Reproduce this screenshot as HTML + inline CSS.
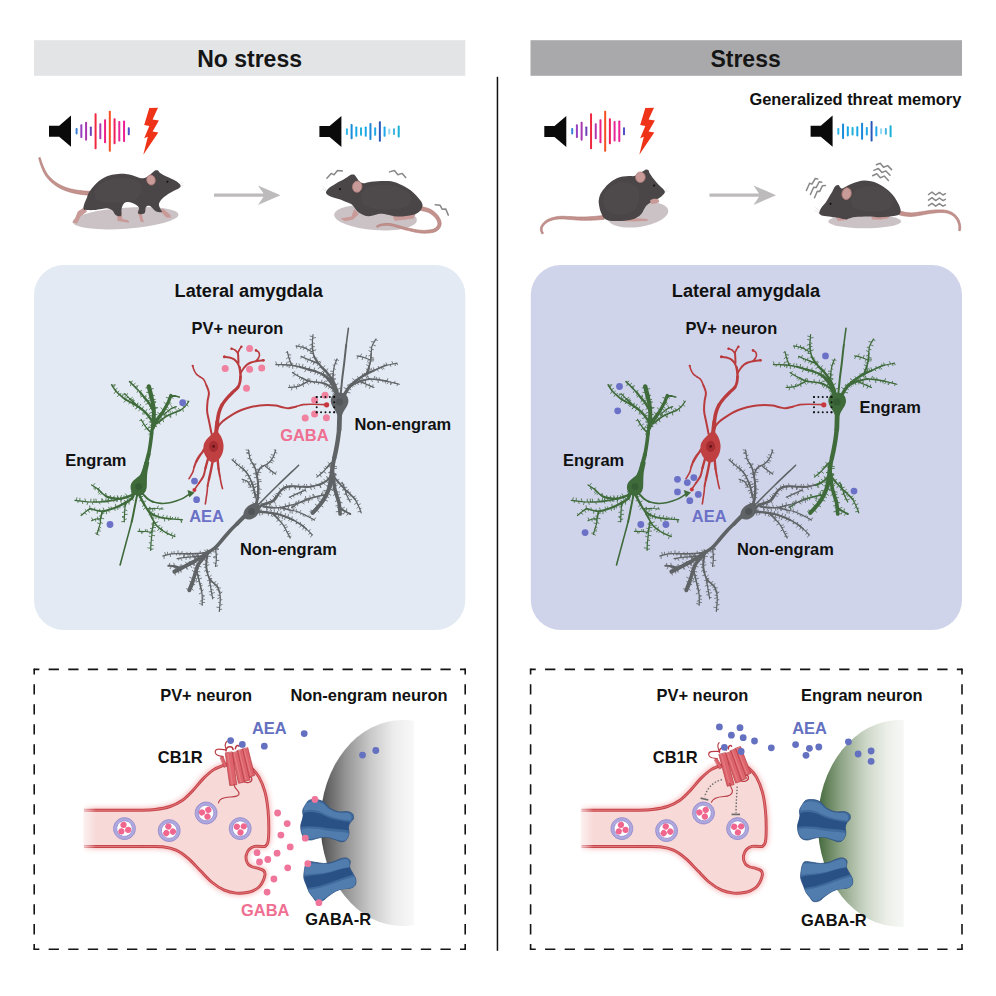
<!DOCTYPE html>
<html><head><meta charset="utf-8"><title>Graphical abstract</title>
<style>
html,body{margin:0;padding:0;background:#fff;}
svg{display:block;font-family:"Liberation Sans",sans-serif;font-weight:bold;}
</style></head><body>
<svg width="996" height="996" viewBox="0 0 996 996">
<rect width="996" height="996" fill="#fff"/>
<rect x="34" y="40.2" width="431.3" height="35.6" fill="#e3e4e5"/>
<rect x="530.5" y="40.2" width="431.5" height="35.6" fill="#a9a9ab"/>
<text x="249.6" y="67.3" font-size="23" text-anchor="middle" fill="#151515">No stress</text>
<text x="745.6" y="67.3" font-size="23" text-anchor="middle" fill="#151515">Stress</text>
<rect x="496.7" y="76.8" width="1.5" height="874" fill="#111"/>
<rect x="34" y="265" width="431.3" height="365" rx="30" fill="#e3eaf4"/>
<rect x="530.8" y="265" width="431.2" height="365" rx="30" fill="#cfd4ea"/>
<line x1="34.2" y1="669.4" x2="465.2" y2="669.4" fill="none" stroke="#141414" stroke-width="1.6" stroke-dasharray="10.30 9.29" stroke-dashoffset="5.15"/>
<line x1="34.2" y1="949.3" x2="465.2" y2="949.3" fill="none" stroke="#141414" stroke-width="1.6" stroke-dasharray="10.30 9.29" stroke-dashoffset="5.15"/>
<line x1="34.2" y1="669.4" x2="34.2" y2="949.3" fill="none" stroke="#141414" stroke-width="1.6" stroke-dasharray="10.30 9.69" stroke-dashoffset="5.15"/>
<line x1="465.2" y1="669.4" x2="465.2" y2="949.3" fill="none" stroke="#141414" stroke-width="1.6" stroke-dasharray="10.30 9.69" stroke-dashoffset="5.15"/>
<path d="M34.2 669.4h.1M465.1 669.4h.1M34.2 949.3h.1M465.1 949.3h.1" stroke="#141414" stroke-width="1.6" stroke-linecap="square"/>
<line x1="530.6" y1="669.4" x2="962.0" y2="669.4" fill="none" stroke="#141414" stroke-width="1.6" stroke-dasharray="10.30 9.31" stroke-dashoffset="5.15"/>
<line x1="530.6" y1="949.3" x2="962.0" y2="949.3" fill="none" stroke="#141414" stroke-width="1.6" stroke-dasharray="10.30 9.31" stroke-dashoffset="5.15"/>
<line x1="530.6" y1="669.4" x2="530.6" y2="949.3" fill="none" stroke="#141414" stroke-width="1.6" stroke-dasharray="10.30 9.69" stroke-dashoffset="5.15"/>
<line x1="962.0" y1="669.4" x2="962.0" y2="949.3" fill="none" stroke="#141414" stroke-width="1.6" stroke-dasharray="10.30 9.69" stroke-dashoffset="5.15"/>
<path d="M530.6 669.4h.1M961.9 669.4h.1M530.6 949.3h.1M961.9 949.3h.1" stroke="#141414" stroke-width="1.6" stroke-linecap="square"/>
<g id="top">
<path d="M49.0 125.7h10.2L71.0 115.6V146.8L59.2 136.7h-10.2z" fill="#0a0a0a"/>
<rect x="75.60" y="128.00" width="2" height="6.40" rx=".8" fill="#3a80d8"/>
<rect x="80.34" y="124.35" width="2" height="13.70" rx=".8" fill="#9840c0"/>
<rect x="85.09" y="121.75" width="2" height="18.90" rx=".8" fill="#a838b0"/>
<rect x="89.83" y="126.40" width="2" height="9.60" rx=".8" fill="#7040b8"/>
<rect x="94.58" y="113.20" width="2" height="36.00" rx=".8" fill="#f02840"/>
<rect x="99.32" y="123.20" width="2" height="16.00" rx=".8" fill="#b038b0"/>
<rect x="104.07" y="119.20" width="2" height="24.00" rx=".8" fill="#ee2088"/>
<rect x="108.81" y="110.70" width="2" height="41.00" rx=".8" fill="#f45022"/>
<rect x="113.56" y="118.20" width="2" height="26.00" rx=".8" fill="#f0205c"/>
<rect x="118.30" y="120.95" width="2" height="20.50" rx=".8" fill="#e8289a"/>
<rect x="123.05" y="120.45" width="2" height="21.50" rx=".8" fill="#ee2094"/>
<rect x="127.79" y="127.20" width="2" height="8.00" rx=".8" fill="#5050c8"/>
<polygon points="149.3,108.1 158.0,107.8 152.6,119.6 158.9,120.5 152.6,131.6 158.3,132.5 143.3,154.8 147.8,136.7 144.2,138.3 149.3,125.9 144.2,125.0" fill="#ef3318"/>
<path d="M319.4 126.0h10.2L341.4 115.9V147.1L329.6 137.0h-10.2z" fill="#0a0a0a"/>
<rect x="345.90" y="128.20" width="2" height="6.80" rx=".8" fill="#30b8ee"/>
<rect x="350.61" y="123.90" width="2" height="15.40" rx=".8" fill="#1a8cd8"/>
<rect x="355.32" y="126.50" width="2" height="10.20" rx=".8" fill="#18a8e6"/>
<rect x="360.03" y="127.35" width="2" height="8.50" rx=".8" fill="#20b0d8"/>
<rect x="364.74" y="126.50" width="2" height="10.20" rx=".8" fill="#18a8e8"/>
<rect x="369.45" y="123.10" width="2" height="17.00" rx=".8" fill="#1a88d6"/>
<rect x="374.16" y="127.35" width="2" height="8.50" rx=".8" fill="#22a8e8"/>
<rect x="378.87" y="121.35" width="2" height="20.50" rx=".8" fill="#2a58b8"/>
<rect x="383.58" y="126.50" width="2" height="10.20" rx=".8" fill="#20a8ec"/>
<rect x="388.29" y="128.60" width="2" height="6.00" rx=".8" fill="#90d8f4"/>
<rect x="393.00" y="128.20" width="2" height="6.80" rx=".8" fill="#48b4e0"/>
<rect x="397.71" y="125.60" width="2" height="12.00" rx=".8" fill="#18b0d6"/>
<path d="M544.3 126.0h10.2L566.3 115.9V147.1L554.5 137.0h-10.2z" fill="#0a0a0a"/>
<rect x="571.20" y="128.00" width="2" height="6.40" rx=".8" fill="#3a80d8"/>
<rect x="575.91" y="124.35" width="2" height="13.70" rx=".8" fill="#9840c0"/>
<rect x="580.62" y="121.75" width="2" height="18.90" rx=".8" fill="#a838b0"/>
<rect x="585.33" y="126.40" width="2" height="9.60" rx=".8" fill="#7040b8"/>
<rect x="590.04" y="113.20" width="2" height="36.00" rx=".8" fill="#f02840"/>
<rect x="594.75" y="123.20" width="2" height="16.00" rx=".8" fill="#b038b0"/>
<rect x="599.46" y="119.20" width="2" height="24.00" rx=".8" fill="#ee2088"/>
<rect x="604.17" y="110.70" width="2" height="41.00" rx=".8" fill="#f45022"/>
<rect x="608.88" y="118.20" width="2" height="26.00" rx=".8" fill="#f0205c"/>
<rect x="613.59" y="120.95" width="2" height="20.50" rx=".8" fill="#e8289a"/>
<rect x="618.30" y="120.45" width="2" height="21.50" rx=".8" fill="#ee2094"/>
<rect x="623.01" y="127.20" width="2" height="8.00" rx=".8" fill="#5050c8"/>
<polygon points="645.3,108.1 654.0,107.8 648.6,119.6 654.9,120.5 648.6,131.6 654.3,132.5 639.3,154.8 643.8,136.7 640.2,138.3 645.3,125.9 640.2,125.0" fill="#ef3318"/>
<path d="M810.6 125.7h10.2L832.6 115.6V146.8L820.8 136.7h-10.2z" fill="#0a0a0a"/>
<rect x="837.30" y="127.90" width="2" height="6.80" rx=".8" fill="#30b8ee"/>
<rect x="842.05" y="123.60" width="2" height="15.40" rx=".8" fill="#1a8cd8"/>
<rect x="846.81" y="126.20" width="2" height="10.20" rx=".8" fill="#18a8e6"/>
<rect x="851.56" y="127.05" width="2" height="8.50" rx=".8" fill="#20b0d8"/>
<rect x="856.32" y="126.20" width="2" height="10.20" rx=".8" fill="#18a8e8"/>
<rect x="861.07" y="122.80" width="2" height="17.00" rx=".8" fill="#1a88d6"/>
<rect x="865.83" y="127.05" width="2" height="8.50" rx=".8" fill="#22a8e8"/>
<rect x="870.58" y="121.05" width="2" height="20.50" rx=".8" fill="#2a58b8"/>
<rect x="875.34" y="126.20" width="2" height="10.20" rx=".8" fill="#20a8ec"/>
<rect x="880.09" y="128.30" width="2" height="6.00" rx=".8" fill="#90d8f4"/>
<rect x="884.85" y="127.90" width="2" height="6.80" rx=".8" fill="#48b4e0"/>
<rect x="889.60" y="125.30" width="2" height="12.00" rx=".8" fill="#18b0d6"/>
<path d="M214.0 193.6H263.5L258.0 185.4L280.5 195.2L258.0 205.0L263.5 196.8H214.0z" fill="#bdbbbc"/>
<path d="M709.5 193.6H759.0L753.5 185.4L776.0 195.2L753.5 205.0L759.0 196.8H709.5z" fill="#bdbbbc"/>
<ellipse cx="125.6" cy="218.2" rx="53" ry="10.6" fill="#cbc2c5" transform="rotate(-4 125.6 218.2)"/>
<polygon points="38.6,158.0 38.8,158.4 38.9,159.0 39.1,159.6 39.3,160.4 39.6,161.2 39.8,162.1 40.1,163.0 40.4,163.9 40.7,164.8 41.0,165.7 41.3,166.6 41.6,167.4 41.9,168.1 42.2,168.9 42.5,169.6 42.8,170.4 43.2,171.1 43.5,171.9 43.9,172.6 44.3,173.4 44.7,174.1 45.1,174.8 45.6,175.6 46.1,176.3 46.6,176.9 47.1,177.6 47.6,178.2 48.1,178.8 48.7,179.5 49.3,180.1 49.9,180.7 50.5,181.3 51.1,181.9 51.7,182.4 52.4,183.0 53.0,183.5 53.7,184.1 54.4,184.6 55.0,185.1 55.7,185.6 56.4,186.1 57.2,186.5 57.9,187.0 58.6,187.4 59.4,187.8 60.2,188.3 61.0,188.7 61.8,189.1 62.6,189.4 63.4,189.8 64.2,190.1 64.9,190.4 65.7,190.7 66.5,191.0 67.3,191.3 68.1,191.5 68.9,191.8 69.7,192.0 70.5,192.3 71.4,192.5 72.2,192.7 73.1,192.9 73.9,193.1 74.8,193.3 75.7,193.5 76.5,193.7 77.4,193.8 78.3,194.0 79.2,194.1 80.2,194.3 81.2,194.4 82.1,194.5 83.1,194.6 84.0,194.7 85.0,194.8 85.8,194.9 86.7,195.0 87.5,195.1 88.2,195.2 88.8,195.3 89.3,195.3 89.8,195.4 90.2,191.4 89.7,191.4 89.2,191.3 88.5,191.3 87.8,191.2 87.0,191.2 86.2,191.1 85.3,191.1 84.4,191.0 83.5,190.9 82.5,190.8 81.6,190.7 80.6,190.6 79.7,190.5 78.8,190.4 77.9,190.3 77.1,190.2 76.3,190.1 75.5,189.9 74.6,189.8 73.8,189.6 73.0,189.4 72.2,189.2 71.4,189.1 70.6,188.9 69.8,188.7 69.0,188.4 68.2,188.2 67.5,188.0 66.7,187.8 66.0,187.5 65.3,187.2 64.6,187.0 63.8,186.7 63.0,186.3 62.2,186.0 61.5,185.6 60.8,185.3 60.0,184.9 59.3,184.5 58.6,184.1 57.9,183.7 57.3,183.3 56.6,182.8 56.0,182.4 55.3,181.9 54.7,181.5 54.0,181.0 53.4,180.5 52.8,180.0 52.2,179.4 51.6,178.9 51.0,178.3 50.5,177.8 49.9,177.2 49.4,176.6 48.9,176.1 48.4,175.5 47.9,174.9 47.4,174.3 47.0,173.6 46.6,173.0 46.2,172.3 45.8,171.6 45.4,170.9 45.1,170.2 44.7,169.5 44.4,168.8 44.1,168.1 43.7,167.4 43.4,166.6 43.1,165.9 42.8,165.1 42.4,164.2 42.1,163.3 41.8,162.4 41.5,161.5 41.2,160.7 41.0,159.9 40.7,159.1 40.5,158.5 40.3,157.9 40.2,157.4" fill="#c4928c" stroke="#b07d7a" stroke-width=".7" stroke-linejoin="round"/>
<path d="M84.5 207 L77.8 211.4 L75 218.5 L72.3 222.6 L77.2 223.6 L80.5 216.6 L87 211.4z" fill="#c99b98"/>
<path d="M116.8 213 L117.6 220.9 L129.3 222.8 L128.3 220.2 L122.4 218.9 L121.8 213z" fill="#c99b98"/>
<path d="M137.5 211 L140.7 221.8 L143.9 222.6 L142.8 218.3 L141.2 211z" fill="#c99b98"/>
<path d="M158.6 209.5 L166.3 217.6 L171.2 217.8 L170.2 214.8 L163.5 209z" fill="#c99b98"/>
<path d="M88.6 193.0C89.6 191.2 91.6 188.6 93.2 186.7C94.8 184.8 96.5 183.1 98.3 181.6C100.1 180.1 102.0 178.9 104.0 177.8C106.0 176.8 107.9 175.9 110.2 175.3C112.5 174.7 115.4 174.2 118.0 174.0C120.6 173.8 123.1 173.7 125.6 173.9C128.1 174.1 130.4 174.7 133.0 175.4C135.6 176.1 138.6 177.9 140.9 178.2C143.2 178.5 145.0 178.0 147.0 177.0C149.0 176.0 151.5 173.3 152.9 172.2C154.3 171.1 154.7 170.6 155.5 170.3C156.3 170.0 157.2 170.1 158.0 170.6C158.8 171.1 159.1 172.3 160.5 173.3C161.9 174.3 164.6 175.6 166.5 176.5C168.4 177.4 170.3 178.2 172.0 179.0C173.7 179.8 175.4 180.5 176.8 181.6C178.2 182.7 180.3 184.5 180.7 185.6C181.1 186.7 180.2 187.3 179.0 188.2C177.8 189.1 175.5 189.8 173.4 191.0C171.3 192.2 168.5 193.8 166.5 195.2C164.5 196.6 162.7 197.9 161.4 199.5C160.1 201.1 159.0 202.9 158.9 204.6C158.8 206.3 160.3 208.5 160.8 209.7C161.3 210.9 162.8 211.7 162.0 212.0C161.2 212.3 158.3 212.6 156.3 211.6C154.3 210.6 151.7 206.8 150.0 206.0C148.3 205.2 146.9 205.8 146.0 207.0C145.1 208.2 145.8 212.2 144.5 213.3C143.2 214.4 139.1 214.4 138.2 213.4C137.2 212.4 139.8 208.9 138.8 207.2C137.8 205.4 134.4 203.8 132.4 202.9C130.4 202.0 128.5 201.8 127.0 202.0C125.5 202.2 124.4 202.8 123.5 204.0C122.6 205.2 122.0 207.0 121.6 209.0C121.2 211.0 122.0 214.9 121.0 215.9C120.0 216.9 117.0 215.9 115.6 215.0C114.2 214.1 113.8 211.6 112.5 210.5C111.2 209.4 109.8 208.7 108.0 208.4C106.2 208.1 104.0 208.6 101.7 208.9C99.4 209.2 96.3 209.8 94.0 210.0C91.7 210.2 89.7 210.2 88.0 210.0C86.3 209.8 84.2 210.2 83.6 209.0C83.0 207.8 84.0 204.9 84.6 203.0C85.2 201.1 86.3 199.2 87.0 197.5C87.7 195.8 87.6 194.8 88.6 193.0Z" fill="#4a4547"/>
<path d="M100 184 C110 177 126 176 138 181 C144 186 143 196 133 200 C120 203 106 204 96 200 C93 194 95 188 100 184z" fill="#5b5658" opacity=".3"/>
<ellipse cx="151" cy="180" rx="4.2" ry="5" fill="#c99b98" stroke="#b07d7a" stroke-width=".8" transform="rotate(-15 151 180)"/>
<circle cx="167.4" cy="181.8" r="1" fill="#111"/>
<path d="M180 185 l3.5 -3 M180.3 186 l3.6 -1" stroke="#e6e2e2" stroke-width=".6" fill="none"/>
<ellipse cx="375.5" cy="217.5" rx="41.5" ry="12.6" fill="#cbc2c5" transform="rotate(4 375.5 217.5)"/>
<polygon points="420.5,210.4 421.1,210.5 421.7,210.6 422.4,210.8 423.1,211.0 423.9,211.1 424.8,211.3 425.7,211.6 426.5,211.8 427.3,212.0 428.1,212.3 428.8,212.6 429.4,212.9 430.1,213.3 430.7,213.7 431.4,214.2 432.1,214.7 432.7,215.2 433.4,215.8 434.0,216.3 434.5,216.9 435.0,217.5 435.5,218.0 435.9,218.6 436.3,219.2 436.7,219.9 437.1,220.6 437.4,221.4 437.6,222.0 437.8,222.7 437.9,223.3 437.9,223.9 437.8,224.4 437.7,224.9 437.5,225.5 437.2,226.0 436.8,226.6 436.4,227.1 435.9,227.6 435.4,228.1 434.7,228.5 433.9,228.9 433.4,229.1 432.8,229.3 432.2,229.5 431.4,229.6 430.7,229.8 429.9,229.9 429.1,230.0 428.2,230.1 427.3,230.2 426.5,230.3 425.5,230.3 424.6,230.4 423.7,230.4 422.8,230.4 421.9,230.3 421.2,230.3 420.4,230.2 419.7,230.2 418.9,230.1 418.1,230.0 417.4,229.9 416.6,229.8 415.7,229.6 414.9,229.5 414.1,229.3 413.3,229.2 412.5,229.0 411.6,228.8 410.8,228.6 410.0,228.5 409.1,228.3 408.3,228.1 407.5,227.9 406.7,227.7 405.9,227.6 405.1,227.4 404.3,227.2 403.5,227.0 402.7,226.8 401.9,226.5 401.1,226.3 400.3,226.1 399.4,225.8 398.6,225.6 397.8,225.3 397.0,225.1 396.2,224.9 395.4,224.7 394.6,224.5 393.9,224.3 393.1,224.1 392.4,224.0 391.7,223.8 391.1,223.7 390.0,223.6 388.9,223.5 388.0,223.5 387.0,223.4 386.1,223.5 385.2,223.5 384.4,223.6 383.7,223.7 382.9,223.8 382.2,223.9 381.6,224.0 381.0,224.1 379.6,224.4 378.4,224.9 377.5,225.4 376.9,225.8 376.4,226.1 377.2,227.5 377.7,227.2 378.4,226.8 379.1,226.4 380.1,226.0 381.2,225.7 381.8,225.7 382.5,225.6 383.1,225.5 383.8,225.4 384.6,225.4 385.4,225.3 386.2,225.3 387.0,225.3 387.9,225.3 388.8,225.4 389.8,225.5 390.7,225.7 391.4,225.8 392.0,225.9 392.7,226.1 393.4,226.3 394.1,226.5 394.9,226.7 395.6,226.9 396.4,227.1 397.2,227.4 398.0,227.6 398.8,227.9 399.6,228.2 400.4,228.4 401.3,228.7 402.1,228.9 402.9,229.2 403.7,229.4 404.5,229.6 405.3,229.9 406.1,230.1 407.0,230.2 407.8,230.4 408.6,230.6 409.4,230.8 410.3,231.0 411.1,231.2 411.9,231.4 412.8,231.6 413.6,231.8 414.4,232.0 415.3,232.2 416.1,232.3 416.9,232.5 417.7,232.6 418.6,232.7 419.4,232.8 420.2,232.9 421.0,233.0 421.7,233.1 422.7,233.1 423.7,233.2 424.7,233.2 425.6,233.2 426.6,233.1 427.6,233.1 428.5,233.0 429.4,232.9 430.3,232.8 431.2,232.7 432.0,232.5 432.9,232.4 433.6,232.2 434.4,232.0 435.1,231.7 436.2,231.2 437.1,230.6 438.0,230.0 438.8,229.2 439.4,228.4 440.0,227.6 440.4,226.8 440.7,225.9 441.0,225.0 441.1,224.1 441.1,223.1 441.0,222.1 440.8,221.2 440.5,220.2 440.2,219.3 439.7,218.4 439.2,217.5 438.7,216.6 438.2,215.9 437.7,215.2 437.1,214.6 436.5,213.9 435.8,213.2 435.1,212.5 434.3,211.9 433.6,211.3 432.8,210.7 432.0,210.2 431.2,209.7 430.4,209.3 429.5,208.9 428.5,208.5 427.6,208.2 426.7,207.9 425.7,207.7 424.8,207.4 424.0,207.2 423.2,207.1 422.6,206.9 422.0,206.7 421.7,206.6" fill="#c4928c" stroke="#b07d7a" stroke-width=".7" stroke-linejoin="round"/>
<path d="M354 209 L351.5 216.6 L340.3 218.6 L345.2 221.3 L353 219.5 L359 214z" fill="#c99b98"/>
<path d="M392.8 216 L394.5 220.8 L403 220 L413.6 218.5 L415.5 214z" fill="#c99b98"/>
<path d="M326.0 191.8C326.3 190.7 327.8 189.1 329.0 188.0C330.2 186.9 331.8 186.2 333.3 185.3C334.8 184.4 336.4 183.2 338.0 182.3C339.6 181.4 341.5 180.6 343.1 179.7C344.7 178.8 346.2 177.8 347.5 177.0C348.8 176.2 349.7 175.2 350.8 174.8C351.9 174.4 353.1 174.2 354.0 174.6C354.9 175.0 355.6 176.3 356.5 177.5C357.4 178.7 358.3 180.6 359.5 181.5C360.7 182.4 362.0 183.1 363.5 183.2C365.0 183.3 366.8 182.5 368.5 182.2C370.2 181.9 371.9 181.7 374.0 181.5C376.1 181.3 378.6 181.1 381.0 181.0C383.4 180.9 385.9 180.9 388.1 181.1C390.3 181.3 392.1 181.5 394.0 182.0C395.9 182.5 397.5 183.1 399.3 183.9C401.1 184.7 403.1 185.8 405.0 186.8C406.9 187.9 408.9 188.9 410.6 190.2C412.3 191.4 413.6 192.9 415.0 194.3C416.4 195.7 417.9 197.4 419.0 198.7C420.1 200.0 420.9 200.9 421.5 202.0C422.1 203.1 422.6 204.2 422.6 205.3C422.6 206.4 422.0 207.6 421.6 208.5C421.2 209.4 420.8 210.2 420.0 211.0C419.2 211.8 418.1 212.7 417.0 213.3C415.9 213.9 415.2 214.4 413.4 214.8C411.6 215.2 408.6 215.7 406.0 216.0C403.4 216.3 400.5 216.7 398.0 216.6C395.5 216.5 393.2 215.9 390.9 215.5C388.6 215.1 386.1 214.2 384.0 214.0C381.9 213.8 380.1 213.8 378.3 214.1C376.5 214.4 374.6 215.2 373.0 215.6C371.4 215.9 369.8 216.2 368.4 216.2C367.0 216.2 365.7 215.9 364.5 215.6C363.3 215.2 362.5 214.7 361.4 214.1C360.3 213.5 358.9 212.8 358.0 212.0C357.1 211.2 356.6 210.5 355.8 209.5C355.0 208.5 354.2 207.0 353.3 206.0C352.4 205.0 351.5 204.3 350.1 203.6C348.7 202.8 346.6 202.2 345.0 201.5C343.4 200.8 342.0 200.2 340.3 199.6C338.6 199.0 336.6 198.5 335.0 198.0C333.4 197.5 331.8 197.1 330.5 196.5C329.2 195.9 327.9 195.4 327.2 194.6C326.4 193.8 325.7 192.9 326.0 191.8Z" fill="#4a4547"/>
<path d="M366 188 C378 183 398 184 408 192 C414 198 412 206 402 208 C388 211 372 210 364 205 C360 199 361 192 366 188z" fill="#5b5658" opacity=".3"/>
<ellipse cx="357.2" cy="186.7" rx="4.7" ry="5.6" fill="#c99b98" stroke="#b07d7a" stroke-width=".8" transform="rotate(8 357.2 186.7)"/>
<circle cx="340" cy="189.1" r="1.1" fill="#111"/>
<path d="M326.5 190 l-3.5 -4 M326.3 191 l-4 -2.4" stroke="#dcd8d8" stroke-width=".6" fill="none"/>
<polyline points="326.9,178.3 331.2,173.4 334.0,174.8 337.5,170.5 342.4,171.0" fill="none" stroke="#878787" stroke-width="1.5" stroke-linejoin="round" stroke-linecap="round"/>
<polyline points="389.5,171.9 394.4,170.5 397.9,174.8 402.2,173.4 405.7,177.6" fill="none" stroke="#878787" stroke-width="1.5" stroke-linejoin="round" stroke-linecap="round"/>
<polyline points="435.2,204.7 440.1,205.3 442.2,209.2 445.7,208.9 448.3,215.1" fill="none" stroke="#878787" stroke-width="1.5" stroke-linejoin="round" stroke-linecap="round"/>
<ellipse cx="638" cy="214.6" rx="30.6" ry="12.4" fill="#cbc2c5" transform="rotate(-8 638 214.6)"/>
<polygon points="603.8,215.5 603.4,215.5 602.8,215.6 602.2,215.6 601.5,215.7 600.7,215.8 599.9,215.9 599.0,216.0 598.1,216.1 597.2,216.2 596.3,216.3 595.4,216.4 594.4,216.4 593.6,216.5 592.7,216.6 591.9,216.6 591.1,216.7 590.2,216.7 589.4,216.8 588.5,216.8 587.7,216.9 586.8,216.9 586.0,216.9 585.1,217.0 584.3,217.0 583.4,217.0 582.6,217.0 581.8,217.0 581.0,217.0 580.2,217.0 579.3,217.0 578.5,217.0 577.6,217.0 576.8,216.9 575.9,216.9 575.1,216.8 574.3,216.8 573.4,216.7 572.6,216.7 571.8,216.6 570.9,216.6 570.1,216.6 569.2,216.5 568.4,216.5 567.6,216.5 566.7,216.4 565.9,216.4 565.1,216.3 564.2,216.3 563.4,216.3 562.6,216.3 561.7,216.3 560.9,216.3 560.1,216.3 559.2,216.4 558.3,216.5 557.4,216.6 556.5,216.7 555.6,216.9 554.8,217.1 554.0,217.3 553.2,217.5 552.4,217.7 551.7,217.9 550.8,218.2 549.9,218.5 549.1,218.9 548.3,219.2 547.6,219.6 546.8,220.0 546.1,220.5 545.5,220.9 544.8,221.5 544.1,222.2 543.4,222.8 542.8,223.5 542.3,224.2 541.8,224.8 541.4,225.5 540.9,226.5 540.6,227.4 540.4,228.3 540.4,229.2 540.4,230.1 540.7,231.3 541.2,232.4 541.6,233.4 541.9,234.0 543.5,233.2 543.2,232.6 542.7,231.7 542.4,230.7 542.2,229.9 542.2,229.3 542.3,228.6 542.4,227.9 542.7,227.2 543.0,226.5 543.4,225.9 543.8,225.4 544.3,224.8 544.9,224.2 545.5,223.7 546.1,223.1 546.7,222.7 547.3,222.3 547.9,221.9 548.6,221.5 549.3,221.2 550.0,220.9 550.7,220.6 551.5,220.4 552.3,220.1 553.0,219.9 553.7,219.7 554.5,219.6 555.3,219.4 556.1,219.3 556.9,219.2 557.7,219.1 558.6,219.0 559.4,218.9 560.3,218.9 561.0,218.9 561.7,218.9 562.5,218.9 563.3,218.9 564.1,219.0 564.9,219.0 565.7,219.1 566.5,219.2 567.4,219.2 568.2,219.3 569.1,219.4 569.9,219.4 570.7,219.5 571.6,219.6 572.4,219.6 573.2,219.7 574.0,219.8 574.9,219.8 575.7,219.9 576.6,220.0 577.4,220.0 578.3,220.1 579.2,220.1 580.2,220.2 581.0,220.2 581.8,220.2 582.6,220.2 583.5,220.3 584.3,220.3 585.2,220.3 586.0,220.3 586.9,220.3 587.7,220.3 588.6,220.2 589.5,220.2 590.4,220.2 591.2,220.2 592.1,220.2 592.9,220.1 593.8,220.1 594.7,220.0 595.6,220.0 596.6,219.9 597.5,219.8 598.4,219.8 599.4,219.7 600.2,219.6 601.1,219.6 601.8,219.5 602.5,219.5 603.2,219.4 603.7,219.4 604.2,219.3" fill="#c4928c" stroke="#b07d7a" stroke-width=".7" stroke-linejoin="round"/>
<path d="M618 217 L620.5 221 L634 221.6 L648 220.8 L647.4 219 L633 218z" fill="#c99b98"/>
<path d="M664.8 192.6C664.5 193.6 663.0 195.0 662.0 196.0C661.0 197.0 659.7 197.7 658.5 198.4C657.3 199.1 656.3 199.3 655.0 200.0C653.7 200.7 651.8 201.7 650.5 202.5C649.2 203.3 648.0 204.0 647.0 205.0C646.0 206.0 645.3 207.1 644.5 208.4C643.7 209.7 643.0 211.7 642.0 213.0C641.0 214.3 640.2 215.4 638.5 216.5C636.8 217.6 634.4 218.9 632.0 219.6C629.6 220.3 627.1 220.6 624.4 220.8C621.7 221.0 618.7 221.1 616.0 221.0C613.3 220.9 610.4 220.9 608.4 220.4C606.4 219.9 605.2 219.1 604.0 218.0C602.8 216.9 602.2 215.4 601.4 213.6C600.6 211.8 599.8 209.2 599.4 207.0C599.0 204.8 598.5 202.7 598.7 200.5C598.9 198.3 599.5 196.0 600.4 194.0C601.3 192.0 602.8 190.2 604.3 188.4C605.8 186.6 607.5 184.6 609.5 183.0C611.5 181.4 614.1 179.7 616.4 178.6C618.6 177.5 620.9 177.0 623.0 176.6C625.1 176.2 627.1 176.1 629.0 176.0C630.9 175.9 632.8 176.4 634.5 176.0C636.2 175.6 637.5 174.3 639.0 173.5C640.5 172.7 642.3 171.7 643.5 171.0C644.7 170.3 645.2 169.7 646.0 169.6C646.8 169.5 647.9 169.6 648.5 170.2C649.1 170.8 648.8 171.8 649.5 173.0C650.2 174.2 651.3 175.8 652.5 177.4C653.7 179.0 655.3 180.9 656.6 182.4C657.9 183.9 659.3 185.2 660.5 186.5C661.7 187.8 663.3 189.0 664.0 190.0C664.7 191.0 665.1 191.6 664.8 192.6Z" fill="#4a4547"/>
<path d="M607 190 C614 181 628 180 636 186 C642 193 640 206 632 212 C622 217 610 215 605 208 C602 201 603 195 607 190z" fill="#5b5658" opacity=".3"/>
<ellipse cx="640.4" cy="177.2" rx="4.8" ry="5.2" fill="#c99b98" stroke="#b07d7a" stroke-width=".8"/>
<circle cx="654.1" cy="185.6" r="1.1" fill="#111"/>
<path d="M650 200.5 C652 198.6 656 198.4 658.6 199.6 L659.4 202 L656 203.6 L651.4 204z" fill="#c99b98"/>
<path d="M665 191 l3.2 -3.6 M665.2 192 l3.8 -1.6" stroke="#e0dcdc" stroke-width=".6" fill="none"/>
<ellipse cx="864.7" cy="221.4" rx="36.5" ry="6.8" fill="#cbc2c5"/>
<polygon points="899.2,214.9 899.7,215.0 900.3,215.1 901.1,215.3 902.0,215.5 902.9,215.7 903.9,215.9 904.9,216.0 905.8,216.1 906.6,216.2 907.4,216.3 908.2,216.3 909.0,216.4 909.9,216.4 910.7,216.4 911.6,216.4 912.5,216.3 913.3,216.3 914.2,216.2 915.0,216.1 915.9,215.9 916.7,215.8 917.6,215.7 918.5,215.5 919.4,215.4 920.2,215.2 921.1,215.1 921.9,214.9 922.8,214.8 923.6,214.6 924.5,214.4 925.3,214.3 926.2,214.1 927.0,214.0 927.9,213.8 928.7,213.7 929.6,213.6 930.4,213.4 931.3,213.3 932.1,213.2 933.0,213.1 933.8,213.0 934.6,212.9 935.5,212.8 936.3,212.7 937.1,212.7 937.9,212.6 938.8,212.6 939.7,212.5 940.6,212.5 941.4,212.5 942.2,212.5 943.0,212.5 943.8,212.6 944.5,212.6 945.4,212.8 946.4,212.9 947.2,213.1 948.0,213.3 948.8,213.6 949.5,213.9 950.3,214.2 951.0,214.5 951.6,214.9 952.3,215.3 952.9,215.8 953.5,216.2 954.2,216.8 954.8,217.5 955.4,218.2 955.9,218.9 956.4,219.6 956.9,220.2 957.2,220.9 957.5,221.6 957.8,222.2 958.1,223.0 958.3,223.8 958.5,224.6 958.7,225.4 958.8,226.3 958.9,227.1 958.9,228.0 958.8,229.0 958.7,229.9 958.7,230.6 960.3,230.8 960.4,230.2 960.6,229.2 960.7,228.1 960.7,226.9 960.6,226.1 960.5,225.1 960.4,224.2 960.2,223.3 959.9,222.4 959.7,221.6 959.4,220.8 959.0,220.0 958.6,219.2 958.2,218.4 957.6,217.6 957.0,216.8 956.4,216.1 955.7,215.3 954.9,214.6 954.3,214.0 953.6,213.5 952.8,213.0 952.1,212.5 951.3,212.1 950.5,211.7 949.6,211.4 948.7,211.1 947.8,210.8 946.9,210.5 945.8,210.3 944.7,210.2 944.0,210.1 943.2,210.0 942.3,209.9 941.4,209.9 940.6,209.9 939.7,209.9 938.8,209.9 937.8,209.9 936.9,209.9 936.1,210.0 935.2,210.0 934.4,210.1 933.5,210.2 932.6,210.2 931.8,210.3 930.9,210.4 930.0,210.5 929.2,210.6 928.3,210.7 927.4,210.8 926.5,211.0 925.7,211.1 924.8,211.2 923.9,211.4 923.1,211.5 922.2,211.6 921.4,211.8 920.6,211.9 919.8,212.0 918.9,212.1 918.0,212.2 917.1,212.4 916.2,212.5 915.4,212.6 914.6,212.7 913.8,212.8 913.0,212.8 912.3,212.9 911.5,212.9 910.7,212.9 910.0,212.8 909.2,212.8 908.5,212.7 907.7,212.7 907.0,212.6 906.2,212.5 905.5,212.3 904.6,212.2 903.7,212.0 902.8,211.8 902.0,211.6 901.2,211.4 900.5,211.2 900.0,211.1" fill="#c4928c" stroke="#b07d7a" stroke-width=".7" stroke-linejoin="round"/>
<path d="M836.5 218 L837.8 221 L846.6 220 L849 216.5z" fill="#c99b98"/>
<path d="M871 216.5 L872.3 219.6 L880 219.8 L888.6 218.3 L889 215.6z" fill="#c99b98"/>
<path d="M819.3 212.2C819.6 211.1 820.4 209.1 821.5 207.5C822.6 205.9 824.5 204.3 825.7 202.6C827.0 200.8 827.9 198.8 829.0 197.0C830.1 195.2 831.3 193.6 832.1 192.1C832.9 190.6 833.3 189.1 834.0 188.0C834.7 186.9 835.4 186.0 836.1 185.5C836.9 185.0 837.9 184.8 838.5 185.0C839.1 185.2 839.4 186.4 840.0 187.0C840.6 187.6 840.8 188.7 842.0 188.5C843.2 188.3 845.2 186.9 847.0 186.0C848.8 185.1 851.1 184.1 853.0 183.3C854.9 182.5 856.6 181.9 858.5 181.4C860.4 180.9 862.2 180.6 864.3 180.6C866.4 180.6 868.9 180.8 871.0 181.2C873.1 181.6 875.1 182.4 877.1 183.3C879.1 184.2 881.1 185.3 883.0 186.5C884.9 187.7 886.8 189.1 888.4 190.5C890.0 191.9 891.5 193.4 892.8 195.0C894.1 196.6 895.4 198.5 896.4 200.2C897.4 201.9 898.3 203.4 899.0 205.0C899.7 206.6 900.4 208.5 900.6 209.8C900.8 211.1 900.6 212.1 900.2 213.0C899.8 213.9 899.4 214.5 898.4 215.0C897.4 215.5 895.4 215.8 894.0 216.0C892.6 216.2 891.8 216.2 890.0 216.4C888.2 216.6 885.1 216.9 883.0 217.0C880.9 217.1 879.3 217.3 877.1 217.2C874.9 217.1 872.1 216.7 870.0 216.6C867.9 216.5 866.3 216.4 864.3 216.4C862.3 216.4 859.9 216.7 858.0 216.8C856.1 216.9 854.5 216.9 853.0 217.2C851.5 217.5 850.1 218.2 849.0 218.6C847.9 219.0 847.8 219.4 846.6 219.4C845.4 219.4 843.3 219.1 842.0 218.8C840.7 218.5 840.1 218.1 838.6 217.8C837.1 217.5 834.6 217.4 833.0 217.2C831.4 217.0 830.3 216.7 828.9 216.5C827.5 216.3 825.7 216.2 824.5 216.0C823.3 215.8 822.5 215.7 821.7 215.4C820.9 215.1 820.0 214.5 819.6 214.0C819.2 213.5 819.0 213.3 819.3 212.2Z" fill="#4a4547"/>
<path d="M856 190 C866 184 882 185 890 193 C895 199 894 207 886 210 C874 213 860 212 853 207 C850 200 851 194 856 190z" fill="#5b5658" opacity=".3"/>
<ellipse cx="846.6" cy="193.7" rx="4.6" ry="5.9" fill="#c99b98" stroke="#b07d7a" stroke-width=".8" transform="rotate(12 846.6 193.7)"/>
<circle cx="830.5" cy="203.8" r="1.1" fill="#111"/>
<path d="M819.3 211 l-4 -3.6 M819 212.4 l-4.2 -1.6" stroke="#dcd8d8" stroke-width=".6" fill="none"/>
<polyline points="806.4,190.5 809.6,183.3 812.0,184.1 815.3,178.5 817.7,179.0" fill="none" stroke="#878787" stroke-width="1.5" stroke-linejoin="round" stroke-linecap="round"/>
<polyline points="810.4,194.5 813.7,187.3 816.1,187.6 819.3,181.7 821.7,182.2" fill="none" stroke="#878787" stroke-width="1.5" stroke-linejoin="round" stroke-linecap="round"/>
<polyline points="814.5,197.8 817.3,191.3 819.6,191.6 822.5,185.7 825.4,185.4" fill="none" stroke="#878787" stroke-width="1.5" stroke-linejoin="round" stroke-linecap="round"/>
<polyline points="876.3,164.8 880.3,163.2 883.5,167.2 887.6,165.6 891.6,169.6" fill="none" stroke="#878787" stroke-width="1.5" stroke-linejoin="round" stroke-linecap="round"/>
<polyline points="873.9,170.4 878.4,168.4 881.9,172.5 885.9,170.9 890.0,175.3" fill="none" stroke="#878787" stroke-width="1.5" stroke-linejoin="round" stroke-linecap="round"/>
<polyline points="872.6,175.7 876.8,173.7 880.3,177.7 884.3,176.1 888.4,180.4" fill="none" stroke="#878787" stroke-width="1.5" stroke-linejoin="round" stroke-linecap="round"/>
<polyline points="928.5,194.5 932.0,192.1 935.7,195.0 939.4,192.4 943.0,195.0 945.4,193.7" fill="none" stroke="#878787" stroke-width="1.5" stroke-linejoin="round" stroke-linecap="round"/>
<polyline points="928.5,200.1 932.0,197.7 935.7,200.6 939.4,198.0 943.0,200.6 945.4,199.3" fill="none" stroke="#878787" stroke-width="1.5" stroke-linejoin="round" stroke-linecap="round"/>
<polyline points="928.5,205.7 932.0,203.3 935.7,206.2 939.4,203.6 943.0,206.2 945.4,204.9" fill="none" stroke="#878787" stroke-width="1.5" stroke-linejoin="round" stroke-linecap="round"/>
<text x="749.4" y="104.6" font-size="16.45" fill="#111">Generalized threat memory</text>
</g>
<g id="neurons">
<g transform="translate(0.0 0)" fill="none" stroke="#5f6365" stroke-linecap="round" stroke-linejoin="round">
<path d="M337.4 396.7l-3.2 0.6M336.7 394.7l4.2 0.3M335.5 391.4l-3.2 0.4M334.7 389.4l1.8 -2.0M333.6 386.9l-2.7 2.1M332.7 385.1l2.8 -0.3M332.0 383.8l-3.5 1.9M330.8 382.0l2.4 -2.0M329.2 379.9l-3.3 1.7M327.5 378.0l2.6 -1.1M325.5 376.3l-2.0 1.3M323.2 374.8l0.8 -2.8M322.0 374.1l-1.9 2.0M320.5 373.4l2.2 -2.2M318.5 372.5l-0.9 2.0M316.0 371.5l-1.3 2.6M314.0 370.9l0.5 -2.9M311.6 370.3l-1.0 2.3M309.0 369.6l0.8 -2.8M306.6 368.9l-1.9 2.8M304.6 368.3l0.8 -1.9M302.5 367.7l0.4 -3.3M299.5 366.9l-0.4 -3.0M297.5 366.4l-0.9 1.7M295.6 366.0l0.9 -2.5M292.6 365.4l0.2 3.1M291.1 365.2l-0.0 -2.7M289.0 365.0l0.2 2.7M287.5 364.9l-0.5 1.8M285.9 364.8l1.3 -2.7M283.0 364.7l-0.1 2.4M281.2 364.7l0.4 -2.2M278.9 364.7l-0.4 1.6M276.8 364.7l-1.0 -2.8M337.0 394.7l-2.8 0.3M337.1 392.2l-2.9 -0.5M336.6 389.6l3.4 -1.1M336.1 388.1l-2.1 1.6M335.1 385.5l2.9 -1.9M334.1 383.1l-3.4 0.8M333.2 381.3l1.9 -2.1M331.9 379.1l-2.9 1.6M330.7 377.4l-1.9 1.6M329.5 375.7l1.2 -2.2M328.5 374.4l-1.7 1.7M327.2 372.8l-1.6 2.6M326.1 371.6l1.6 -2.8M324.7 370.1l-1.3 2.6M322.8 368.4l1.9 -2.7M321.0 366.6l-2.8 1.9M319.3 364.5l1.4 -2.4M317.8 362.4l2.1 -1.0M316.6 360.7l-2.0 2.5M315.1 358.5l1.9 -0.5M314.0 356.2l-1.6 1.5M313.3 353.6l-3.2 -0.5M312.8 351.0l3.0 -1.1M312.4 348.2l-1.7 0.9M312.3 346.2l2.2 0.5M312.3 344.0l-2.7 1.2M312.4 342.5l2.0 0.9M312.5 340.1l-2.5 -0.6M312.7 338.3l2.8 -0.8M312.8 336.7l-2.7 -0.6M311.2 351.4l-0.3 2.1M309.7 350.5l0.8 -2.1M308.2 349.7l-0.6 1.6M306.1 348.5l0.1 -1.8M304.5 347.8l-1.1 1.7M303.0 347.3l-0.1 -1.9M301.3 346.8l-0.8 2.0M298.5 346.3l0.8 -2.1M296.4 346.0l0.5 2.3M318.2 363.4l-0.9 2.1M315.9 362.5l1.4 -2.5M314.2 361.9l-1.0 2.6M312.5 361.2l-1.6 1.6M310.1 360.2l0.2 -2.2M308.2 359.4l-0.8 2.6M306.0 358.5l-0.2 1.5M303.7 357.5l1.1 -2.0M301.7 356.7l-0.9 1.6M291.5 365.0l-1.2 1.2M291.1 363.9l1.7 -0.2M290.1 361.2l-2.0 1.0M289.1 358.5l1.6 -0.5M288.7 356.9l-2.2 1.8M288.1 354.6l2.7 0.4M287.5 352.2l-1.4 0.2M335.3 391.7l-2.5 2.4M333.8 389.6l-2.1 1.3M332.4 388.4l1.1 -3.0M330.2 386.7l-1.9 1.7M328.9 385.8l2.2 -2.5M327.6 385.0l-1.7 2.5M325.3 384.0l-0.5 2.1M323.2 383.3l2.0 -2.5M321.3 382.9l0.7 -2.9M318.7 382.4l-0.5 1.9M316.5 382.1l-0.0 -2.5M314.0 381.8l0.5 1.9M310.9 381.5l-0.7 1.7M309.5 381.3l0.4 -2.4M307.0 380.6l1.8 -2.1M304.7 379.5l-1.5 1.5M302.5 378.2l-1.9 2.1M300.0 377.0l-0.6 1.8M297.5 375.7l0.2 -1.6M295.2 374.5l-2.1 1.7M293.0 372.9l1.8 -1.2M308.2 381.2l-0.2 -2.3M306.6 382.1l1.9 2.3M304.0 383.5l-0.9 -2.0M302.5 384.2l1.0 2.4M300.5 385.4l-1.6 -1.4M298.0 386.4l-0.2 -2.0M296.1 386.7l0.6 2.3M294.4 386.9l-0.4 -2.2M292.1 387.2l-0.5 2.7M290.0 387.4l-0.6 -2.2M332.7 380.8l-2.0 -0.8M332.9 378.5l2.6 0.3M333.1 375.5l2.2 -0.7M333.2 373.4l-2.1 0.6M333.4 371.4l-2.7 -0.2M333.8 368.5l1.5 0.8M334.4 365.9l-1.4 -1.0M335.2 363.5l1.9 0.4M336.3 360.7l-1.8 -0.8M336.9 359.3l1.6 1.2M342.7 396.8l-1.6 -3.1M343.8 395.5l2.8 0.9M344.8 394.1l-3.8 -0.5M346.1 391.8l3.9 1.1M347.5 389.5l-3.5 -1.9M348.7 387.8l2.2 1.9M349.9 386.2l-1.9 -1.9M351.7 384.4l2.5 1.8M353.2 383.1l2.6 1.8M355.6 381.1l-2.9 -2.4M357.6 379.5l2.9 2.2M359.1 378.3l-1.9 -1.7M361.6 376.6l1.5 3.0M362.9 375.9l-0.5 -2.2M364.7 374.9l2.1 2.9M366.6 374.0l1.1 2.9M368.4 373.1l-0.0 -2.9M370.3 372.2l-0.7 -3.3M372.5 371.2l-1.4 -2.9M374.4 370.4l-1.1 -2.7M376.7 369.3l1.7 1.6M379.0 368.2l-0.7 -1.8M380.9 367.4l1.5 2.0M382.3 366.8l1.8 2.2M384.7 365.8l-0.7 -1.7M386.9 365.2l-0.8 -2.3M390.1 364.5l0.7 1.8M393.0 363.9l-1.0 -2.3M395.1 363.5l0.2 2.1M396.7 363.3l0.9 1.5M366.6 373.5l-2.5 0.1M367.2 371.9l3.0 -0.1M367.9 370.3l-1.8 -1.4M368.7 368.0l1.4 1.2M369.3 366.0l-2.7 -1.1M370.1 363.0l-2.1 -0.1M370.5 361.1l3.1 -0.3M370.8 359.1l3.0 0.2M371.0 357.5l2.6 0.5M371.1 355.0l-2.3 0.9M371.3 351.9l-2.4 -1.2M371.4 349.3l2.0 0.4M371.7 347.4l-2.1 -0.2M372.6 344.8l2.8 0.9M374.1 342.0l-2.8 -0.3M375.6 339.6l1.8 0.8M370.4 360.0l0.3 -3.0M368.8 359.3l-1.1 2.1M365.6 358.0l0.9 -2.7M363.0 357.2l-0.8 2.4M360.1 356.5l1.4 -2.5M358.5 356.1l-1.4 2.5M349.2 387.3l-1.7 -2.0M350.6 385.9l2.0 1.1M352.2 384.7l-2.0 -1.3M354.9 383.3l-2.1 -1.9M357.4 382.3l0.8 2.3M360.0 381.3l-0.5 -2.0M362.5 380.5l0.7 2.4M365.5 379.7l-0.1 3.3M368.6 379.1l-0.5 -2.6M371.2 378.9l1.1 2.6M373.8 379.1l1.0 -2.8M376.4 379.4l-0.1 -2.1M378.0 379.6l0.2 3.0M379.5 379.8l-0.3 -2.0M382.6 380.3l0.3 1.7M385.1 380.8l0.4 2.2M387.1 381.2l0.7 -2.6M388.7 381.6l-1.5 2.2M390.6 382.0l0.0 2.5M392.5 382.5l-1.7 2.0M394.7 383.1l0.2 -1.8M397.6 383.9l-0.5 1.7M360.3 381.6l1.1 -2.8M361.4 382.1l-0.2 1.9M364.4 383.4l1.3 -1.2M366.5 384.3l-0.7 2.6M369.0 385.4l0.4 -1.5M370.6 386.1l-1.2 2.3M372.6 386.9l0.4 -2.0M332.7 465.8l4.0 0.9M332.6 466.8l-3.6 -1.2M332.4 468.7l4.3 -0.3M332.1 471.5l-3.4 1.1M331.8 473.8l4.4 0.9M331.5 476.0l3.5 0.4M331.1 479.1l3.9 -0.7M330.7 481.7l-3.5 0.7M330.2 484.2l3.2 -0.5M329.7 486.1l-3.1 -0.3M329.0 488.6l3.5 1.3M328.1 491.0l-4.3 -0.6M327.3 492.8l3.5 2.4M326.7 494.2l-2.0 -2.4M325.8 496.0l3.1 1.6M324.8 497.7l-2.1 -2.5M323.9 499.4l3.5 1.6M322.8 501.1l-2.2 -2.3M321.5 502.9l-3.5 -2.5M319.9 504.9l3.1 1.8M318.4 506.7l-3.1 -2.5M316.0 509.3l2.9 2.8M313.9 511.6l-3.1 -1.6M312.9 512.7l-2.9 -1.0M332.5 472.1l-3.3 0.4M332.7 473.3l3.2 0.4M332.9 475.4l3.3 -0.2M333.2 477.7l-3.4 1.3M333.5 480.0l-3.1 1.1M333.8 482.0l3.6 -1.9M334.0 484.1l-3.9 0.5M334.4 486.7l2.9 -1.5M334.7 488.2l-3.7 1.3M335.0 489.7l-3.0 0.9M335.6 491.7l3.9 0.4M336.1 493.7l-2.8 1.7M336.7 495.6l2.8 -1.4M337.5 498.0l3.3 -0.4M338.3 500.2l-3.0 1.2M338.9 502.2l3.2 0.5M339.4 505.3l-3.5 0.6M339.7 508.2l3.7 1.2M339.9 511.1l-3.7 0.7M340.1 513.7l3.5 0.1M339.8 506.3l-2.4 1.2M341.3 508.8l3.1 -1.4M342.5 509.8l-1.7 1.9M345.0 511.2l-1.2 2.5M346.5 512.0l0.2 -3.2M348.6 513.2l-1.9 2.2M342.6 483.3l-1.6 0.7M343.3 484.9l-1.3 1.3M344.6 488.0l2.2 -0.8M345.3 490.0l-2.4 -0.1M345.8 492.3l2.6 -0.4M346.4 494.3l-2.3 -0.1M347.4 496.7l1.8 -2.1M348.5 498.8l-1.4 0.7M349.3 500.2l2.5 -1.0M333.7 476.2l2.0 -1.5M335.0 478.0l-2.7 1.5M337.1 480.7l1.9 -1.2M338.2 482.1l-2.3 2.3M339.5 483.7l2.9 -1.4M341.0 485.3l-1.8 2.6M342.8 487.2l1.3 -2.8M344.3 488.7l-1.6 1.2M346.6 490.9l2.1 -1.2M348.2 492.3l-2.8 1.5M349.6 493.7l0.7 -1.6M351.5 495.4l-1.7 0.8M353.3 497.2l2.0 -1.2M355.2 499.6l1.0 -1.5M356.2 501.3l1.8 -0.7M357.0 502.7l-2.4 1.6M358.1 505.1l2.2 -1.2M358.7 506.5l-1.6 1.7M359.6 508.7l1.6 -0.5M360.7 511.4l-2.7 0.4M333.2 462.1l-0.4 -1.9M331.7 462.7l0.8 2.0M329.9 464.0l-1.9 -1.6M328.1 466.2l2.2 1.0M326.7 467.9l-1.2 -1.6M325.4 469.4l-1.4 -1.6M323.6 471.4l2.3 1.8M321.7 473.2l-1.8 -1.2M319.8 474.7l1.4 2.1M317.7 476.4l-1.2 -2.0M331.9 473.8l2.4 2.5M330.5 476.5l2.0 0.9M329.0 478.6l-2.5 -2.1M327.8 479.9l-0.8 -2.1M326.1 481.2l-2.3 -1.8M323.3 482.8l2.1 2.3M322.0 483.5l-0.1 -2.3M320.3 484.2l0.1 3.4M318.8 484.7l2.2 2.5M324.4 495.6l-2.4 0.1M322.9 495.0l-0.2 -3.3M321.6 495.3l-0.1 -1.9M319.0 496.1l-0.0 3.2M317.2 496.6l0.4 2.2M315.0 497.2l-1.5 -2.8M313.5 497.5l-0.7 -3.0M311.9 497.9l0.1 1.9M310.4 498.2l-0.5 -2.4M308.9 498.5l0.9 2.0M305.9 499.4l-0.4 -2.9M303.6 500.4l0.9 1.7M301.7 501.3l0.4 1.7M299.4 502.5l-1.1 -1.1M297.5 503.6l-1.1 -2.0M295.5 504.9l-0.4 -1.6M294.1 505.9l1.2 1.7M292.5 507.0l0.6 2.5" stroke-width=".9" opacity=".9"/>
<path d="M283.0 364.7C280.4 364.6 277.0 364.7 275.8 364.7M312.3 344.5C312.3 341.8 312.9 336.3 313.0 334.7M311.5 351.5C310.2 350.9 306.6 348.5 304.0 347.6M304.0 347.6C301.4 346.7 297.4 346.2 296.1 345.9M312.0 361.0C309.9 360.2 307.8 359.3 306.0 358.5M306.0 358.5C304.2 357.7 301.8 356.8 301.0 356.4M291.6 365.3C291.2 364.1 289.7 360.3 289.0 358.0M289.0 358.0C288.3 355.7 287.7 352.7 287.4 351.6M302.0 378.0C299.9 376.9 297.4 375.7 295.8 374.8M295.8 374.8C294.2 373.9 293.1 372.9 292.5 372.5M303.0 384.0C301.2 384.9 300.4 385.8 298.0 386.4M298.0 386.4C295.6 387.0 290.1 387.3 288.5 387.5M333.2 374.0C333.4 371.9 333.5 370.2 333.8 368.5M333.8 368.5C334.1 366.8 334.7 365.1 335.2 363.5M335.2 363.5C335.7 361.9 336.7 359.8 337.0 359.0M386.5 365.3C389.3 364.5 395.2 363.6 397.0 363.2M371.2 353.5C371.4 351.4 371.3 349.1 371.7 347.4M371.7 347.4C372.1 345.6 372.8 344.4 373.5 343.0M373.5 343.0C374.2 341.6 375.6 339.7 376.0 339.0M370.7 360.1C369.6 359.7 366.3 358.2 364.0 357.5M364.0 357.5C361.7 356.8 358.2 356.1 357.0 355.8M386.5 381.1C389.0 381.6 390.9 382.1 393.0 382.6M393.0 382.6C395.1 383.1 398.2 384.0 399.2 384.3M360.0 381.5C361.2 382.0 364.7 383.5 367.0 384.5M367.0 384.5C369.3 385.5 372.8 387.0 373.9 387.5M342.5 483.0C342.9 484.0 344.3 487.0 345.0 489.0M345.0 489.0C345.7 491.0 345.7 492.6 346.6 494.8M346.6 494.8C347.5 497.0 349.6 500.8 350.2 502.0M354.9 499.2C356.3 501.2 357.4 503.7 358.5 506.0M358.5 506.0C359.6 508.3 360.8 511.8 361.2 512.9M327.0 467.5C325.8 468.9 324.9 470.2 323.2 471.8M323.2 471.8C321.5 473.4 317.9 476.2 316.9 477.1M306.4 499.2C303.7 500.1 301.0 501.6 298.5 503.0M298.5 503.0C296.0 504.4 292.8 506.8 291.6 507.6" stroke-width="1.2"/>
<path d="M346.2 345.0C346.9 339.4 348.0 331.2 348.4 328.4M300.0 367.0C297.2 366.3 294.4 365.7 291.6 365.3M291.6 365.3C288.8 364.9 285.6 364.8 283.0 364.7M314.4 357.1C313.6 355.3 313.1 353.1 312.8 351.0M312.8 351.0C312.5 348.9 312.3 347.2 312.3 344.5M318.5 363.5C317.4 363.1 314.1 361.8 312.0 361.0M323.2 383.3C321.1 382.7 318.4 382.4 316.0 382.0M316.0 382.0C313.6 381.6 310.8 381.8 308.5 381.1M308.5 381.1C306.2 380.4 304.1 379.1 302.0 378.0M308.5 381.1C307.6 381.6 304.8 383.1 303.0 384.0M332.7 381.1C332.8 379.9 333.0 376.1 333.2 374.0M373.9 370.6C376.0 369.7 377.9 368.7 380.0 367.8M380.0 367.8C382.1 366.9 383.7 366.1 386.5 365.3M369.0 367.0C369.7 364.7 370.3 362.4 370.7 360.1M370.7 360.1C371.1 357.9 371.0 355.6 371.2 353.5M369.6 379.0C372.4 378.8 375.2 379.2 378.0 379.6M378.0 379.6C380.8 380.0 384.0 380.6 386.5 381.1M338.5 482.5C340.3 484.6 342.4 486.8 344.3 488.7M344.3 488.7C346.2 490.6 348.2 492.2 350.0 494.0M350.0 494.0C351.8 495.8 353.5 497.2 354.9 499.2M333.5 462.0C333.0 462.2 331.7 462.5 330.6 463.4M330.6 463.4C329.5 464.3 328.2 466.1 327.0 467.5M324.5 496.0C324.3 495.8 324.9 494.8 323.2 495.0M323.2 495.0C321.5 495.2 317.3 496.6 314.5 497.3M314.5 497.3C311.7 498.0 309.1 498.2 306.4 499.2" stroke-width="1.6"/>
<path d="M340.6 395.0C340.9 392.2 341.7 383.5 342.3 378.0M342.3 378.0C342.9 372.5 343.7 367.7 344.3 362.2M344.3 362.2C344.9 356.7 345.5 350.6 346.2 345.0M308.5 369.5C305.8 368.8 302.8 367.7 300.0 367.0M321.4 367.0C319.9 365.3 318.7 363.6 317.5 362.0M317.5 362.0C316.3 360.4 315.2 358.9 314.4 357.1M335.5 392.0C335.2 391.6 335.0 390.7 333.8 389.6M333.8 389.6C332.6 388.5 330.3 386.6 328.5 385.5M328.5 385.5C326.7 384.4 325.3 383.9 323.2 383.3M367.5 373.5C369.6 372.4 371.8 371.6 373.9 370.6M366.5 373.8C366.9 372.7 368.3 369.3 369.0 367.0M349.0 387.5C349.6 387.0 350.8 385.4 352.8 384.3M352.8 384.3C354.8 383.2 358.2 381.9 361.0 381.0M361.0 381.0C363.8 380.1 366.8 379.2 369.6 379.0M339.6 506.0C340.0 506.5 340.7 508.3 341.7 509.2M341.7 509.2C342.7 510.1 344.1 510.7 345.5 511.5M345.5 511.5C346.9 512.3 349.4 513.6 350.2 514.0M333.5 476.0C334.3 477.1 336.7 480.4 338.5 482.5M330.5 476.5C329.7 477.6 328.7 479.1 327.3 480.3M327.3 480.3C325.9 481.5 323.6 482.7 322.0 483.5M322.0 483.5C320.4 484.3 318.4 484.8 317.7 485.1" stroke-width="2.0"/>
<path d="M323.2 374.8C321.3 373.7 318.4 372.4 316.0 371.5M316.0 371.5C313.6 370.6 311.2 370.2 308.5 369.5M331.3 378.2C330.0 376.2 328.1 373.9 326.5 372.0M326.5 372.0C324.9 370.1 322.9 368.7 321.4 367.0M356.0 380.8C357.8 379.4 359.3 378.1 361.2 376.9M361.2 376.9C363.1 375.7 365.4 374.6 367.5 373.5M332.0 473.5C331.8 474.0 331.3 475.4 330.5 476.5" stroke-width="2.4"/>
<path d="M327.5 378.0C326.1 376.6 325.1 375.9 323.2 374.8M336.9 390.9C336.5 389.1 335.4 386.1 334.5 384.0M334.5 384.0C333.6 381.9 332.6 380.2 331.3 378.2M350.7 385.4C352.1 383.9 354.2 382.2 356.0 380.8" stroke-width="2.8"/>
<path d="M334.5 389.0C333.5 386.7 332.9 385.1 331.7 383.3M331.7 383.3C330.5 381.5 328.9 379.4 327.5 378.0M337.0 395.0C337.0 394.3 337.3 392.7 336.9 390.9M344.3 394.8C345.1 393.6 346.4 391.1 347.5 389.5M347.5 389.5C348.6 387.9 349.3 386.8 350.7 385.4" stroke-width="3.2"/>
<path d="M337.5 397.0C337.0 395.7 335.5 391.3 334.5 389.0M342.5 397.0C342.8 396.6 343.5 396.1 344.3 394.8M332.5 471.8C332.7 473.2 333.1 477.2 333.5 480.0M333.5 480.0C333.9 482.8 334.2 485.9 334.8 488.7M334.8 488.7C335.4 491.4 336.3 494.1 337.0 496.5M337.0 496.5C337.7 498.9 338.6 500.5 339.1 503.4M339.1 503.4C339.6 506.3 339.9 512.2 340.1 514.0" stroke-width="3.6"/>
<path d="M334.3 458.0C333.8 460.5 333.0 464.2 332.7 465.5M329.6 486.6C328.7 489.9 327.4 492.7 326.0 495.5M326.0 495.5C324.6 498.3 323.3 500.5 321.1 503.4M321.1 503.4C318.9 506.3 314.1 511.3 312.7 512.9" stroke-width="4.0"/>
<path d="M339.1 429.6C338.8 432.6 338.3 436.5 337.8 440.0M337.8 440.0C337.3 443.5 336.5 447.7 335.9 450.7M335.9 450.7C335.3 453.7 334.8 455.5 334.3 458.0M332.7 465.5C332.5 467.2 332.0 472.5 331.5 476.0M331.5 476.0C331.0 479.5 330.5 483.4 329.6 486.6" stroke-width="4.4"/>
<path d="M339.7 411.0C339.7 411.5 339.8 412.0 339.7 413.8M339.7 413.8C339.6 415.6 339.5 419.4 339.4 422.0M339.4 422.0C339.3 424.6 339.4 426.6 339.1 429.6" stroke-width="4.8"/>
<path d="M339.6 392.6C345 392.6 348.6 396.4 348.4 401.2C348.2 406.2 343.8 409.5 341.9 415.5H337.5C335.6 409.5 331 406.2 330.8 401.2C330.6 396.4 334.2 392.6 339.6 392.6Z" fill="#5f6365" stroke="none"/><circle cx="339.4" cy="402" r="3.6" fill="#45494b" stroke="none" opacity=".5"/>
</g>
<g transform="translate(0.0 0)" fill="none" stroke="#5f6365" stroke-linecap="round" stroke-linejoin="round">
<path d="M208.8 551.9l2.6 1.9M207.1 553.1l-2.4 -3.1M205.3 554.3l-2.5 -1.5M202.8 556.0l0.5 3.2M200.9 557.3l-3.0 -2.5M199.2 558.4l2.7 2.9M197.0 559.8l-2.0 -2.4M195.7 560.6l-0.9 -2.7M194.0 561.6l0.9 4.0M192.7 562.3l1.2 3.1M191.3 563.1l-2.2 -1.8M189.5 564.0l2.1 3.5M187.6 564.9l-2.0 -2.9M186.2 565.6l0.9 3.5M184.8 566.3l2.8 2.9M183.0 567.2l-2.0 -2.9M180.5 568.5l0.6 3.7M178.4 569.6l0.3 3.6M176.5 570.5l-1.9 -3.2M174.6 571.5l0.7 3.5M180.7 568.1l-0.0 3.0M179.5 567.8l0.7 -2.4M177.3 567.1l-0.2 2.8M174.5 566.4l-0.6 -3.2M171.6 566.0l-1.4 2.8M169.4 565.8l0.3 -2.5M208.8 551.9l-1.8 -2.5M207.7 553.2l-2.5 -0.8M206.2 554.8l1.6 3.3M205.0 556.2l-1.5 -2.6M203.9 557.6l-3.5 -1.5M202.9 558.8l2.9 2.1M201.6 560.3l-2.5 -2.4M200.0 562.2l-1.7 -2.9M198.8 563.9l-3.5 -1.5M197.6 566.1l3.5 0.7M196.6 568.5l-3.1 -0.6M195.9 571.0l4.0 0.9M195.3 573.0l-3.0 -2.6M194.7 575.0l3.4 -0.2M194.1 577.1l2.6 2.3M193.5 579.1l-3.8 -1.8M192.9 581.0l3.6 -0.2M192.2 583.0l-2.5 -1.5M191.6 584.7l3.1 -0.1M190.5 587.5l2.8 2.7M189.4 590.0l-2.8 -1.3M196.6 570.3l2.3 -1.7M196.9 571.4l-2.4 1.6M197.2 573.0l-2.4 0.2M197.8 575.4l2.2 0.3M198.3 577.3l-2.0 1.6M198.8 579.3l2.7 -1.1M199.2 580.9l-3.0 1.2M199.9 584.0l1.7 -0.4M200.4 586.0l1.8 -0.6M201.1 588.6l-1.7 0.3M201.6 591.0l1.8 -1.2M201.9 592.5l-2.7 1.4M202.1 595.0l2.1 0.6M202.2 597.2l1.8 -0.6M202.2 598.8l2.3 0.6M202.2 600.5l-2.0 0.7M202.2 602.3l2.3 0.2M202.2 604.3l-2.7 -0.7M208.4 551.8l2.7 -0.2M207.7 554.0l-1.7 -1.5M207.1 556.4l3.3 0.0M206.8 558.8l-2.3 0.1M206.4 561.6l1.8 0.6M206.2 564.3l-2.9 -0.0M206.2 565.8l2.8 -1.0M206.3 567.5l-2.0 -0.3M206.8 570.0l-2.4 1.2M207.3 572.5l2.2 -0.9M208.0 575.0l-2.3 0.6M208.8 577.4l2.5 -2.1M209.8 579.1l2.0 -0.6M211.1 580.7l-1.8 2.6M213.4 582.9l2.5 -1.2M215.0 584.2l-1.2 1.9M216.6 585.5l1.3 -2.0M217.5 586.7l-1.8 0.5M218.1 588.0l2.3 -0.1M218.8 590.0l-2.2 -0.3M219.4 592.0l1.8 0.2M219.9 593.8l2.1 -1.6M220.2 595.7l-2.3 -0.6M220.3 597.5l-2.6 1.0M220.2 600.1l1.7 -0.4M220.1 602.8l-1.6 -0.4M219.9 605.2l2.3 -0.7M219.6 607.6l-2.8 -0.4M219.4 610.0l2.3 -0.8M209.2 578.5l2.1 0.4M209.5 580.0l-1.9 0.6M209.9 582.6l1.7 -0.7M210.3 584.9l-2.1 1.2M210.6 586.7l1.4 -0.9M211.0 589.4l2.3 0.6M211.4 591.5l-2.2 0.3M211.7 593.3l2.7 -0.6M212.0 595.0l-2.2 -0.2M212.5 597.5l1.7 0.0M215.5 548.3l2.7 0.2M215.7 549.9l2.9 -0.4M215.9 552.0l-2.8 -0.2M216.2 554.3l1.7 -0.1M216.3 556.0l-2.6 0.9M216.4 558.1l-2.9 -0.6M216.3 560.5l2.6 -0.1M215.9 563.5l-2.3 -0.7M215.5 566.2l2.2 -0.4M206.7 552.5l0.6 -2.4M205.2 552.7l1.3 2.4M202.6 553.0l0.7 1.9M200.2 553.2l0.0 -2.1M197.5 553.5l0.1 2.1M195.4 553.6l-0.9 3.1M192.9 553.8l0.6 1.8M191.0 553.8l-0.7 -1.6M189.5 553.9l0.8 2.2M187.0 553.9l-0.1 -1.7M184.4 553.8l0.1 2.6M181.9 553.7l0.2 -2.2M180.4 553.6l-0.6 1.7M177.9 553.6l0.1 -2.9M176.3 553.6l0.3 1.5M174.2 553.6l-0.1 -2.1M172.2 553.8l-0.5 -1.9M170.1 554.1l0.4 2.5M167.3 554.7l0.2 -2.5M165.6 555.2l-0.8 -2.7M164.1 555.6l0.0 2.9M200.9 556.4l-0.9 2.4M198.5 556.5l-0.2 -1.7M196.8 556.6l-0.6 -2.0M195.0 556.7l-0.4 2.5M192.9 556.8l-0.6 -2.3M190.0 556.9l-0.0 2.1M188.1 557.1l-0.1 -2.5M186.3 557.3l-0.3 2.2M183.4 557.7l0.2 -2.8M180.5 558.2l1.3 2.2M179.0 558.4l-0.4 1.5M255.9 504.7l-3.2 -1.9M256.6 502.4l2.0 1.1M257.3 499.5l-2.0 -0.8M257.7 496.9l2.4 0.9M257.9 495.3l-2.3 -0.1M258.1 493.7l2.3 -0.7M258.3 491.1l-2.1 0.9M258.3 488.5l2.9 0.9M258.2 486.0l-3.3 1.0M258.0 483.4l-2.5 0.9M257.9 481.8l3.3 -0.2M257.6 479.7l3.3 0.0M257.2 477.1l-2.9 0.6M256.7 474.5l2.6 0.5M256.3 472.5l-3.0 1.3M255.5 469.5l2.5 0.3M254.9 467.6l-2.4 -0.1M254.0 465.7l2.1 -1.4M253.3 464.4l2.4 -0.5M252.3 462.7l-2.1 1.2M250.8 460.8l1.1 -1.6M250.0 458.7l-2.1 -0.3M249.5 456.1l1.7 -1.0M249.1 453.7l-2.5 -0.6M248.9 452.0l-1.9 0.8M248.6 450.3l-2.5 -0.4M255.5 496.7l-2.3 0.9M255.1 494.5l2.4 0.1M254.6 492.2l-2.3 1.0M254.1 490.0l-3.0 0.9M253.5 487.5l2.1 0.0M252.9 485.5l2.7 -1.7M252.3 483.7l-2.3 1.6M251.7 482.2l3.0 -0.4M250.9 480.3l-1.2 1.4M250.0 478.4l-2.3 0.4M248.7 476.1l2.1 -0.6M247.9 474.7l-2.6 1.4M246.1 472.1l1.6 -2.2M244.4 470.2l-2.2 0.9M242.9 468.8l1.6 -1.4M241.8 467.9l0.8 -2.3M240.6 467.1l-0.9 2.0M238.6 465.5l1.0 -1.6M237.0 464.1l-0.7 1.6M234.8 462.1l1.0 -2.2M232.8 460.3l0.6 -1.8M257.3 474.2l-2.2 0.1M258.1 472.1l2.8 0.4M259.0 470.0l-1.5 -0.9M260.9 467.5l1.2 1.5M262.2 466.6l-1.0 -1.7M264.9 465.2l0.9 1.5M267.2 464.1l0.8 1.7M268.7 462.9l-1.5 -1.3M269.8 461.8l2.5 1.1M271.1 460.2l2.7 0.9M272.3 458.7l-2.2 -1.7M273.2 457.1l1.6 0.7M273.9 455.3l-2.6 -0.6M274.9 452.5l2.0 0.5M275.6 450.3l-1.4 -0.4M265.4 466.3l1.1 -1.0M266.9 467.5l0.9 -1.2M268.8 469.0l1.0 -1.6M270.6 470.4l-0.7 2.1M273.0 472.2l-0.4 2.3M275.2 473.7l1.2 -1.9M250.9 486.9l-2.3 0.4M250.2 485.5l1.6 -1.2M249.3 484.0l-1.2 1.1M248.3 482.3l2.3 -0.5M246.2 480.7l-1.0 1.7M243.3 479.6l-0.1 2.8M257.7 509.8l2.7 1.3M258.7 508.2l-2.9 -0.8M260.6 505.9l2.1 1.1M262.8 504.7l-2.1 -2.7M265.4 503.9l1.4 2.2M267.5 503.2l-1.4 -3.3M269.5 502.5l1.5 2.9M272.3 501.2l-2.1 -2.1M273.6 500.4l1.6 3.0M275.4 498.4l-2.5 -2.4M276.4 497.1l-1.4 -2.4M277.5 495.3l2.9 1.0M278.4 494.0l-2.2 -0.5M279.3 492.7l2.6 1.6M281.0 490.5l-2.0 -2.6M282.9 488.8l1.9 2.1M284.2 488.0l-0.6 -2.2M285.6 487.3l0.4 2.1M287.0 486.9l-0.6 -2.4M289.5 486.5l-0.2 3.3M292.1 486.3l-0.4 -2.7M294.2 486.3l0.8 2.2M295.7 486.3l-0.2 2.7M297.8 486.5l1.1 -2.4M299.4 486.6l0.2 3.0M301.0 486.7l-1.2 2.7M303.5 486.8l1.0 -2.5M305.1 486.9l0.1 1.9M307.1 486.9l-0.5 -2.4M310.2 486.7l1.1 2.9M311.6 486.5l-0.9 -2.6M313.6 486.1l1.2 2.8M316.5 485.4l-0.6 -1.7M305.3 490.0l0.8 1.8M303.4 490.9l-0.6 -1.5M301.4 491.8l0.1 1.8M299.7 492.5l1.0 2.6M297.2 493.6l0.6 1.4M294.6 494.8l-0.5 -1.4M292.5 495.7l1.6 1.4M289.9 496.9l1.6 1.7M264.1 506.8l0.1 -2.5M266.3 507.1l0.5 2.9M269.1 507.4l0.4 -3.3M271.5 507.6l-1.4 2.8M274.0 507.7l0.4 3.2M276.6 507.7l-0.9 -2.8M278.2 507.7l0.7 3.0M280.7 507.5l-1.0 -1.8M282.7 507.2l0.8 3.0M285.6 506.5l-0.3 -2.6M287.5 506.0l1.4 2.4M289.5 505.5l-0.4 -2.8M291.9 504.9l0.2 2.4M293.3 504.5l-0.4 3.0M295.8 503.8l0.1 -1.7M297.6 503.3l0.1 2.4M298.9 502.9l-0.0 -2.7M302.2 501.8l1.9 2.2M305.0 500.8l-0.3 -2.1M308.1 499.7l0.4 2.7M309.3 499.3l-0.8 -1.4M257.7 512.3l-3.1 -1.4M259.6 511.7l0.2 3.5M261.3 511.8l-0.4 -2.8M263.4 512.0l-1.4 2.8M266.3 512.3l1.1 -3.2M268.5 512.6l-0.2 2.7M270.5 512.8l1.1 -2.4M272.5 513.1l-1.2 2.9M275.0 513.5l0.2 2.7M277.5 514.0l0.0 -2.5M279.0 514.5l-1.0 3.1M280.5 514.9l0.6 -3.2M282.5 515.6l-0.2 3.1M284.5 516.3l1.2 -2.7M285.9 516.9l-1.6 2.8M287.9 517.6l0.5 -3.1M290.3 518.6l-1.6 2.0M291.7 519.3l0.5 -2.5M293.0 519.9l-2.2 1.9M295.3 521.1l1.7 -1.5M296.6 521.9l-0.5 1.8M297.9 522.6l-1.6 1.1M300.0 524.0l0.5 -1.7M301.6 525.1l-2.0 2.1M302.8 526.0l1.6 -1.3M304.0 526.9l-1.2 2.5M306.4 528.9l-0.7 2.0M308.5 531.0l1.9 -1.3M310.5 533.1l-1.7 1.1M312.1 534.7l-1.5 2.4M272.5 513.4l1.5 -1.8M274.2 515.1l-1.8 1.3M275.4 516.4l1.1 -2.0M276.7 517.7l1.6 -1.2M277.9 518.9l2.3 -1.8M278.9 520.0l-2.1 1.2M280.4 521.5l1.7 -0.7M282.2 523.5l-2.4 1.3M283.6 525.6l2.8 -0.7M284.9 527.8l2.6 -0.9M285.8 529.6l-2.0 1.4M287.0 532.0l2.1 -0.7M288.2 534.1l2.1 -0.8M289.2 536.2l-1.5 0.1M289.9 537.4l1.3 -1.1M281.0 507.6l-0.3 2.1M282.5 508.0l1.4 -1.6M285.1 508.8l-0.8 1.8M287.4 509.4l1.3 -2.2M290.0 510.0l0.1 2.9M292.0 510.4l0.2 2.9M293.5 510.7l0.6 -1.9M296.1 511.3l0.2 -2.1M297.6 511.7l-1.5 1.6M299.5 512.4l1.2 -1.9M301.3 513.2l-0.7 1.4M303.7 514.3l-0.5 1.7M306.0 515.5l-1.1 1.1M307.9 516.5l1.4 -1.2M309.5 517.3l1.2 -1.0M312.0 518.7l-0.1 2.1M313.6 519.6l2.2 -1.6" stroke-width=".9" opacity=".9"/>
<path d="M201.6 591.0C201.9 592.8 202.1 593.9 202.2 596.3M202.2 596.3C202.3 598.7 202.2 603.8 202.2 605.3M219.4 592.0C219.9 594.0 220.3 595.1 220.3 598.3M220.3 598.3C220.3 601.5 219.5 609.2 219.3 611.4M209.2 578.2C209.5 580.2 210.6 586.9 211.2 590.3M211.2 590.3C211.8 593.7 212.4 597.4 212.7 598.8M215.5 548.0C215.7 549.7 216.4 555.0 216.4 558.1M216.4 558.1C216.4 561.2 215.7 565.1 215.5 566.5M179.0 553.6C176.2 553.6 173.8 553.5 171.1 553.9M171.1 553.9C168.4 554.3 164.1 555.6 162.7 556.0M194.0 556.8C191.8 556.9 190.9 556.8 188.1 557.1M188.1 557.1C185.3 557.4 178.9 558.4 177.1 558.7M252.8 463.5C252.0 462.0 250.8 461.4 250.1 459.1M250.1 459.1C249.4 456.9 248.8 451.5 248.6 450.0M242.5 468.5C241.2 467.3 239.8 466.6 238.1 465.1M238.1 465.1C236.3 463.6 233.0 460.5 232.0 459.6M263.5 465.8C264.7 465.1 266.0 464.9 267.2 464.1M267.2 464.1C268.4 463.3 269.5 462.2 270.5 461.0M270.5 461.0C271.5 459.8 272.3 458.9 273.2 457.1M273.2 457.1C274.1 455.3 275.3 451.2 275.7 450.0M265.2 466.1C266.0 466.8 268.4 468.8 270.2 470.1M270.2 470.1C271.9 471.4 274.8 473.4 275.7 474.1M251.1 487.2C250.8 486.7 250.0 485.0 249.3 484.0M249.3 484.0C248.6 483.0 248.3 482.0 247.1 481.2M247.1 481.2C245.9 480.4 242.9 479.5 242.1 479.2M305.6 489.9C304.2 490.5 299.9 492.4 297.2 493.6M297.2 493.6C294.5 494.8 290.6 496.6 289.3 497.2M289.0 505.6C291.8 504.9 294.1 504.4 297.6 503.3M297.6 503.3C301.1 502.2 308.1 499.7 310.2 499.0M306.0 528.6C308.1 530.4 311.2 533.9 312.3 534.9M277.5 518.5C279.2 520.4 281.3 522.2 282.8 524.3M282.8 524.3C284.3 526.4 285.3 528.7 286.5 531.0M286.5 531.0C287.7 533.3 289.6 536.8 290.2 538.0M289.0 509.8C291.8 510.5 294.8 510.8 297.6 511.7M297.6 511.7C300.4 512.6 303.2 514.1 306.0 515.5M306.0 515.5C308.8 516.9 313.1 519.3 314.5 520.1" stroke-width="1.2"/>
<path d="M258.6 504.3C261.8 501.1 271.3 491.5 278.0 485.0M278.0 485.0C284.7 478.5 295.2 468.6 298.6 465.3M196.5 570.0C196.8 571.0 197.4 573.5 198.0 576.0M198.0 576.0C198.6 578.5 199.6 582.8 200.2 585.3M200.2 585.3C200.8 587.8 201.3 589.2 201.6 591.0M207.2 572.0C207.7 574.2 208.2 576.5 209.2 578.2M209.2 578.2C210.2 580.0 211.7 581.1 213.0 582.5M213.0 582.5C214.3 583.9 216.1 584.7 217.2 586.3M217.2 586.3C218.3 587.9 218.9 590.0 219.4 592.0M207.0 552.5C205.3 552.7 200.2 553.3 197.0 553.5M197.0 553.5C193.8 553.7 191.0 553.9 188.0 553.9M188.0 553.9C185.0 553.9 181.8 553.6 179.0 553.6M201.2 556.4C200.0 556.5 196.2 556.7 194.0 556.8M256.6 474.0C256.2 472.0 255.7 469.9 255.1 468.1M255.1 468.1C254.5 466.4 253.6 465.0 252.8 463.5M252.1 483.2C251.3 481.2 250.5 479.4 249.5 477.5M249.5 477.5C248.5 475.6 247.3 473.6 246.1 472.1M246.1 472.1C244.9 470.6 243.8 469.7 242.5 468.5M257.2 474.5C257.4 473.9 258.0 472.1 258.5 471.0M258.5 471.0C259.0 469.9 259.4 469.0 260.2 468.1M260.2 468.1C261.0 467.2 262.3 466.5 263.5 465.8M313.0 486.2C314.6 485.9 316.9 485.3 317.7 485.1M272.0 507.6C274.8 507.7 277.9 507.8 280.7 507.5M280.7 507.5C283.5 507.2 286.2 506.3 289.0 505.6M293.4 520.1C295.9 521.4 297.9 522.6 300.0 524.0M300.0 524.0C302.1 525.4 303.9 526.8 306.0 528.6M272.3 513.2C273.2 514.1 275.8 516.6 277.5 518.5M280.7 507.5C282.1 507.9 286.2 509.1 289.0 509.8" stroke-width="1.6"/>
<path d="M174.0 566.3C171.9 565.9 169.2 565.8 168.3 565.7M208.5 551.5C208.3 552.2 207.6 553.7 207.2 556.0M207.2 556.0C206.8 558.3 206.2 562.5 206.2 565.2M206.2 565.2C206.2 567.9 206.7 569.8 207.2 572.0M258.2 486.0C258.1 484.0 258.0 482.2 257.7 480.2M257.7 480.2C257.4 478.2 257.0 476.0 256.6 474.0M255.6 497.0C255.3 495.8 254.6 491.8 254.0 489.5M254.0 489.5C253.4 487.2 252.8 485.2 252.1 483.2M290.0 486.4C291.6 486.2 293.0 486.2 294.8 486.3M294.8 486.3C296.6 486.4 298.8 486.6 301.0 486.7M301.0 486.7C303.2 486.8 306.0 487.0 308.0 486.9M308.0 486.9C310.0 486.8 311.4 486.5 313.0 486.2M263.8 506.8C265.2 506.9 269.2 507.5 272.0 507.6M276.5 513.8C279.3 514.5 282.2 515.5 285.0 516.5M285.0 516.5C287.8 517.5 290.9 518.9 293.4 520.1" stroke-width="2.0"/>
<path d="M181.0 568.2C179.8 567.9 176.1 566.7 174.0 566.3M257.4 499.0C257.8 496.9 258.1 494.4 258.2 492.2M258.2 492.2C258.3 490.0 258.3 488.0 258.2 486.0M276.0 497.6C276.8 496.6 277.1 496.0 277.9 494.8M277.9 494.8C278.7 493.6 279.8 491.7 281.0 490.5M281.0 490.5C282.2 489.3 283.6 488.2 285.1 487.5M285.1 487.5C286.6 486.8 288.4 486.6 290.0 486.4M259.6 511.7C261.4 511.7 265.2 512.1 268.0 512.5M268.0 512.5C270.8 512.9 273.7 513.1 276.5 513.8" stroke-width="2.4"/>
<path d="M255.8 505.0C256.1 504.0 257.0 501.1 257.4 499.0M257.5 510.0C258.1 509.3 259.4 506.7 261.0 505.6M261.0 505.6C262.6 504.5 265.0 504.2 267.0 503.4M267.0 503.4C269.0 502.6 271.6 501.8 273.1 500.8M273.1 500.8C274.6 499.8 275.2 498.6 276.0 497.6M257.5 512.5C257.9 512.4 257.9 511.7 259.6 511.7" stroke-width="2.8"/>
<path d="M215.4 547.5C213.2 549.5 210.1 551.0 209.0 551.7M209.0 551.7C208.1 552.8 205.3 555.8 203.5 558.0" stroke-width="3.2"/>
<path d="M237.0 523.8C234.7 526.1 232.5 528.1 230.1 530.7M230.1 530.7C227.7 533.3 224.9 536.7 222.5 539.5M222.5 539.5C220.1 542.3 217.7 545.5 215.4 547.5M209.0 551.7C207.6 552.7 203.3 555.8 200.5 557.6M200.5 557.6C197.7 559.4 195.1 561.0 192.2 562.6M203.5 558.0C201.7 560.2 199.4 562.5 198.0 565.2M198.0 565.2C196.6 567.9 195.9 571.1 195.0 574.0M195.0 574.0C194.1 576.9 193.3 579.8 192.4 582.5" stroke-width="3.6"/>
<path d="M245.5 515.5C245.2 515.8 245.2 515.6 243.8 517.0M243.8 517.0C242.4 518.4 239.3 521.5 237.0 523.8M192.2 562.6C189.3 564.2 186.0 565.7 183.0 567.2M183.0 567.2C180.0 568.7 175.8 570.9 174.4 571.6M192.4 582.5C191.5 585.2 189.8 589.0 189.3 590.3" stroke-width="4.0"/>
<path d="M258.8 504C260.6 506.5 260 512 256.5 516C253 519.6 247.6 520.6 245 518.6C242 516 243.5 510.5 247 507C250.5 503.5 256.6 501.5 258.8 504Z" fill="#5f6365" stroke="none"/><circle cx="251.6" cy="511.4" r="3.4" fill="#45494b" stroke="none" opacity=".55"/>
</g>
<g transform="translate(0.0 0)" fill="none" stroke="#3f6b3b" stroke-linecap="round" stroke-linejoin="round">
<path d="M152.8 426.6l-2.8 -1.7M153.0 425.0l3.4 1.1M153.3 422.8l-4.1 -1.0M153.7 419.2l3.3 0.3M153.8 416.5l-4.2 -1.1M153.9 414.0l3.3 0.7M153.9 411.7l-3.9 1.3M153.7 409.1l3.6 -1.3M153.5 407.6l4.1 0.1M153.3 406.1l-3.3 0.4M152.9 403.6l2.8 -1.1M152.5 402.0l3.2 -0.3M152.1 399.9l3.2 -0.5M151.5 397.4l-3.1 0.9M151.1 395.4l3.2 -0.1M150.4 392.5l-3.8 -0.1M149.5 389.1l3.8 -0.4M149.0 387.4l-3.2 0.5M151.5 420.4l-1.2 1.9M150.6 419.1l2.3 -2.1M149.4 417.3l-3.2 1.1M148.0 415.5l1.5 -1.9M146.3 413.3l-2.5 0.8M145.2 412.2l1.5 -2.6M143.8 410.8l-1.1 3.2M142.2 409.6l1.0 -2.8M141.0 408.6l-2.3 2.3M138.9 407.2l1.8 -2.9M137.7 406.4l-2.0 2.5M136.3 405.5l1.9 -1.3M134.1 404.2l-0.5 2.4M132.4 403.2l1.1 -3.0M130.5 402.2l-1.7 1.6M128.1 401.0l1.8 -2.3M126.3 400.0l-2.3 2.3M124.6 398.9l0.6 -2.8M122.2 396.9l0.9 -3.0M120.3 395.3l0.6 -2.0M119.2 394.3l-1.6 2.1M117.3 392.7l1.7 -1.6M115.9 391.1l-1.6 2.4M115.0 389.9l2.1 -1.4M113.4 387.5l1.8 -2.5M112.3 385.7l2.6 -1.1M152.7 409.7l2.0 -2.5M151.6 407.6l-2.3 1.9M150.5 405.5l2.9 -0.3M149.0 403.0l-3.2 1.3M147.4 400.9l2.5 -0.8M146.0 399.3l-1.5 2.7M145.0 398.2l1.2 -1.9M144.0 397.0l2.2 -1.7M142.9 395.7l-2.2 1.3M141.3 393.6l-0.9 1.8M139.6 391.6l2.1 -1.1M138.2 390.2l-1.1 2.2M136.4 388.4l1.5 -2.9M135.2 387.2l1.4 -1.2M133.1 385.1l2.1 -1.7M131.4 383.4l-1.0 2.4M130.4 382.4l2.1 -1.2M152.9 427.7l-3.7 -0.4M153.6 426.2l2.9 0.1M154.3 424.7l-2.2 -1.5M155.4 422.5l-2.0 -1.9M156.5 420.7l3.4 2.1M158.0 418.7l-3.4 -0.7M159.6 416.6l3.2 2.0M161.1 414.6l-3.4 -2.0M162.5 412.4l2.7 3.0M163.7 410.5l-2.8 -2.7M164.9 408.4l2.9 1.6M166.2 406.1l2.4 2.0M166.9 404.8l-2.9 -2.4M168.1 402.5l2.5 2.4M168.7 401.1l2.3 2.4M169.8 398.4l-3.5 -0.9M170.5 396.4l2.7 1.9M164.5 414.0l0.7 1.9M165.9 412.8l-2.0 -1.7M168.1 410.9l0.8 1.6M169.5 409.8l0.9 2.4M172.3 408.1l-0.7 -2.2M174.9 407.1l0.3 2.0M138.0 406.9l-2.1 1.7M136.3 405.1l1.6 -2.1M134.4 403.0l-2.3 2.2M133.2 401.9l1.1 -1.4M131.4 400.3l2.2 -1.3M130.1 399.1l2.3 -1.7M128.2 397.2l-2.7 1.4M126.5 395.5l0.9 -1.9M125.1 394.1l-1.5 0.8M157.2 423.3l-0.7 -2.7M158.5 422.2l1.6 1.9M161.2 420.0l-1.4 -1.5M162.5 419.0l1.1 2.8M164.7 417.4l-1.1 -2.9M166.5 416.3l-0.4 -2.0M168.3 415.2l2.5 1.9M170.7 414.1l-0.0 3.2M173.6 412.9l-1.5 -1.4M176.0 411.9l0.3 3.1M177.5 411.4l-0.6 -1.5M179.9 410.4l-1.4 -2.0M182.6 408.7l0.7 2.7M184.6 406.9l-1.9 -1.0M186.7 404.3l1.4 1.9M188.3 402.0l-1.4 -1.3M151.5 433.1l-2.6 1.1M149.8 431.4l1.5 -2.4M147.8 429.4l1.3 -2.8M146.5 427.8l-1.7 2.1M144.9 425.7l2.3 -1.7M143.7 423.9l-1.6 2.1M142.5 421.9l1.6 -1.2M141.5 420.1l-1.8 0.5M134.3 492.3l2.2 2.3M132.4 494.6l-1.1 -3.2M130.6 495.5l1.8 2.9M127.5 496.8l-1.9 -2.9M126.1 497.3l1.8 2.7M123.7 498.1l0.3 -2.3M121.7 498.5l-0.8 3.0M120.2 498.7l1.2 -3.2M117.6 498.6l-0.2 -2.9M115.5 498.5l0.9 3.0M113.0 498.2l1.3 -2.2M110.8 497.8l-0.5 -2.4M108.7 497.3l-0.7 2.4M105.9 496.3l0.2 -2.3M104.6 495.4l1.0 -2.0M102.4 493.3l-1.6 1.0M100.9 492.0l-2.1 2.2M99.3 490.2l-1.0 2.3M98.0 489.1l1.5 -1.4M95.8 487.6l-0.8 2.2M94.3 486.6l-0.3 2.0M92.9 485.7l1.9 -2.2M120.8 498.7l0.1 2.2M119.3 499.0l-1.4 -2.2M117.2 499.4l0.3 1.9M114.8 499.9l-0.6 -2.7M113.1 500.2l0.9 1.8M111.5 500.5l-0.3 -2.3M109.4 500.9l-1.0 -1.5M107.3 501.2l1.1 2.0M105.7 501.4l0.4 -2.9M103.2 501.7l-0.7 -2.6M101.7 501.8l0.1 -3.0M99.0 502.0l0.9 1.9M96.4 502.0l-0.5 -3.0M94.0 502.0l-0.1 -2.9M92.0 502.0l0.8 2.3M90.8 502.0l0.1 -2.9M88.1 501.9l-1.0 2.6M85.6 501.6l-0.6 -2.8M82.2 501.2l0.5 2.3M79.8 500.9l0.1 -2.7M78.1 500.7l-0.2 1.8M76.2 500.5l0.7 -2.8M133.9 493.8l2.7 1.1M133.2 496.0l-3.3 0.1M131.7 498.6l2.0 1.9M130.7 499.4l-2.5 -1.5M128.6 500.9l0.5 3.3M126.2 502.2l-1.6 -1.9M124.4 503.3l1.1 2.9M122.1 504.6l-1.0 -2.0M119.8 505.7l0.1 2.3M117.9 506.6l-0.1 3.1M115.9 507.4l-0.4 -3.2M114.5 508.0l0.6 2.5M111.9 508.9l-0.9 -2.1M109.9 509.5l-1.2 -2.3M107.9 510.1l1.6 2.0M106.3 510.6l0.3 3.2M104.3 511.1l-1.1 -3.1M101.7 511.3l0.3 3.1M99.6 511.0l0.1 -1.8M97.5 510.5l-0.3 2.8M94.4 509.9l0.3 -2.0M91.6 508.9l0.4 1.9M90.1 508.9l-0.4 -3.0M88.0 510.0l1.3 2.3M86.6 510.9l-1.4 -1.2M84.3 512.8l2.1 1.4M82.2 514.6l-1.2 -0.9M102.1 511.6l1.7 0.5M101.7 513.4l2.3 -0.2M101.2 515.8l-1.7 0.3M100.8 518.0l2.9 0.7M100.5 520.2l-2.4 -0.5M100.3 522.4l2.2 0.9M100.1 523.9l-2.5 -0.9M99.4 526.5l1.4 1.4M98.7 528.5l1.2 0.9M98.0 530.6l2.3 0.5M97.4 532.9l-2.1 0.3M97.0 534.2l2.0 0.9M100.2 519.0l0.4 2.3M97.7 518.9l-0.1 -1.8M95.5 519.1l0.2 2.1M92.7 520.2l-0.9 -2.3M127.8 501.2l1.4 1.2M126.2 503.1l-1.5 -1.0M125.4 504.9l-2.7 -0.2M125.1 506.6l-1.9 0.4M124.8 509.7l2.2 0.9M124.7 511.9l-2.2 0.5M124.5 514.6l2.7 -0.3M124.4 516.4l-1.9 0.1M124.4 518.2l-2.0 -0.9M124.4 519.8l2.0 -0.8M124.3 521.5l-2.7 0.2M139.5 493.8l3.6 0.5M139.6 495.1l-2.6 -0.0M140.6 497.6l2.3 -1.3M141.8 500.0l-2.1 0.9M143.2 502.5l2.6 -1.5M144.5 504.9l-2.2 1.5M145.8 507.2l-2.3 2.2M146.9 509.0l3.3 -1.2M148.3 511.0l2.2 -1.9M150.1 512.7l-0.9 2.1M152.2 514.1l-0.3 2.9M154.0 515.0l0.5 -1.9M156.2 516.0l-0.3 2.5M158.0 516.7l0.4 -3.0M159.6 517.2l-0.9 1.8M162.1 517.8l1.4 -2.6M164.1 518.1l0.6 3.1M166.6 518.5l0.5 -2.8M168.8 518.7l-0.1 1.8M170.4 518.8l0.0 -2.3M172.6 519.0l-0.1 -1.6M174.9 519.2l0.7 -2.1M177.8 519.4l0.3 -2.1M180.5 519.6l1.1 2.8M182.0 519.7l-0.7 2.5M148.7 511.6l1.5 -1.6M149.4 513.0l2.2 -1.1M150.7 515.5l2.9 -0.6M152.0 518.1l2.5 -1.8M152.8 519.5l1.3 -1.3M154.1 521.8l-1.9 1.3M155.0 523.2l2.9 -1.4M156.1 524.9l-1.8 0.6M157.4 526.4l2.5 -0.8M159.4 528.2l-1.6 2.2M161.1 529.4l0.9 -2.3M162.4 530.3l-2.4 1.5M163.7 531.2l-1.1 1.2M166.5 532.9l0.7 -2.1M168.4 533.8l-1.4 1.1M171.0 535.0l1.1 -2.3M173.1 535.8l-0.9 2.7M174.6 536.5l0.2 -2.3M153.7 522.1l1.7 0.6M153.3 524.4l-1.7 -0.3M152.7 527.3l2.9 0.3M152.4 529.0l-2.0 -0.6M152.2 531.0l2.8 0.1M152.0 532.6l-2.1 0.2M151.8 535.2l2.8 0.5M151.6 537.2l-2.5 -1.0M151.3 539.8l1.9 0.7M151.0 543.0l-1.8 -0.2M150.9 545.2l2.4 0.3M150.8 548.2l-2.9 -0.3M150.7 549.6l2.5 -0.7M151.6 532.5l-0.3 -2.0M150.3 532.2l-0.4 1.6M147.4 531.8l-0.4 -2.2M145.6 531.6l-0.3 -2.0M142.8 531.4l-0.1 1.6M141.1 531.3l0.4 2.1M139.5 531.3l-0.1 -2.5M147.8 509.0l0.3 1.5M149.9 508.7l-0.2 -1.6M152.7 508.5l0.1 2.9M154.5 508.4l0.3 1.9M157.2 508.5l1.1 -2.5M160.2 508.8l-0.7 1.2M161.8 508.9l0.2 -1.5" stroke-width=".9" opacity=".9"/>
<path d="M155.0 508.4C157.6 508.4 161.9 509.0 163.3 509.1" stroke-width="0.8"/>
<path d="M164.3 414.2C165.3 413.4 168.3 410.5 170.3 409.2M170.3 409.2C172.3 407.9 175.3 407.0 176.3 406.6M130.1 399.1C128.5 397.6 125.5 394.5 124.6 393.6M180.3 410.2C182.1 409.2 183.6 408.0 185.0 406.5M185.0 406.5C186.4 405.0 188.2 402.0 188.9 401.1M147.5 429.0C146.3 427.6 145.4 426.4 144.3 424.8M144.3 424.8C143.2 423.2 141.7 420.4 141.2 419.5M98.0 489.1C96.3 487.8 92.7 485.6 91.6 484.9M94.0 502.0C91.5 502.0 90.6 502.1 87.4 501.8M87.4 501.8C84.2 501.5 76.9 500.6 74.8 500.3M89.5 509.1C87.2 510.0 82.5 514.4 81.1 515.5M100.8 518.0C100.4 520.1 100.5 522.1 100.1 523.9M100.1 523.9C99.7 525.7 99.0 527.2 98.5 529.0M98.5 529.0C98.0 530.8 97.2 533.6 96.9 534.5M100.5 519.0C99.8 519.0 97.5 518.7 96.0 519.0M96.0 519.0C94.5 519.3 92.3 520.4 91.6 520.7M125.4 504.9C124.8 506.9 124.8 510.2 124.6 513.0M124.6 513.0C124.4 515.8 124.3 520.3 124.3 521.8M171.0 518.9C174.5 519.2 180.4 519.6 182.3 519.7M162.0 530.0C163.8 531.2 165.3 532.3 167.5 533.4M167.5 533.4C169.7 534.5 173.7 536.1 174.9 536.6M152.4 529.0C152.1 531.5 151.9 534.3 151.7 536.6M151.7 536.6C151.5 538.9 151.2 540.7 151.0 543.0M151.0 543.0C150.8 545.3 150.8 549.1 150.7 550.3M151.9 532.5C150.8 532.3 147.3 531.7 145.0 531.5M145.0 531.5C142.7 531.3 139.2 531.3 138.0 531.3M147.5 509.0C148.8 508.9 152.4 508.4 155.0 508.4" stroke-width="1.2"/>
<path d="M125.4 399.5C123.4 398.2 121.6 396.4 120.0 395.0M120.0 395.0C118.4 393.6 117.3 392.8 115.9 391.1M115.9 391.1C114.5 389.4 112.4 385.9 111.7 384.8M140.0 392.0C138.6 390.4 137.6 389.6 135.9 387.9M135.9 387.9C134.2 386.2 130.7 382.7 129.6 381.6M175.0 396.0C176.4 396.2 178.6 396.9 179.3 397.1M138.2 407.1C137.5 406.4 135.3 403.9 134.0 402.6M134.0 402.6C132.7 401.3 131.7 400.6 130.1 399.1M162.5 419.0C164.4 417.6 166.3 416.3 168.3 415.2M168.3 415.2C170.3 414.1 172.5 413.3 174.5 412.5M174.5 412.5C176.5 411.7 178.6 411.2 180.3 410.2M151.7 433.3C151.0 432.6 148.7 430.4 147.5 429.0M106.4 496.5C104.6 495.6 103.4 494.2 102.0 493.0M102.0 493.0C100.6 491.8 99.7 490.5 98.0 489.1M121.1 498.6C119.4 498.9 114.2 500.1 111.0 500.6M111.0 500.6C107.8 501.1 105.0 501.6 102.2 501.8M102.2 501.8C99.4 502.0 96.5 502.0 94.0 502.0M102.2 511.3C99.9 511.3 97.1 510.4 95.0 510.0M95.0 510.0C92.9 509.6 91.8 508.2 89.5 509.1M102.2 511.3C102.0 512.4 101.2 515.9 100.8 518.0M128.0 501.0C127.6 501.6 126.0 502.9 125.4 504.9M131.7 521.8C130.3 527.6 127.9 535.8 126.0 543.0M126.0 543.0C124.1 550.2 121.1 561.3 120.1 565.0M152.8 501.8C155.1 502.6 158.2 503.2 161.0 503.4M161.0 503.4C163.8 503.6 167.1 503.2 169.6 502.8M169.6 502.8C172.1 502.4 173.9 501.7 176.0 501.0M176.0 501.0C178.1 500.3 180.5 499.5 182.3 498.6M182.3 498.6C184.1 497.7 185.8 496.5 187.0 495.7M187.0 495.7C188.2 494.9 189.1 494.2 189.5 493.9M154.0 515.0C156.1 516.0 158.4 517.0 161.2 517.6M161.2 517.6C164.0 518.2 167.5 518.5 171.0 518.9M148.6 511.3C149.2 512.6 151.1 516.5 152.5 519.0M152.5 519.0C153.9 521.5 155.4 524.2 157.0 526.0M157.0 526.0C158.6 527.8 160.2 528.8 162.0 530.0M153.8 521.8C153.6 523.0 152.8 526.5 152.4 529.0" stroke-width="1.6"/>
<path d="M140.1 408.0C137.8 406.3 134.4 404.4 132.0 403.0M132.0 403.0C129.6 401.6 127.4 400.8 125.4 399.5M144.3 397.4C142.8 395.6 141.4 393.6 140.0 392.0M170.9 396.0C171.6 396.0 173.6 395.8 175.0 396.0M157.0 423.5C157.9 422.8 160.6 420.4 162.5 419.0M121.1 498.6C118.8 498.8 115.5 498.6 113.0 498.2M113.0 498.2C110.5 497.8 108.2 497.4 106.4 496.5M116.9 507.0C114.4 508.1 111.5 509.1 109.0 509.8M109.0 509.8C106.5 510.5 104.5 511.3 102.2 511.3M137.0 495.4C136.5 498.1 135.4 503.6 134.5 508.0M134.5 508.0C133.6 512.4 133.1 516.0 131.7 521.8M141.5 492.5C141.8 492.8 142.3 493.3 143.3 494.4M143.3 494.4C144.3 495.4 145.9 497.6 147.5 498.8M147.5 498.8C149.1 500.0 150.6 501.0 152.8 501.8M144.0 504.0C145.4 506.5 146.9 509.5 148.6 511.3M148.6 511.3C150.3 513.1 151.9 514.0 154.0 515.0" stroke-width="2.0"/>
<path d="M151.7 420.6C150.8 419.3 147.9 415.1 146.0 413.0M146.0 413.0C144.1 410.9 142.4 409.7 140.1 408.0M152.8 410.0C152.2 408.8 150.4 405.1 149.0 403.0M149.0 403.0C147.6 400.9 145.8 399.2 144.3 397.4M132.7 494.4C131.4 495.2 128.9 496.3 127.0 497.0M127.0 497.0C125.1 497.7 123.4 498.4 121.1 498.6M131.7 498.6C130.0 500.3 126.5 502.1 124.0 503.5M124.0 503.5C121.5 504.9 119.4 505.9 116.9 507.0M137.6 492.0C137.5 492.6 137.5 492.7 137.0 495.4M140.1 496.5C140.8 498.2 142.6 501.5 144.0 504.0" stroke-width="2.4"/>
<path d="M134.5 492.0C134.2 492.4 133.9 493.6 132.7 494.4M134.0 493.5C133.6 494.4 133.4 496.9 131.7 498.6M139.5 493.5C139.6 494.0 139.3 494.8 140.1 496.5" stroke-width="2.8"/>
<path d="M151.7 433.3C152.1 430.6 152.6 428.0 152.8 426.9M161.6 413.8C163.2 411.5 164.2 409.5 165.4 407.5M165.4 407.5C166.6 405.5 167.6 403.6 168.5 401.6M168.5 401.6C169.4 399.6 170.5 396.4 170.9 395.4" stroke-width="3.2"/>
<path d="M148.6 454.3C149.3 450.8 150.0 446.5 150.5 443.0M150.5 443.0C151.0 439.5 151.3 436.0 151.7 433.3M152.8 428.0C153.3 426.9 154.5 423.9 156.0 421.5M156.0 421.5C157.5 419.1 160.0 416.1 161.6 413.8" stroke-width="3.6"/>
<path d="M140.5 480.0C141.0 478.9 142.4 476.0 143.3 473.3M143.3 473.3C144.2 470.6 145.1 467.2 146.0 464.0M146.0 464.0C146.9 460.8 147.8 457.8 148.6 454.3M152.8 426.9C153.0 425.2 153.7 420.1 153.8 417.0M153.8 417.0C153.9 413.9 154.0 411.5 153.6 408.0M153.6 408.0C153.2 404.5 152.0 399.6 151.2 396.0" stroke-width="4.0"/>
<path d="M151.2 396.0C150.4 392.4 149.2 388.0 148.8 386.4" stroke-width="4.4"/>
<path d="M144.4 462C144 466 143 469.5 140.2 474.7C137.5 478 131.5 480 130.6 486C130 491.5 133.5 495.4 138.5 495.6C143.5 495.8 146.6 491.5 146.8 486C147 481 146.8 476 147.4 472C148 468 149 465 149.3 462Z" fill="#3f6b3b" stroke="none"/><circle cx="138.6" cy="486.6" r="3.4" fill="#2d5230" stroke="none" opacity=".55"/><polygon points="187.4,489.9 194.6,492.4 189.4,497.6" fill="#3f6b3b" stroke="none"/>
</g>
<g transform="translate(0.0 0)" fill="none" stroke="#b93b3d" stroke-linecap="round" stroke-linejoin="round">
<path d="M237.8 353.1C237.2 351.8 236.1 350.8 235.0 350.0M235.0 350.0C233.9 349.2 232.1 348.8 231.5 348.6M237.8 353.1C238.1 352.5 238.9 350.6 239.5 349.5M239.5 349.5C240.1 348.4 241.1 347.2 241.4 346.7M255.9 361.2C256.3 360.7 257.9 359.1 258.5 358.0M258.5 358.0C259.1 356.9 259.5 355.9 259.5 354.9M259.5 354.9C259.5 353.9 259.1 352.8 258.5 352.0M258.5 352.0C257.9 351.2 256.3 350.7 255.9 350.4M206.5 385.5C205.6 383.2 204.7 380.8 203.5 379.3M203.5 379.3C202.3 377.8 200.7 377.4 199.5 376.5M199.5 376.5C198.3 375.6 197.2 375.0 196.3 373.9M196.3 373.9C195.4 372.8 194.6 371.4 194.0 370.0M194.0 370.0C193.4 368.6 192.9 366.4 192.7 365.7M296.0 406.6C298.4 406.0 300.1 405.0 302.9 404.6M302.9 404.6C305.7 404.2 309.4 404.3 313.0 404.3M313.0 404.3C316.6 404.3 322.7 404.6 324.6 404.6M194.2 467.0C193.6 468.8 193.6 470.4 192.7 472.4M192.7 472.4C191.8 474.3 189.6 477.6 189.0 478.7M199.0 483.0C197.5 485.2 195.2 488.4 194.5 489.5M207.6 486.0C207.3 488.1 207.5 489.2 207.1 492.2M207.1 492.2C206.7 495.2 205.6 502.0 205.3 504.0M219.8 476.0C220.2 478.2 220.6 480.4 221.0 482.5M221.0 482.5C221.4 484.6 222.2 487.6 222.5 488.6" stroke-width="1.6"/>
<path d="M239.6 367.5C239.2 366.8 238.4 364.4 237.5 363.0M237.5 363.0C236.6 361.6 235.5 360.3 234.2 359.4M234.2 359.4C232.9 358.5 231.2 357.9 229.5 357.5M229.5 357.5C227.8 357.1 225.2 356.8 224.3 356.7M238.5 363.0C238.5 362.2 238.4 359.6 238.3 358.0M238.3 358.0C238.2 356.4 238.4 354.4 237.8 353.1M240.5 373.0C241.0 372.2 242.4 369.9 243.5 368.5M243.5 368.5C244.6 367.1 245.7 365.8 246.9 364.8M246.9 364.8C248.2 363.8 249.5 363.1 251.0 362.5M251.0 362.5C252.5 361.9 253.8 361.6 255.9 361.2M255.9 361.2C258.0 360.8 262.2 360.4 263.5 360.3M211.6 434.0C211.2 431.8 209.8 424.9 209.0 421.0M209.0 421.0C208.2 417.1 207.3 414.2 207.1 410.9M207.1 410.9C206.9 407.6 207.3 404.0 207.6 401.0M207.6 401.0C207.9 398.0 209.1 395.4 208.9 392.8M208.9 392.8C208.7 390.2 207.4 387.8 206.5 385.5M217.8 428.5C218.0 428.0 218.1 426.6 218.9 425.4M218.9 425.4C219.7 424.2 221.2 422.6 222.5 421.4M222.5 421.4C223.8 420.2 225.1 419.4 227.0 418.1M227.0 418.1C228.9 416.8 231.6 415.0 234.0 413.6M234.0 413.6C236.4 412.2 238.7 411.1 241.4 410.0M241.4 410.0C244.1 408.9 247.0 408.1 250.0 407.3M250.0 407.3C253.0 406.6 256.6 405.9 259.5 405.5M259.5 405.5C262.4 405.1 264.8 405.1 267.5 405.1M267.5 405.1C270.2 405.1 273.3 405.1 275.8 405.5M275.8 405.5C278.3 405.9 280.4 406.8 282.5 407.2M282.5 407.2C284.6 407.6 286.1 408.3 288.4 408.2M288.4 408.2C290.6 408.1 293.6 407.2 296.0 406.6M196.3 461.5C195.4 463.3 194.8 465.2 194.2 467.0M205.5 468.0C204.7 471.1 204.6 473.5 203.5 476.0M203.5 476.0C202.4 478.5 200.5 480.8 199.0 483.0M208.9 479.6C208.4 482.1 207.9 483.9 207.6 486.0M218.6 469.0C219.0 471.8 219.4 473.8 219.8 476.0" stroke-width="2.0"/>
<path d="M240.5 376.6C240.6 374.9 240.5 373.5 240.3 372.0M240.3 372.0C240.2 370.5 239.7 368.2 239.6 367.5M203.5 450.7C202.4 452.1 200.7 454.2 199.5 456.0M199.5 456.0C198.3 457.8 197.2 459.7 196.3 461.5M208.4 457.5C207.9 459.2 206.3 464.9 205.5 468.0M212.8 460.5C212.5 462.2 211.5 467.8 210.8 471.0M210.8 471.0C210.2 474.2 209.4 477.1 208.9 479.6M217.6 459.5C217.8 461.1 218.2 466.2 218.6 469.0" stroke-width="2.4"/>
<path d="M237.8 387.4C239.1 385.6 239.6 383.8 240.0 382.0M240.0 382.0C240.4 380.2 240.4 378.3 240.5 376.6M206.0 447.5C205.6 448.0 204.6 449.3 203.5 450.7" stroke-width="2.8"/>
<path d="M222.0 405.0C223.3 402.6 225.2 400.4 227.0 398.3M227.0 398.3C228.8 396.2 230.7 394.3 232.5 392.5M232.5 392.5C234.3 390.7 236.6 389.1 237.8 387.4" stroke-width="3.2"/>
<path d="M217.3 422.0C217.8 418.6 218.1 415.5 218.9 412.7M218.9 412.7C219.7 409.9 220.7 407.4 222.0 405.0" stroke-width="3.6"/>
<path d="M216.1 433.0C216.3 431.2 216.8 425.4 217.3 422.0" stroke-width="4.0"/>
<path d="M216 430C220 434 223 438.5 223.5 445C224 452 221 458.5 216.5 461.5C213.5 463.5 210.5 462.5 208 459.5C204.5 455.5 202.8 450.5 203.6 445.5C204.6 439.5 210.5 436 216 430Z" fill="#c03f41" stroke="none"/><ellipse cx="213.6" cy="446.4" rx="4.6" ry="5.6" fill="#a52d31" stroke="none"/><circle cx="213.6" cy="446.4" r="1.3" fill="#5f1216" stroke="none"/><g fill="#b93b3d" stroke="none"><circle cx="224.4" cy="356.8" r="1.5"/><circle cx="231.6" cy="348.7" r="1.3"/><circle cx="241.4" cy="346.7" r="1.2"/><circle cx="263.4" cy="360.3" r="1.4"/><circle cx="256" cy="350.4" r="1.3"/><circle cx="192.7" cy="365.8" r="1.1"/></g>
</g>
<g fill="#f0819f"><circle cx="249.6" cy="348.6" r="3.5"/><circle cx="225.2" cy="368.4" r="3.5"/><circle cx="249.6" cy="369.3" r="3.5"/><circle cx="261.7" cy="368.1" r="3.5"/><circle cx="246.5" cy="388.3" r="3.5"/><circle cx="325.1" cy="395.2" r="3.5"/><circle cx="314.6" cy="400.1" r="3.5"/><circle cx="314.6" cy="414.0" r="3.5"/><circle cx="305.2" cy="418.1" r="3.5"/><circle cx="326.4" cy="417.8" r="3.5"/></g>
<g fill="#6b71c6"><circle cx="182.7" cy="402.7" r="3.4"/><circle cx="110.0" cy="524.5" r="3.4"/><circle cx="194.5" cy="481.1" r="3.4"/><circle cx="196.6" cy="499.7" r="3.4"/></g>
<g fill="#c8373c"><circle cx="326.6" cy="404.8" r="2.6"/></g>
<g fill="#c8373c"><circle cx="194.4" cy="489.9" r="2.0"/></g>
<g fill="none" stroke="#111" stroke-width="2" stroke-linecap="round"><path d="M316.7 397.1h17.6M316.7 412.3h17.6" stroke-dasharray="0 4.375"/><path d="M316.7 397.1v15.3M334.2 397.1v15.3" stroke-dasharray="0 5.067"/></g>
<g transform="translate(497.6 0)" fill="none" stroke="#3f6b3b" stroke-linecap="round" stroke-linejoin="round">
<path d="M337.4 396.7l-3.2 0.6M336.7 394.7l4.2 0.3M335.5 391.4l-3.2 0.4M334.7 389.4l1.8 -2.0M333.6 386.9l-2.7 2.1M332.7 385.1l2.8 -0.3M332.0 383.8l-3.5 1.9M330.8 382.0l2.4 -2.0M329.2 379.9l-3.3 1.7M327.5 378.0l2.6 -1.1M325.5 376.3l-2.0 1.3M323.2 374.8l0.8 -2.8M322.0 374.1l-1.9 2.0M320.5 373.4l2.2 -2.2M318.5 372.5l-0.9 2.0M316.0 371.5l-1.3 2.6M314.0 370.9l0.5 -2.9M311.6 370.3l-1.0 2.3M309.0 369.6l0.8 -2.8M306.6 368.9l-1.9 2.8M304.6 368.3l0.8 -1.9M302.5 367.7l0.4 -3.3M299.5 366.9l-0.4 -3.0M297.5 366.4l-0.9 1.7M295.6 366.0l0.9 -2.5M292.6 365.4l0.2 3.1M291.1 365.2l-0.0 -2.7M289.0 365.0l0.2 2.7M287.5 364.9l-0.5 1.8M285.9 364.8l1.3 -2.7M283.0 364.7l-0.1 2.4M281.2 364.7l0.4 -2.2M278.9 364.7l-0.4 1.6M276.8 364.7l-1.0 -2.8M337.0 394.7l-2.8 0.3M337.1 392.2l-2.9 -0.5M336.6 389.6l3.4 -1.1M336.1 388.1l-2.1 1.6M335.1 385.5l2.9 -1.9M334.1 383.1l-3.4 0.8M333.2 381.3l1.9 -2.1M331.9 379.1l-2.9 1.6M330.7 377.4l-1.9 1.6M329.5 375.7l1.2 -2.2M328.5 374.4l-1.7 1.7M327.2 372.8l-1.6 2.6M326.1 371.6l1.6 -2.8M324.7 370.1l-1.3 2.6M322.8 368.4l1.9 -2.7M321.0 366.6l-2.8 1.9M319.3 364.5l1.4 -2.4M317.8 362.4l2.1 -1.0M316.6 360.7l-2.0 2.5M315.1 358.5l1.9 -0.5M314.0 356.2l-1.6 1.5M313.3 353.6l-3.2 -0.5M312.8 351.0l3.0 -1.1M312.4 348.2l-1.7 0.9M312.3 346.2l2.2 0.5M312.3 344.0l-2.7 1.2M312.4 342.5l2.0 0.9M312.5 340.1l-2.5 -0.6M312.7 338.3l2.8 -0.8M312.8 336.7l-2.7 -0.6M311.2 351.4l-0.3 2.1M309.7 350.5l0.8 -2.1M308.2 349.7l-0.6 1.6M306.1 348.5l0.1 -1.8M304.5 347.8l-1.1 1.7M303.0 347.3l-0.1 -1.9M301.3 346.8l-0.8 2.0M298.5 346.3l0.8 -2.1M296.4 346.0l0.5 2.3M318.2 363.4l-0.9 2.1M315.9 362.5l1.4 -2.5M314.2 361.9l-1.0 2.6M312.5 361.2l-1.6 1.6M310.1 360.2l0.2 -2.2M308.2 359.4l-0.8 2.6M306.0 358.5l-0.2 1.5M303.7 357.5l1.1 -2.0M301.7 356.7l-0.9 1.6M291.5 365.0l-1.2 1.2M291.1 363.9l1.7 -0.2M290.1 361.2l-2.0 1.0M289.1 358.5l1.6 -0.5M288.7 356.9l-2.2 1.8M288.1 354.6l2.7 0.4M287.5 352.2l-1.4 0.2M335.3 391.7l-2.5 2.4M333.8 389.6l-2.1 1.3M332.4 388.4l1.1 -3.0M330.2 386.7l-1.9 1.7M328.9 385.8l2.2 -2.5M327.6 385.0l-1.7 2.5M325.3 384.0l-0.5 2.1M323.2 383.3l2.0 -2.5M321.3 382.9l0.7 -2.9M318.7 382.4l-0.5 1.9M316.5 382.1l-0.0 -2.5M314.0 381.8l0.5 1.9M310.9 381.5l-0.7 1.7M309.5 381.3l0.4 -2.4M307.0 380.6l1.8 -2.1M304.7 379.5l-1.5 1.5M302.5 378.2l-1.9 2.1M300.0 377.0l-0.6 1.8M297.5 375.7l0.2 -1.6M295.2 374.5l-2.1 1.7M293.0 372.9l1.8 -1.2M308.2 381.2l-0.2 -2.3M306.6 382.1l1.9 2.3M304.0 383.5l-0.9 -2.0M302.5 384.2l1.0 2.4M300.5 385.4l-1.6 -1.4M298.0 386.4l-0.2 -2.0M296.1 386.7l0.6 2.3M294.4 386.9l-0.4 -2.2M292.1 387.2l-0.5 2.7M290.0 387.4l-0.6 -2.2M332.7 380.8l-2.0 -0.8M332.9 378.5l2.6 0.3M333.1 375.5l2.2 -0.7M333.2 373.4l-2.1 0.6M333.4 371.4l-2.7 -0.2M333.8 368.5l1.5 0.8M334.4 365.9l-1.4 -1.0M335.2 363.5l1.9 0.4M336.3 360.7l-1.8 -0.8M336.9 359.3l1.6 1.2M342.7 396.8l-1.6 -3.1M343.8 395.5l2.8 0.9M344.8 394.1l-3.8 -0.5M346.1 391.8l3.9 1.1M347.5 389.5l-3.5 -1.9M348.7 387.8l2.2 1.9M349.9 386.2l-1.9 -1.9M351.7 384.4l2.5 1.8M353.2 383.1l2.6 1.8M355.6 381.1l-2.9 -2.4M357.6 379.5l2.9 2.2M359.1 378.3l-1.9 -1.7M361.6 376.6l1.5 3.0M362.9 375.9l-0.5 -2.2M364.7 374.9l2.1 2.9M366.6 374.0l1.1 2.9M368.4 373.1l-0.0 -2.9M370.3 372.2l-0.7 -3.3M372.5 371.2l-1.4 -2.9M374.4 370.4l-1.1 -2.7M376.7 369.3l1.7 1.6M379.0 368.2l-0.7 -1.8M380.9 367.4l1.5 2.0M382.3 366.8l1.8 2.2M384.7 365.8l-0.7 -1.7M386.9 365.2l-0.8 -2.3M390.1 364.5l0.7 1.8M393.0 363.9l-1.0 -2.3M395.1 363.5l0.2 2.1M396.7 363.3l0.9 1.5M366.6 373.5l-2.5 0.1M367.2 371.9l3.0 -0.1M367.9 370.3l-1.8 -1.4M368.7 368.0l1.4 1.2M369.3 366.0l-2.7 -1.1M370.1 363.0l-2.1 -0.1M370.5 361.1l3.1 -0.3M370.8 359.1l3.0 0.2M371.0 357.5l2.6 0.5M371.1 355.0l-2.3 0.9M371.3 351.9l-2.4 -1.2M371.4 349.3l2.0 0.4M371.7 347.4l-2.1 -0.2M372.6 344.8l2.8 0.9M374.1 342.0l-2.8 -0.3M375.6 339.6l1.8 0.8M370.4 360.0l0.3 -3.0M368.8 359.3l-1.1 2.1M365.6 358.0l0.9 -2.7M363.0 357.2l-0.8 2.4M360.1 356.5l1.4 -2.5M358.5 356.1l-1.4 2.5M349.2 387.3l-1.7 -2.0M350.6 385.9l2.0 1.1M352.2 384.7l-2.0 -1.3M354.9 383.3l-2.1 -1.9M357.4 382.3l0.8 2.3M360.0 381.3l-0.5 -2.0M362.5 380.5l0.7 2.4M365.5 379.7l-0.1 3.3M368.6 379.1l-0.5 -2.6M371.2 378.9l1.1 2.6M373.8 379.1l1.0 -2.8M376.4 379.4l-0.1 -2.1M378.0 379.6l0.2 3.0M379.5 379.8l-0.3 -2.0M382.6 380.3l0.3 1.7M385.1 380.8l0.4 2.2M387.1 381.2l0.7 -2.6M388.7 381.6l-1.5 2.2M390.6 382.0l0.0 2.5M392.5 382.5l-1.7 2.0M394.7 383.1l0.2 -1.8M397.6 383.9l-0.5 1.7M360.3 381.6l1.1 -2.8M361.4 382.1l-0.2 1.9M364.4 383.4l1.3 -1.2M366.5 384.3l-0.7 2.6M369.0 385.4l0.4 -1.5M370.6 386.1l-1.2 2.3M372.6 386.9l0.4 -2.0M332.7 465.8l4.0 0.9M332.6 466.8l-3.6 -1.2M332.4 468.7l4.3 -0.3M332.1 471.5l-3.4 1.1M331.8 473.8l4.4 0.9M331.5 476.0l3.5 0.4M331.1 479.1l3.9 -0.7M330.7 481.7l-3.5 0.7M330.2 484.2l3.2 -0.5M329.7 486.1l-3.1 -0.3M329.0 488.6l3.5 1.3M328.1 491.0l-4.3 -0.6M327.3 492.8l3.5 2.4M326.7 494.2l-2.0 -2.4M325.8 496.0l3.1 1.6M324.8 497.7l-2.1 -2.5M323.9 499.4l3.5 1.6M322.8 501.1l-2.2 -2.3M321.5 502.9l-3.5 -2.5M319.9 504.9l3.1 1.8M318.4 506.7l-3.1 -2.5M316.0 509.3l2.9 2.8M313.9 511.6l-3.1 -1.6M312.9 512.7l-2.9 -1.0M332.5 472.1l-3.3 0.4M332.7 473.3l3.2 0.4M332.9 475.4l3.3 -0.2M333.2 477.7l-3.4 1.3M333.5 480.0l-3.1 1.1M333.8 482.0l3.6 -1.9M334.0 484.1l-3.9 0.5M334.4 486.7l2.9 -1.5M334.7 488.2l-3.7 1.3M335.0 489.7l-3.0 0.9M335.6 491.7l3.9 0.4M336.1 493.7l-2.8 1.7M336.7 495.6l2.8 -1.4M337.5 498.0l3.3 -0.4M338.3 500.2l-3.0 1.2M338.9 502.2l3.2 0.5M339.4 505.3l-3.5 0.6M339.7 508.2l3.7 1.2M339.9 511.1l-3.7 0.7M340.1 513.7l3.5 0.1M339.8 506.3l-2.4 1.2M341.3 508.8l3.1 -1.4M342.5 509.8l-1.7 1.9M345.0 511.2l-1.2 2.5M346.5 512.0l0.2 -3.2M348.6 513.2l-1.9 2.2M342.6 483.3l-1.6 0.7M343.3 484.9l-1.3 1.3M344.6 488.0l2.2 -0.8M345.3 490.0l-2.4 -0.1M345.8 492.3l2.6 -0.4M346.4 494.3l-2.3 -0.1M347.4 496.7l1.8 -2.1M348.5 498.8l-1.4 0.7M349.3 500.2l2.5 -1.0M333.7 476.2l2.0 -1.5M335.0 478.0l-2.7 1.5M337.1 480.7l1.9 -1.2M338.2 482.1l-2.3 2.3M339.5 483.7l2.9 -1.4M341.0 485.3l-1.8 2.6M342.8 487.2l1.3 -2.8M344.3 488.7l-1.6 1.2M346.6 490.9l2.1 -1.2M348.2 492.3l-2.8 1.5M349.6 493.7l0.7 -1.6M351.5 495.4l-1.7 0.8M353.3 497.2l2.0 -1.2M355.2 499.6l1.0 -1.5M356.2 501.3l1.8 -0.7M357.0 502.7l-2.4 1.6M358.1 505.1l2.2 -1.2M358.7 506.5l-1.6 1.7M359.6 508.7l1.6 -0.5M360.7 511.4l-2.7 0.4M333.2 462.1l-0.4 -1.9M331.7 462.7l0.8 2.0M329.9 464.0l-1.9 -1.6M328.1 466.2l2.2 1.0M326.7 467.9l-1.2 -1.6M325.4 469.4l-1.4 -1.6M323.6 471.4l2.3 1.8M321.7 473.2l-1.8 -1.2M319.8 474.7l1.4 2.1M317.7 476.4l-1.2 -2.0M331.9 473.8l2.4 2.5M330.5 476.5l2.0 0.9M329.0 478.6l-2.5 -2.1M327.8 479.9l-0.8 -2.1M326.1 481.2l-2.3 -1.8M323.3 482.8l2.1 2.3M322.0 483.5l-0.1 -2.3M320.3 484.2l0.1 3.4M318.8 484.7l2.2 2.5M324.4 495.6l-2.4 0.1M322.9 495.0l-0.2 -3.3M321.6 495.3l-0.1 -1.9M319.0 496.1l-0.0 3.2M317.2 496.6l0.4 2.2M315.0 497.2l-1.5 -2.8M313.5 497.5l-0.7 -3.0M311.9 497.9l0.1 1.9M310.4 498.2l-0.5 -2.4M308.9 498.5l0.9 2.0M305.9 499.4l-0.4 -2.9M303.6 500.4l0.9 1.7M301.7 501.3l0.4 1.7M299.4 502.5l-1.1 -1.1M297.5 503.6l-1.1 -2.0M295.5 504.9l-0.4 -1.6M294.1 505.9l1.2 1.7M292.5 507.0l0.6 2.5" stroke-width=".9" opacity=".9"/>
<path d="M283.0 364.7C280.4 364.6 277.0 364.7 275.8 364.7M312.3 344.5C312.3 341.8 312.9 336.3 313.0 334.7M311.5 351.5C310.2 350.9 306.6 348.5 304.0 347.6M304.0 347.6C301.4 346.7 297.4 346.2 296.1 345.9M312.0 361.0C309.9 360.2 307.8 359.3 306.0 358.5M306.0 358.5C304.2 357.7 301.8 356.8 301.0 356.4M291.6 365.3C291.2 364.1 289.7 360.3 289.0 358.0M289.0 358.0C288.3 355.7 287.7 352.7 287.4 351.6M302.0 378.0C299.9 376.9 297.4 375.7 295.8 374.8M295.8 374.8C294.2 373.9 293.1 372.9 292.5 372.5M303.0 384.0C301.2 384.9 300.4 385.8 298.0 386.4M298.0 386.4C295.6 387.0 290.1 387.3 288.5 387.5M333.2 374.0C333.4 371.9 333.5 370.2 333.8 368.5M333.8 368.5C334.1 366.8 334.7 365.1 335.2 363.5M335.2 363.5C335.7 361.9 336.7 359.8 337.0 359.0M386.5 365.3C389.3 364.5 395.2 363.6 397.0 363.2M371.2 353.5C371.4 351.4 371.3 349.1 371.7 347.4M371.7 347.4C372.1 345.6 372.8 344.4 373.5 343.0M373.5 343.0C374.2 341.6 375.6 339.7 376.0 339.0M370.7 360.1C369.6 359.7 366.3 358.2 364.0 357.5M364.0 357.5C361.7 356.8 358.2 356.1 357.0 355.8M386.5 381.1C389.0 381.6 390.9 382.1 393.0 382.6M393.0 382.6C395.1 383.1 398.2 384.0 399.2 384.3M360.0 381.5C361.2 382.0 364.7 383.5 367.0 384.5M367.0 384.5C369.3 385.5 372.8 387.0 373.9 387.5M342.5 483.0C342.9 484.0 344.3 487.0 345.0 489.0M345.0 489.0C345.7 491.0 345.7 492.6 346.6 494.8M346.6 494.8C347.5 497.0 349.6 500.8 350.2 502.0M354.9 499.2C356.3 501.2 357.4 503.7 358.5 506.0M358.5 506.0C359.6 508.3 360.8 511.8 361.2 512.9M327.0 467.5C325.8 468.9 324.9 470.2 323.2 471.8M323.2 471.8C321.5 473.4 317.9 476.2 316.9 477.1M306.4 499.2C303.7 500.1 301.0 501.6 298.5 503.0M298.5 503.0C296.0 504.4 292.8 506.8 291.6 507.6" stroke-width="1.2"/>
<path d="M346.2 345.0C346.9 339.4 348.0 331.2 348.4 328.4M300.0 367.0C297.2 366.3 294.4 365.7 291.6 365.3M291.6 365.3C288.8 364.9 285.6 364.8 283.0 364.7M314.4 357.1C313.6 355.3 313.1 353.1 312.8 351.0M312.8 351.0C312.5 348.9 312.3 347.2 312.3 344.5M318.5 363.5C317.4 363.1 314.1 361.8 312.0 361.0M323.2 383.3C321.1 382.7 318.4 382.4 316.0 382.0M316.0 382.0C313.6 381.6 310.8 381.8 308.5 381.1M308.5 381.1C306.2 380.4 304.1 379.1 302.0 378.0M308.5 381.1C307.6 381.6 304.8 383.1 303.0 384.0M332.7 381.1C332.8 379.9 333.0 376.1 333.2 374.0M373.9 370.6C376.0 369.7 377.9 368.7 380.0 367.8M380.0 367.8C382.1 366.9 383.7 366.1 386.5 365.3M369.0 367.0C369.7 364.7 370.3 362.4 370.7 360.1M370.7 360.1C371.1 357.9 371.0 355.6 371.2 353.5M369.6 379.0C372.4 378.8 375.2 379.2 378.0 379.6M378.0 379.6C380.8 380.0 384.0 380.6 386.5 381.1M338.5 482.5C340.3 484.6 342.4 486.8 344.3 488.7M344.3 488.7C346.2 490.6 348.2 492.2 350.0 494.0M350.0 494.0C351.8 495.8 353.5 497.2 354.9 499.2M333.5 462.0C333.0 462.2 331.7 462.5 330.6 463.4M330.6 463.4C329.5 464.3 328.2 466.1 327.0 467.5M324.5 496.0C324.3 495.8 324.9 494.8 323.2 495.0M323.2 495.0C321.5 495.2 317.3 496.6 314.5 497.3M314.5 497.3C311.7 498.0 309.1 498.2 306.4 499.2" stroke-width="1.6"/>
<path d="M340.6 395.0C340.9 392.2 341.7 383.5 342.3 378.0M342.3 378.0C342.9 372.5 343.7 367.7 344.3 362.2M344.3 362.2C344.9 356.7 345.5 350.6 346.2 345.0M308.5 369.5C305.8 368.8 302.8 367.7 300.0 367.0M321.4 367.0C319.9 365.3 318.7 363.6 317.5 362.0M317.5 362.0C316.3 360.4 315.2 358.9 314.4 357.1M335.5 392.0C335.2 391.6 335.0 390.7 333.8 389.6M333.8 389.6C332.6 388.5 330.3 386.6 328.5 385.5M328.5 385.5C326.7 384.4 325.3 383.9 323.2 383.3M367.5 373.5C369.6 372.4 371.8 371.6 373.9 370.6M366.5 373.8C366.9 372.7 368.3 369.3 369.0 367.0M349.0 387.5C349.6 387.0 350.8 385.4 352.8 384.3M352.8 384.3C354.8 383.2 358.2 381.9 361.0 381.0M361.0 381.0C363.8 380.1 366.8 379.2 369.6 379.0M339.6 506.0C340.0 506.5 340.7 508.3 341.7 509.2M341.7 509.2C342.7 510.1 344.1 510.7 345.5 511.5M345.5 511.5C346.9 512.3 349.4 513.6 350.2 514.0M333.5 476.0C334.3 477.1 336.7 480.4 338.5 482.5M330.5 476.5C329.7 477.6 328.7 479.1 327.3 480.3M327.3 480.3C325.9 481.5 323.6 482.7 322.0 483.5M322.0 483.5C320.4 484.3 318.4 484.8 317.7 485.1" stroke-width="2.0"/>
<path d="M323.2 374.8C321.3 373.7 318.4 372.4 316.0 371.5M316.0 371.5C313.6 370.6 311.2 370.2 308.5 369.5M331.3 378.2C330.0 376.2 328.1 373.9 326.5 372.0M326.5 372.0C324.9 370.1 322.9 368.7 321.4 367.0M356.0 380.8C357.8 379.4 359.3 378.1 361.2 376.9M361.2 376.9C363.1 375.7 365.4 374.6 367.5 373.5M332.0 473.5C331.8 474.0 331.3 475.4 330.5 476.5" stroke-width="2.4"/>
<path d="M327.5 378.0C326.1 376.6 325.1 375.9 323.2 374.8M336.9 390.9C336.5 389.1 335.4 386.1 334.5 384.0M334.5 384.0C333.6 381.9 332.6 380.2 331.3 378.2M350.7 385.4C352.1 383.9 354.2 382.2 356.0 380.8" stroke-width="2.8"/>
<path d="M334.5 389.0C333.5 386.7 332.9 385.1 331.7 383.3M331.7 383.3C330.5 381.5 328.9 379.4 327.5 378.0M337.0 395.0C337.0 394.3 337.3 392.7 336.9 390.9M344.3 394.8C345.1 393.6 346.4 391.1 347.5 389.5M347.5 389.5C348.6 387.9 349.3 386.8 350.7 385.4" stroke-width="3.2"/>
<path d="M337.5 397.0C337.0 395.7 335.5 391.3 334.5 389.0M342.5 397.0C342.8 396.6 343.5 396.1 344.3 394.8M332.5 471.8C332.7 473.2 333.1 477.2 333.5 480.0M333.5 480.0C333.9 482.8 334.2 485.9 334.8 488.7M334.8 488.7C335.4 491.4 336.3 494.1 337.0 496.5M337.0 496.5C337.7 498.9 338.6 500.5 339.1 503.4M339.1 503.4C339.6 506.3 339.9 512.2 340.1 514.0" stroke-width="3.6"/>
<path d="M334.3 458.0C333.8 460.5 333.0 464.2 332.7 465.5M329.6 486.6C328.7 489.9 327.4 492.7 326.0 495.5M326.0 495.5C324.6 498.3 323.3 500.5 321.1 503.4M321.1 503.4C318.9 506.3 314.1 511.3 312.7 512.9" stroke-width="4.0"/>
<path d="M339.1 429.6C338.8 432.6 338.3 436.5 337.8 440.0M337.8 440.0C337.3 443.5 336.5 447.7 335.9 450.7M335.9 450.7C335.3 453.7 334.8 455.5 334.3 458.0M332.7 465.5C332.5 467.2 332.0 472.5 331.5 476.0M331.5 476.0C331.0 479.5 330.5 483.4 329.6 486.6" stroke-width="4.4"/>
<path d="M339.7 411.0C339.7 411.5 339.8 412.0 339.7 413.8M339.7 413.8C339.6 415.6 339.5 419.4 339.4 422.0M339.4 422.0C339.3 424.6 339.4 426.6 339.1 429.6" stroke-width="4.8"/>
<path d="M339.6 392.6C345 392.6 348.6 396.4 348.4 401.2C348.2 406.2 343.8 409.5 341.9 415.5H337.5C335.6 409.5 331 406.2 330.8 401.2C330.6 396.4 334.2 392.6 339.6 392.6Z" fill="#3f6b3b" stroke="none"/><circle cx="339.4" cy="402" r="3.6" fill="#2d5230" stroke="none" opacity=".5"/>
</g>
<g transform="translate(497.0 0)" fill="none" stroke="#5f6365" stroke-linecap="round" stroke-linejoin="round">
<path d="M208.8 551.9l2.6 1.9M207.1 553.1l-2.4 -3.1M205.3 554.3l-2.5 -1.5M202.8 556.0l0.5 3.2M200.9 557.3l-3.0 -2.5M199.2 558.4l2.7 2.9M197.0 559.8l-2.0 -2.4M195.7 560.6l-0.9 -2.7M194.0 561.6l0.9 4.0M192.7 562.3l1.2 3.1M191.3 563.1l-2.2 -1.8M189.5 564.0l2.1 3.5M187.6 564.9l-2.0 -2.9M186.2 565.6l0.9 3.5M184.8 566.3l2.8 2.9M183.0 567.2l-2.0 -2.9M180.5 568.5l0.6 3.7M178.4 569.6l0.3 3.6M176.5 570.5l-1.9 -3.2M174.6 571.5l0.7 3.5M180.7 568.1l-0.0 3.0M179.5 567.8l0.7 -2.4M177.3 567.1l-0.2 2.8M174.5 566.4l-0.6 -3.2M171.6 566.0l-1.4 2.8M169.4 565.8l0.3 -2.5M208.8 551.9l-1.8 -2.5M207.7 553.2l-2.5 -0.8M206.2 554.8l1.6 3.3M205.0 556.2l-1.5 -2.6M203.9 557.6l-3.5 -1.5M202.9 558.8l2.9 2.1M201.6 560.3l-2.5 -2.4M200.0 562.2l-1.7 -2.9M198.8 563.9l-3.5 -1.5M197.6 566.1l3.5 0.7M196.6 568.5l-3.1 -0.6M195.9 571.0l4.0 0.9M195.3 573.0l-3.0 -2.6M194.7 575.0l3.4 -0.2M194.1 577.1l2.6 2.3M193.5 579.1l-3.8 -1.8M192.9 581.0l3.6 -0.2M192.2 583.0l-2.5 -1.5M191.6 584.7l3.1 -0.1M190.5 587.5l2.8 2.7M189.4 590.0l-2.8 -1.3M196.6 570.3l2.3 -1.7M196.9 571.4l-2.4 1.6M197.2 573.0l-2.4 0.2M197.8 575.4l2.2 0.3M198.3 577.3l-2.0 1.6M198.8 579.3l2.7 -1.1M199.2 580.9l-3.0 1.2M199.9 584.0l1.7 -0.4M200.4 586.0l1.8 -0.6M201.1 588.6l-1.7 0.3M201.6 591.0l1.8 -1.2M201.9 592.5l-2.7 1.4M202.1 595.0l2.1 0.6M202.2 597.2l1.8 -0.6M202.2 598.8l2.3 0.6M202.2 600.5l-2.0 0.7M202.2 602.3l2.3 0.2M202.2 604.3l-2.7 -0.7M208.4 551.8l2.7 -0.2M207.7 554.0l-1.7 -1.5M207.1 556.4l3.3 0.0M206.8 558.8l-2.3 0.1M206.4 561.6l1.8 0.6M206.2 564.3l-2.9 -0.0M206.2 565.8l2.8 -1.0M206.3 567.5l-2.0 -0.3M206.8 570.0l-2.4 1.2M207.3 572.5l2.2 -0.9M208.0 575.0l-2.3 0.6M208.8 577.4l2.5 -2.1M209.8 579.1l2.0 -0.6M211.1 580.7l-1.8 2.6M213.4 582.9l2.5 -1.2M215.0 584.2l-1.2 1.9M216.6 585.5l1.3 -2.0M217.5 586.7l-1.8 0.5M218.1 588.0l2.3 -0.1M218.8 590.0l-2.2 -0.3M219.4 592.0l1.8 0.2M219.9 593.8l2.1 -1.6M220.2 595.7l-2.3 -0.6M220.3 597.5l-2.6 1.0M220.2 600.1l1.7 -0.4M220.1 602.8l-1.6 -0.4M219.9 605.2l2.3 -0.7M219.6 607.6l-2.8 -0.4M219.4 610.0l2.3 -0.8M209.2 578.5l2.1 0.4M209.5 580.0l-1.9 0.6M209.9 582.6l1.7 -0.7M210.3 584.9l-2.1 1.2M210.6 586.7l1.4 -0.9M211.0 589.4l2.3 0.6M211.4 591.5l-2.2 0.3M211.7 593.3l2.7 -0.6M212.0 595.0l-2.2 -0.2M212.5 597.5l1.7 0.0M215.5 548.3l2.7 0.2M215.7 549.9l2.9 -0.4M215.9 552.0l-2.8 -0.2M216.2 554.3l1.7 -0.1M216.3 556.0l-2.6 0.9M216.4 558.1l-2.9 -0.6M216.3 560.5l2.6 -0.1M215.9 563.5l-2.3 -0.7M215.5 566.2l2.2 -0.4M206.7 552.5l0.6 -2.4M205.2 552.7l1.3 2.4M202.6 553.0l0.7 1.9M200.2 553.2l0.0 -2.1M197.5 553.5l0.1 2.1M195.4 553.6l-0.9 3.1M192.9 553.8l0.6 1.8M191.0 553.8l-0.7 -1.6M189.5 553.9l0.8 2.2M187.0 553.9l-0.1 -1.7M184.4 553.8l0.1 2.6M181.9 553.7l0.2 -2.2M180.4 553.6l-0.6 1.7M177.9 553.6l0.1 -2.9M176.3 553.6l0.3 1.5M174.2 553.6l-0.1 -2.1M172.2 553.8l-0.5 -1.9M170.1 554.1l0.4 2.5M167.3 554.7l0.2 -2.5M165.6 555.2l-0.8 -2.7M164.1 555.6l0.0 2.9M200.9 556.4l-0.9 2.4M198.5 556.5l-0.2 -1.7M196.8 556.6l-0.6 -2.0M195.0 556.7l-0.4 2.5M192.9 556.8l-0.6 -2.3M190.0 556.9l-0.0 2.1M188.1 557.1l-0.1 -2.5M186.3 557.3l-0.3 2.2M183.4 557.7l0.2 -2.8M180.5 558.2l1.3 2.2M179.0 558.4l-0.4 1.5M255.9 504.7l-3.2 -1.9M256.6 502.4l2.0 1.1M257.3 499.5l-2.0 -0.8M257.7 496.9l2.4 0.9M257.9 495.3l-2.3 -0.1M258.1 493.7l2.3 -0.7M258.3 491.1l-2.1 0.9M258.3 488.5l2.9 0.9M258.2 486.0l-3.3 1.0M258.0 483.4l-2.5 0.9M257.9 481.8l3.3 -0.2M257.6 479.7l3.3 0.0M257.2 477.1l-2.9 0.6M256.7 474.5l2.6 0.5M256.3 472.5l-3.0 1.3M255.5 469.5l2.5 0.3M254.9 467.6l-2.4 -0.1M254.0 465.7l2.1 -1.4M253.3 464.4l2.4 -0.5M252.3 462.7l-2.1 1.2M250.8 460.8l1.1 -1.6M250.0 458.7l-2.1 -0.3M249.5 456.1l1.7 -1.0M249.1 453.7l-2.5 -0.6M248.9 452.0l-1.9 0.8M248.6 450.3l-2.5 -0.4M255.5 496.7l-2.3 0.9M255.1 494.5l2.4 0.1M254.6 492.2l-2.3 1.0M254.1 490.0l-3.0 0.9M253.5 487.5l2.1 0.0M252.9 485.5l2.7 -1.7M252.3 483.7l-2.3 1.6M251.7 482.2l3.0 -0.4M250.9 480.3l-1.2 1.4M250.0 478.4l-2.3 0.4M248.7 476.1l2.1 -0.6M247.9 474.7l-2.6 1.4M246.1 472.1l1.6 -2.2M244.4 470.2l-2.2 0.9M242.9 468.8l1.6 -1.4M241.8 467.9l0.8 -2.3M240.6 467.1l-0.9 2.0M238.6 465.5l1.0 -1.6M237.0 464.1l-0.7 1.6M234.8 462.1l1.0 -2.2M232.8 460.3l0.6 -1.8M257.3 474.2l-2.2 0.1M258.1 472.1l2.8 0.4M259.0 470.0l-1.5 -0.9M260.9 467.5l1.2 1.5M262.2 466.6l-1.0 -1.7M264.9 465.2l0.9 1.5M267.2 464.1l0.8 1.7M268.7 462.9l-1.5 -1.3M269.8 461.8l2.5 1.1M271.1 460.2l2.7 0.9M272.3 458.7l-2.2 -1.7M273.2 457.1l1.6 0.7M273.9 455.3l-2.6 -0.6M274.9 452.5l2.0 0.5M275.6 450.3l-1.4 -0.4M265.4 466.3l1.1 -1.0M266.9 467.5l0.9 -1.2M268.8 469.0l1.0 -1.6M270.6 470.4l-0.7 2.1M273.0 472.2l-0.4 2.3M275.2 473.7l1.2 -1.9M250.9 486.9l-2.3 0.4M250.2 485.5l1.6 -1.2M249.3 484.0l-1.2 1.1M248.3 482.3l2.3 -0.5M246.2 480.7l-1.0 1.7M243.3 479.6l-0.1 2.8M257.7 509.8l2.7 1.3M258.7 508.2l-2.9 -0.8M260.6 505.9l2.1 1.1M262.8 504.7l-2.1 -2.7M265.4 503.9l1.4 2.2M267.5 503.2l-1.4 -3.3M269.5 502.5l1.5 2.9M272.3 501.2l-2.1 -2.1M273.6 500.4l1.6 3.0M275.4 498.4l-2.5 -2.4M276.4 497.1l-1.4 -2.4M277.5 495.3l2.9 1.0M278.4 494.0l-2.2 -0.5M279.3 492.7l2.6 1.6M281.0 490.5l-2.0 -2.6M282.9 488.8l1.9 2.1M284.2 488.0l-0.6 -2.2M285.6 487.3l0.4 2.1M287.0 486.9l-0.6 -2.4M289.5 486.5l-0.2 3.3M292.1 486.3l-0.4 -2.7M294.2 486.3l0.8 2.2M295.7 486.3l-0.2 2.7M297.8 486.5l1.1 -2.4M299.4 486.6l0.2 3.0M301.0 486.7l-1.2 2.7M303.5 486.8l1.0 -2.5M305.1 486.9l0.1 1.9M307.1 486.9l-0.5 -2.4M310.2 486.7l1.1 2.9M311.6 486.5l-0.9 -2.6M313.6 486.1l1.2 2.8M316.5 485.4l-0.6 -1.7M305.3 490.0l0.8 1.8M303.4 490.9l-0.6 -1.5M301.4 491.8l0.1 1.8M299.7 492.5l1.0 2.6M297.2 493.6l0.6 1.4M294.6 494.8l-0.5 -1.4M292.5 495.7l1.6 1.4M289.9 496.9l1.6 1.7M264.1 506.8l0.1 -2.5M266.3 507.1l0.5 2.9M269.1 507.4l0.4 -3.3M271.5 507.6l-1.4 2.8M274.0 507.7l0.4 3.2M276.6 507.7l-0.9 -2.8M278.2 507.7l0.7 3.0M280.7 507.5l-1.0 -1.8M282.7 507.2l0.8 3.0M285.6 506.5l-0.3 -2.6M287.5 506.0l1.4 2.4M289.5 505.5l-0.4 -2.8M291.9 504.9l0.2 2.4M293.3 504.5l-0.4 3.0M295.8 503.8l0.1 -1.7M297.6 503.3l0.1 2.4M298.9 502.9l-0.0 -2.7M302.2 501.8l1.9 2.2M305.0 500.8l-0.3 -2.1M308.1 499.7l0.4 2.7M309.3 499.3l-0.8 -1.4M257.7 512.3l-3.1 -1.4M259.6 511.7l0.2 3.5M261.3 511.8l-0.4 -2.8M263.4 512.0l-1.4 2.8M266.3 512.3l1.1 -3.2M268.5 512.6l-0.2 2.7M270.5 512.8l1.1 -2.4M272.5 513.1l-1.2 2.9M275.0 513.5l0.2 2.7M277.5 514.0l0.0 -2.5M279.0 514.5l-1.0 3.1M280.5 514.9l0.6 -3.2M282.5 515.6l-0.2 3.1M284.5 516.3l1.2 -2.7M285.9 516.9l-1.6 2.8M287.9 517.6l0.5 -3.1M290.3 518.6l-1.6 2.0M291.7 519.3l0.5 -2.5M293.0 519.9l-2.2 1.9M295.3 521.1l1.7 -1.5M296.6 521.9l-0.5 1.8M297.9 522.6l-1.6 1.1M300.0 524.0l0.5 -1.7M301.6 525.1l-2.0 2.1M302.8 526.0l1.6 -1.3M304.0 526.9l-1.2 2.5M306.4 528.9l-0.7 2.0M308.5 531.0l1.9 -1.3M310.5 533.1l-1.7 1.1M312.1 534.7l-1.5 2.4M272.5 513.4l1.5 -1.8M274.2 515.1l-1.8 1.3M275.4 516.4l1.1 -2.0M276.7 517.7l1.6 -1.2M277.9 518.9l2.3 -1.8M278.9 520.0l-2.1 1.2M280.4 521.5l1.7 -0.7M282.2 523.5l-2.4 1.3M283.6 525.6l2.8 -0.7M284.9 527.8l2.6 -0.9M285.8 529.6l-2.0 1.4M287.0 532.0l2.1 -0.7M288.2 534.1l2.1 -0.8M289.2 536.2l-1.5 0.1M289.9 537.4l1.3 -1.1M281.0 507.6l-0.3 2.1M282.5 508.0l1.4 -1.6M285.1 508.8l-0.8 1.8M287.4 509.4l1.3 -2.2M290.0 510.0l0.1 2.9M292.0 510.4l0.2 2.9M293.5 510.7l0.6 -1.9M296.1 511.3l0.2 -2.1M297.6 511.7l-1.5 1.6M299.5 512.4l1.2 -1.9M301.3 513.2l-0.7 1.4M303.7 514.3l-0.5 1.7M306.0 515.5l-1.1 1.1M307.9 516.5l1.4 -1.2M309.5 517.3l1.2 -1.0M312.0 518.7l-0.1 2.1M313.6 519.6l2.2 -1.6" stroke-width=".9" opacity=".9"/>
<path d="M201.6 591.0C201.9 592.8 202.1 593.9 202.2 596.3M202.2 596.3C202.3 598.7 202.2 603.8 202.2 605.3M219.4 592.0C219.9 594.0 220.3 595.1 220.3 598.3M220.3 598.3C220.3 601.5 219.5 609.2 219.3 611.4M209.2 578.2C209.5 580.2 210.6 586.9 211.2 590.3M211.2 590.3C211.8 593.7 212.4 597.4 212.7 598.8M215.5 548.0C215.7 549.7 216.4 555.0 216.4 558.1M216.4 558.1C216.4 561.2 215.7 565.1 215.5 566.5M179.0 553.6C176.2 553.6 173.8 553.5 171.1 553.9M171.1 553.9C168.4 554.3 164.1 555.6 162.7 556.0M194.0 556.8C191.8 556.9 190.9 556.8 188.1 557.1M188.1 557.1C185.3 557.4 178.9 558.4 177.1 558.7M252.8 463.5C252.0 462.0 250.8 461.4 250.1 459.1M250.1 459.1C249.4 456.9 248.8 451.5 248.6 450.0M242.5 468.5C241.2 467.3 239.8 466.6 238.1 465.1M238.1 465.1C236.3 463.6 233.0 460.5 232.0 459.6M263.5 465.8C264.7 465.1 266.0 464.9 267.2 464.1M267.2 464.1C268.4 463.3 269.5 462.2 270.5 461.0M270.5 461.0C271.5 459.8 272.3 458.9 273.2 457.1M273.2 457.1C274.1 455.3 275.3 451.2 275.7 450.0M265.2 466.1C266.0 466.8 268.4 468.8 270.2 470.1M270.2 470.1C271.9 471.4 274.8 473.4 275.7 474.1M251.1 487.2C250.8 486.7 250.0 485.0 249.3 484.0M249.3 484.0C248.6 483.0 248.3 482.0 247.1 481.2M247.1 481.2C245.9 480.4 242.9 479.5 242.1 479.2M305.6 489.9C304.2 490.5 299.9 492.4 297.2 493.6M297.2 493.6C294.5 494.8 290.6 496.6 289.3 497.2M289.0 505.6C291.8 504.9 294.1 504.4 297.6 503.3M297.6 503.3C301.1 502.2 308.1 499.7 310.2 499.0M306.0 528.6C308.1 530.4 311.2 533.9 312.3 534.9M277.5 518.5C279.2 520.4 281.3 522.2 282.8 524.3M282.8 524.3C284.3 526.4 285.3 528.7 286.5 531.0M286.5 531.0C287.7 533.3 289.6 536.8 290.2 538.0M289.0 509.8C291.8 510.5 294.8 510.8 297.6 511.7M297.6 511.7C300.4 512.6 303.2 514.1 306.0 515.5M306.0 515.5C308.8 516.9 313.1 519.3 314.5 520.1" stroke-width="1.2"/>
<path d="M258.6 504.3C261.8 501.1 271.3 491.5 278.0 485.0M278.0 485.0C284.7 478.5 295.2 468.6 298.6 465.3M196.5 570.0C196.8 571.0 197.4 573.5 198.0 576.0M198.0 576.0C198.6 578.5 199.6 582.8 200.2 585.3M200.2 585.3C200.8 587.8 201.3 589.2 201.6 591.0M207.2 572.0C207.7 574.2 208.2 576.5 209.2 578.2M209.2 578.2C210.2 580.0 211.7 581.1 213.0 582.5M213.0 582.5C214.3 583.9 216.1 584.7 217.2 586.3M217.2 586.3C218.3 587.9 218.9 590.0 219.4 592.0M207.0 552.5C205.3 552.7 200.2 553.3 197.0 553.5M197.0 553.5C193.8 553.7 191.0 553.9 188.0 553.9M188.0 553.9C185.0 553.9 181.8 553.6 179.0 553.6M201.2 556.4C200.0 556.5 196.2 556.7 194.0 556.8M256.6 474.0C256.2 472.0 255.7 469.9 255.1 468.1M255.1 468.1C254.5 466.4 253.6 465.0 252.8 463.5M252.1 483.2C251.3 481.2 250.5 479.4 249.5 477.5M249.5 477.5C248.5 475.6 247.3 473.6 246.1 472.1M246.1 472.1C244.9 470.6 243.8 469.7 242.5 468.5M257.2 474.5C257.4 473.9 258.0 472.1 258.5 471.0M258.5 471.0C259.0 469.9 259.4 469.0 260.2 468.1M260.2 468.1C261.0 467.2 262.3 466.5 263.5 465.8M313.0 486.2C314.6 485.9 316.9 485.3 317.7 485.1M272.0 507.6C274.8 507.7 277.9 507.8 280.7 507.5M280.7 507.5C283.5 507.2 286.2 506.3 289.0 505.6M293.4 520.1C295.9 521.4 297.9 522.6 300.0 524.0M300.0 524.0C302.1 525.4 303.9 526.8 306.0 528.6M272.3 513.2C273.2 514.1 275.8 516.6 277.5 518.5M280.7 507.5C282.1 507.9 286.2 509.1 289.0 509.8" stroke-width="1.6"/>
<path d="M174.0 566.3C171.9 565.9 169.2 565.8 168.3 565.7M208.5 551.5C208.3 552.2 207.6 553.7 207.2 556.0M207.2 556.0C206.8 558.3 206.2 562.5 206.2 565.2M206.2 565.2C206.2 567.9 206.7 569.8 207.2 572.0M258.2 486.0C258.1 484.0 258.0 482.2 257.7 480.2M257.7 480.2C257.4 478.2 257.0 476.0 256.6 474.0M255.6 497.0C255.3 495.8 254.6 491.8 254.0 489.5M254.0 489.5C253.4 487.2 252.8 485.2 252.1 483.2M290.0 486.4C291.6 486.2 293.0 486.2 294.8 486.3M294.8 486.3C296.6 486.4 298.8 486.6 301.0 486.7M301.0 486.7C303.2 486.8 306.0 487.0 308.0 486.9M308.0 486.9C310.0 486.8 311.4 486.5 313.0 486.2M263.8 506.8C265.2 506.9 269.2 507.5 272.0 507.6M276.5 513.8C279.3 514.5 282.2 515.5 285.0 516.5M285.0 516.5C287.8 517.5 290.9 518.9 293.4 520.1" stroke-width="2.0"/>
<path d="M181.0 568.2C179.8 567.9 176.1 566.7 174.0 566.3M257.4 499.0C257.8 496.9 258.1 494.4 258.2 492.2M258.2 492.2C258.3 490.0 258.3 488.0 258.2 486.0M276.0 497.6C276.8 496.6 277.1 496.0 277.9 494.8M277.9 494.8C278.7 493.6 279.8 491.7 281.0 490.5M281.0 490.5C282.2 489.3 283.6 488.2 285.1 487.5M285.1 487.5C286.6 486.8 288.4 486.6 290.0 486.4M259.6 511.7C261.4 511.7 265.2 512.1 268.0 512.5M268.0 512.5C270.8 512.9 273.7 513.1 276.5 513.8" stroke-width="2.4"/>
<path d="M255.8 505.0C256.1 504.0 257.0 501.1 257.4 499.0M257.5 510.0C258.1 509.3 259.4 506.7 261.0 505.6M261.0 505.6C262.6 504.5 265.0 504.2 267.0 503.4M267.0 503.4C269.0 502.6 271.6 501.8 273.1 500.8M273.1 500.8C274.6 499.8 275.2 498.6 276.0 497.6M257.5 512.5C257.9 512.4 257.9 511.7 259.6 511.7" stroke-width="2.8"/>
<path d="M215.4 547.5C213.2 549.5 210.1 551.0 209.0 551.7M209.0 551.7C208.1 552.8 205.3 555.8 203.5 558.0" stroke-width="3.2"/>
<path d="M237.0 523.8C234.7 526.1 232.5 528.1 230.1 530.7M230.1 530.7C227.7 533.3 224.9 536.7 222.5 539.5M222.5 539.5C220.1 542.3 217.7 545.5 215.4 547.5M209.0 551.7C207.6 552.7 203.3 555.8 200.5 557.6M200.5 557.6C197.7 559.4 195.1 561.0 192.2 562.6M203.5 558.0C201.7 560.2 199.4 562.5 198.0 565.2M198.0 565.2C196.6 567.9 195.9 571.1 195.0 574.0M195.0 574.0C194.1 576.9 193.3 579.8 192.4 582.5" stroke-width="3.6"/>
<path d="M245.5 515.5C245.2 515.8 245.2 515.6 243.8 517.0M243.8 517.0C242.4 518.4 239.3 521.5 237.0 523.8M192.2 562.6C189.3 564.2 186.0 565.7 183.0 567.2M183.0 567.2C180.0 568.7 175.8 570.9 174.4 571.6M192.4 582.5C191.5 585.2 189.8 589.0 189.3 590.3" stroke-width="4.0"/>
<path d="M258.8 504C260.6 506.5 260 512 256.5 516C253 519.6 247.6 520.6 245 518.6C242 516 243.5 510.5 247 507C250.5 503.5 256.6 501.5 258.8 504Z" fill="#5f6365" stroke="none"/><circle cx="251.6" cy="511.4" r="3.4" fill="#45494b" stroke="none" opacity=".55"/>
</g>
<g transform="translate(496.4 0)" fill="none" stroke="#3f6b3b" stroke-linecap="round" stroke-linejoin="round">
<path d="M152.8 426.6l-2.8 -1.7M153.0 425.0l3.4 1.1M153.3 422.8l-4.1 -1.0M153.7 419.2l3.3 0.3M153.8 416.5l-4.2 -1.1M153.9 414.0l3.3 0.7M153.9 411.7l-3.9 1.3M153.7 409.1l3.6 -1.3M153.5 407.6l4.1 0.1M153.3 406.1l-3.3 0.4M152.9 403.6l2.8 -1.1M152.5 402.0l3.2 -0.3M152.1 399.9l3.2 -0.5M151.5 397.4l-3.1 0.9M151.1 395.4l3.2 -0.1M150.4 392.5l-3.8 -0.1M149.5 389.1l3.8 -0.4M149.0 387.4l-3.2 0.5M151.5 420.4l-1.2 1.9M150.6 419.1l2.3 -2.1M149.4 417.3l-3.2 1.1M148.0 415.5l1.5 -1.9M146.3 413.3l-2.5 0.8M145.2 412.2l1.5 -2.6M143.8 410.8l-1.1 3.2M142.2 409.6l1.0 -2.8M141.0 408.6l-2.3 2.3M138.9 407.2l1.8 -2.9M137.7 406.4l-2.0 2.5M136.3 405.5l1.9 -1.3M134.1 404.2l-0.5 2.4M132.4 403.2l1.1 -3.0M130.5 402.2l-1.7 1.6M128.1 401.0l1.8 -2.3M126.3 400.0l-2.3 2.3M124.6 398.9l0.6 -2.8M122.2 396.9l0.9 -3.0M120.3 395.3l0.6 -2.0M119.2 394.3l-1.6 2.1M117.3 392.7l1.7 -1.6M115.9 391.1l-1.6 2.4M115.0 389.9l2.1 -1.4M113.4 387.5l1.8 -2.5M112.3 385.7l2.6 -1.1M152.7 409.7l2.0 -2.5M151.6 407.6l-2.3 1.9M150.5 405.5l2.9 -0.3M149.0 403.0l-3.2 1.3M147.4 400.9l2.5 -0.8M146.0 399.3l-1.5 2.7M145.0 398.2l1.2 -1.9M144.0 397.0l2.2 -1.7M142.9 395.7l-2.2 1.3M141.3 393.6l-0.9 1.8M139.6 391.6l2.1 -1.1M138.2 390.2l-1.1 2.2M136.4 388.4l1.5 -2.9M135.2 387.2l1.4 -1.2M133.1 385.1l2.1 -1.7M131.4 383.4l-1.0 2.4M130.4 382.4l2.1 -1.2M152.9 427.7l-3.7 -0.4M153.6 426.2l2.9 0.1M154.3 424.7l-2.2 -1.5M155.4 422.5l-2.0 -1.9M156.5 420.7l3.4 2.1M158.0 418.7l-3.4 -0.7M159.6 416.6l3.2 2.0M161.1 414.6l-3.4 -2.0M162.5 412.4l2.7 3.0M163.7 410.5l-2.8 -2.7M164.9 408.4l2.9 1.6M166.2 406.1l2.4 2.0M166.9 404.8l-2.9 -2.4M168.1 402.5l2.5 2.4M168.7 401.1l2.3 2.4M169.8 398.4l-3.5 -0.9M170.5 396.4l2.7 1.9M164.5 414.0l0.7 1.9M165.9 412.8l-2.0 -1.7M168.1 410.9l0.8 1.6M169.5 409.8l0.9 2.4M172.3 408.1l-0.7 -2.2M174.9 407.1l0.3 2.0M138.0 406.9l-2.1 1.7M136.3 405.1l1.6 -2.1M134.4 403.0l-2.3 2.2M133.2 401.9l1.1 -1.4M131.4 400.3l2.2 -1.3M130.1 399.1l2.3 -1.7M128.2 397.2l-2.7 1.4M126.5 395.5l0.9 -1.9M125.1 394.1l-1.5 0.8M157.2 423.3l-0.7 -2.7M158.5 422.2l1.6 1.9M161.2 420.0l-1.4 -1.5M162.5 419.0l1.1 2.8M164.7 417.4l-1.1 -2.9M166.5 416.3l-0.4 -2.0M168.3 415.2l2.5 1.9M170.7 414.1l-0.0 3.2M173.6 412.9l-1.5 -1.4M176.0 411.9l0.3 3.1M177.5 411.4l-0.6 -1.5M179.9 410.4l-1.4 -2.0M182.6 408.7l0.7 2.7M184.6 406.9l-1.9 -1.0M186.7 404.3l1.4 1.9M188.3 402.0l-1.4 -1.3M151.5 433.1l-2.6 1.1M149.8 431.4l1.5 -2.4M147.8 429.4l1.3 -2.8M146.5 427.8l-1.7 2.1M144.9 425.7l2.3 -1.7M143.7 423.9l-1.6 2.1M142.5 421.9l1.6 -1.2M141.5 420.1l-1.8 0.5M134.3 492.3l2.2 2.3M132.4 494.6l-1.1 -3.2M130.6 495.5l1.8 2.9M127.5 496.8l-1.9 -2.9M126.1 497.3l1.8 2.7M123.7 498.1l0.3 -2.3M121.7 498.5l-0.8 3.0M120.2 498.7l1.2 -3.2M117.6 498.6l-0.2 -2.9M115.5 498.5l0.9 3.0M113.0 498.2l1.3 -2.2M110.8 497.8l-0.5 -2.4M108.7 497.3l-0.7 2.4M105.9 496.3l0.2 -2.3M104.6 495.4l1.0 -2.0M102.4 493.3l-1.6 1.0M100.9 492.0l-2.1 2.2M99.3 490.2l-1.0 2.3M98.0 489.1l1.5 -1.4M95.8 487.6l-0.8 2.2M94.3 486.6l-0.3 2.0M92.9 485.7l1.9 -2.2M120.8 498.7l0.1 2.2M119.3 499.0l-1.4 -2.2M117.2 499.4l0.3 1.9M114.8 499.9l-0.6 -2.7M113.1 500.2l0.9 1.8M111.5 500.5l-0.3 -2.3M109.4 500.9l-1.0 -1.5M107.3 501.2l1.1 2.0M105.7 501.4l0.4 -2.9M103.2 501.7l-0.7 -2.6M101.7 501.8l0.1 -3.0M99.0 502.0l0.9 1.9M96.4 502.0l-0.5 -3.0M94.0 502.0l-0.1 -2.9M92.0 502.0l0.8 2.3M90.8 502.0l0.1 -2.9M88.1 501.9l-1.0 2.6M85.6 501.6l-0.6 -2.8M82.2 501.2l0.5 2.3M79.8 500.9l0.1 -2.7M78.1 500.7l-0.2 1.8M76.2 500.5l0.7 -2.8M133.9 493.8l2.7 1.1M133.2 496.0l-3.3 0.1M131.7 498.6l2.0 1.9M130.7 499.4l-2.5 -1.5M128.6 500.9l0.5 3.3M126.2 502.2l-1.6 -1.9M124.4 503.3l1.1 2.9M122.1 504.6l-1.0 -2.0M119.8 505.7l0.1 2.3M117.9 506.6l-0.1 3.1M115.9 507.4l-0.4 -3.2M114.5 508.0l0.6 2.5M111.9 508.9l-0.9 -2.1M109.9 509.5l-1.2 -2.3M107.9 510.1l1.6 2.0M106.3 510.6l0.3 3.2M104.3 511.1l-1.1 -3.1M101.7 511.3l0.3 3.1M99.6 511.0l0.1 -1.8M97.5 510.5l-0.3 2.8M94.4 509.9l0.3 -2.0M91.6 508.9l0.4 1.9M90.1 508.9l-0.4 -3.0M88.0 510.0l1.3 2.3M86.6 510.9l-1.4 -1.2M84.3 512.8l2.1 1.4M82.2 514.6l-1.2 -0.9M102.1 511.6l1.7 0.5M101.7 513.4l2.3 -0.2M101.2 515.8l-1.7 0.3M100.8 518.0l2.9 0.7M100.5 520.2l-2.4 -0.5M100.3 522.4l2.2 0.9M100.1 523.9l-2.5 -0.9M99.4 526.5l1.4 1.4M98.7 528.5l1.2 0.9M98.0 530.6l2.3 0.5M97.4 532.9l-2.1 0.3M97.0 534.2l2.0 0.9M100.2 519.0l0.4 2.3M97.7 518.9l-0.1 -1.8M95.5 519.1l0.2 2.1M92.7 520.2l-0.9 -2.3M127.8 501.2l1.4 1.2M126.2 503.1l-1.5 -1.0M125.4 504.9l-2.7 -0.2M125.1 506.6l-1.9 0.4M124.8 509.7l2.2 0.9M124.7 511.9l-2.2 0.5M124.5 514.6l2.7 -0.3M124.4 516.4l-1.9 0.1M124.4 518.2l-2.0 -0.9M124.4 519.8l2.0 -0.8M124.3 521.5l-2.7 0.2M139.5 493.8l3.6 0.5M139.6 495.1l-2.6 -0.0M140.6 497.6l2.3 -1.3M141.8 500.0l-2.1 0.9M143.2 502.5l2.6 -1.5M144.5 504.9l-2.2 1.5M145.8 507.2l-2.3 2.2M146.9 509.0l3.3 -1.2M148.3 511.0l2.2 -1.9M150.1 512.7l-0.9 2.1M152.2 514.1l-0.3 2.9M154.0 515.0l0.5 -1.9M156.2 516.0l-0.3 2.5M158.0 516.7l0.4 -3.0M159.6 517.2l-0.9 1.8M162.1 517.8l1.4 -2.6M164.1 518.1l0.6 3.1M166.6 518.5l0.5 -2.8M168.8 518.7l-0.1 1.8M170.4 518.8l0.0 -2.3M172.6 519.0l-0.1 -1.6M174.9 519.2l0.7 -2.1M177.8 519.4l0.3 -2.1M180.5 519.6l1.1 2.8M182.0 519.7l-0.7 2.5M148.7 511.6l1.5 -1.6M149.4 513.0l2.2 -1.1M150.7 515.5l2.9 -0.6M152.0 518.1l2.5 -1.8M152.8 519.5l1.3 -1.3M154.1 521.8l-1.9 1.3M155.0 523.2l2.9 -1.4M156.1 524.9l-1.8 0.6M157.4 526.4l2.5 -0.8M159.4 528.2l-1.6 2.2M161.1 529.4l0.9 -2.3M162.4 530.3l-2.4 1.5M163.7 531.2l-1.1 1.2M166.5 532.9l0.7 -2.1M168.4 533.8l-1.4 1.1M171.0 535.0l1.1 -2.3M173.1 535.8l-0.9 2.7M174.6 536.5l0.2 -2.3M153.7 522.1l1.7 0.6M153.3 524.4l-1.7 -0.3M152.7 527.3l2.9 0.3M152.4 529.0l-2.0 -0.6M152.2 531.0l2.8 0.1M152.0 532.6l-2.1 0.2M151.8 535.2l2.8 0.5M151.6 537.2l-2.5 -1.0M151.3 539.8l1.9 0.7M151.0 543.0l-1.8 -0.2M150.9 545.2l2.4 0.3M150.8 548.2l-2.9 -0.3M150.7 549.6l2.5 -0.7M151.6 532.5l-0.3 -2.0M150.3 532.2l-0.4 1.6M147.4 531.8l-0.4 -2.2M145.6 531.6l-0.3 -2.0M142.8 531.4l-0.1 1.6M141.1 531.3l0.4 2.1M139.5 531.3l-0.1 -2.5M147.8 509.0l0.3 1.5M149.9 508.7l-0.2 -1.6M152.7 508.5l0.1 2.9M154.5 508.4l0.3 1.9M157.2 508.5l1.1 -2.5M160.2 508.8l-0.7 1.2M161.8 508.9l0.2 -1.5" stroke-width=".9" opacity=".9"/>
<path d="M155.0 508.4C157.6 508.4 161.9 509.0 163.3 509.1" stroke-width="0.8"/>
<path d="M164.3 414.2C165.3 413.4 168.3 410.5 170.3 409.2M170.3 409.2C172.3 407.9 175.3 407.0 176.3 406.6M130.1 399.1C128.5 397.6 125.5 394.5 124.6 393.6M180.3 410.2C182.1 409.2 183.6 408.0 185.0 406.5M185.0 406.5C186.4 405.0 188.2 402.0 188.9 401.1M147.5 429.0C146.3 427.6 145.4 426.4 144.3 424.8M144.3 424.8C143.2 423.2 141.7 420.4 141.2 419.5M98.0 489.1C96.3 487.8 92.7 485.6 91.6 484.9M94.0 502.0C91.5 502.0 90.6 502.1 87.4 501.8M87.4 501.8C84.2 501.5 76.9 500.6 74.8 500.3M89.5 509.1C87.2 510.0 82.5 514.4 81.1 515.5M100.8 518.0C100.4 520.1 100.5 522.1 100.1 523.9M100.1 523.9C99.7 525.7 99.0 527.2 98.5 529.0M98.5 529.0C98.0 530.8 97.2 533.6 96.9 534.5M100.5 519.0C99.8 519.0 97.5 518.7 96.0 519.0M96.0 519.0C94.5 519.3 92.3 520.4 91.6 520.7M125.4 504.9C124.8 506.9 124.8 510.2 124.6 513.0M124.6 513.0C124.4 515.8 124.3 520.3 124.3 521.8M171.0 518.9C174.5 519.2 180.4 519.6 182.3 519.7M162.0 530.0C163.8 531.2 165.3 532.3 167.5 533.4M167.5 533.4C169.7 534.5 173.7 536.1 174.9 536.6M152.4 529.0C152.1 531.5 151.9 534.3 151.7 536.6M151.7 536.6C151.5 538.9 151.2 540.7 151.0 543.0M151.0 543.0C150.8 545.3 150.8 549.1 150.7 550.3M151.9 532.5C150.8 532.3 147.3 531.7 145.0 531.5M145.0 531.5C142.7 531.3 139.2 531.3 138.0 531.3M147.5 509.0C148.8 508.9 152.4 508.4 155.0 508.4" stroke-width="1.2"/>
<path d="M125.4 399.5C123.4 398.2 121.6 396.4 120.0 395.0M120.0 395.0C118.4 393.6 117.3 392.8 115.9 391.1M115.9 391.1C114.5 389.4 112.4 385.9 111.7 384.8M140.0 392.0C138.6 390.4 137.6 389.6 135.9 387.9M135.9 387.9C134.2 386.2 130.7 382.7 129.6 381.6M175.0 396.0C176.4 396.2 178.6 396.9 179.3 397.1M138.2 407.1C137.5 406.4 135.3 403.9 134.0 402.6M134.0 402.6C132.7 401.3 131.7 400.6 130.1 399.1M162.5 419.0C164.4 417.6 166.3 416.3 168.3 415.2M168.3 415.2C170.3 414.1 172.5 413.3 174.5 412.5M174.5 412.5C176.5 411.7 178.6 411.2 180.3 410.2M151.7 433.3C151.0 432.6 148.7 430.4 147.5 429.0M106.4 496.5C104.6 495.6 103.4 494.2 102.0 493.0M102.0 493.0C100.6 491.8 99.7 490.5 98.0 489.1M121.1 498.6C119.4 498.9 114.2 500.1 111.0 500.6M111.0 500.6C107.8 501.1 105.0 501.6 102.2 501.8M102.2 501.8C99.4 502.0 96.5 502.0 94.0 502.0M102.2 511.3C99.9 511.3 97.1 510.4 95.0 510.0M95.0 510.0C92.9 509.6 91.8 508.2 89.5 509.1M102.2 511.3C102.0 512.4 101.2 515.9 100.8 518.0M128.0 501.0C127.6 501.6 126.0 502.9 125.4 504.9M131.7 521.8C130.3 527.6 127.9 535.8 126.0 543.0M126.0 543.0C124.1 550.2 121.1 561.3 120.1 565.0M152.8 501.8C155.1 502.6 158.2 503.2 161.0 503.4M161.0 503.4C163.8 503.6 167.1 503.2 169.6 502.8M169.6 502.8C172.1 502.4 173.9 501.7 176.0 501.0M176.0 501.0C178.1 500.3 180.5 499.5 182.3 498.6M182.3 498.6C184.1 497.7 185.8 496.5 187.0 495.7M187.0 495.7C188.2 494.9 189.1 494.2 189.5 493.9M154.0 515.0C156.1 516.0 158.4 517.0 161.2 517.6M161.2 517.6C164.0 518.2 167.5 518.5 171.0 518.9M148.6 511.3C149.2 512.6 151.1 516.5 152.5 519.0M152.5 519.0C153.9 521.5 155.4 524.2 157.0 526.0M157.0 526.0C158.6 527.8 160.2 528.8 162.0 530.0M153.8 521.8C153.6 523.0 152.8 526.5 152.4 529.0" stroke-width="1.6"/>
<path d="M140.1 408.0C137.8 406.3 134.4 404.4 132.0 403.0M132.0 403.0C129.6 401.6 127.4 400.8 125.4 399.5M144.3 397.4C142.8 395.6 141.4 393.6 140.0 392.0M170.9 396.0C171.6 396.0 173.6 395.8 175.0 396.0M157.0 423.5C157.9 422.8 160.6 420.4 162.5 419.0M121.1 498.6C118.8 498.8 115.5 498.6 113.0 498.2M113.0 498.2C110.5 497.8 108.2 497.4 106.4 496.5M116.9 507.0C114.4 508.1 111.5 509.1 109.0 509.8M109.0 509.8C106.5 510.5 104.5 511.3 102.2 511.3M137.0 495.4C136.5 498.1 135.4 503.6 134.5 508.0M134.5 508.0C133.6 512.4 133.1 516.0 131.7 521.8M141.5 492.5C141.8 492.8 142.3 493.3 143.3 494.4M143.3 494.4C144.3 495.4 145.9 497.6 147.5 498.8M147.5 498.8C149.1 500.0 150.6 501.0 152.8 501.8M144.0 504.0C145.4 506.5 146.9 509.5 148.6 511.3M148.6 511.3C150.3 513.1 151.9 514.0 154.0 515.0" stroke-width="2.0"/>
<path d="M151.7 420.6C150.8 419.3 147.9 415.1 146.0 413.0M146.0 413.0C144.1 410.9 142.4 409.7 140.1 408.0M152.8 410.0C152.2 408.8 150.4 405.1 149.0 403.0M149.0 403.0C147.6 400.9 145.8 399.2 144.3 397.4M132.7 494.4C131.4 495.2 128.9 496.3 127.0 497.0M127.0 497.0C125.1 497.7 123.4 498.4 121.1 498.6M131.7 498.6C130.0 500.3 126.5 502.1 124.0 503.5M124.0 503.5C121.5 504.9 119.4 505.9 116.9 507.0M137.6 492.0C137.5 492.6 137.5 492.7 137.0 495.4M140.1 496.5C140.8 498.2 142.6 501.5 144.0 504.0" stroke-width="2.4"/>
<path d="M134.5 492.0C134.2 492.4 133.9 493.6 132.7 494.4M134.0 493.5C133.6 494.4 133.4 496.9 131.7 498.6M139.5 493.5C139.6 494.0 139.3 494.8 140.1 496.5" stroke-width="2.8"/>
<path d="M151.7 433.3C152.1 430.6 152.6 428.0 152.8 426.9M161.6 413.8C163.2 411.5 164.2 409.5 165.4 407.5M165.4 407.5C166.6 405.5 167.6 403.6 168.5 401.6M168.5 401.6C169.4 399.6 170.5 396.4 170.9 395.4" stroke-width="3.2"/>
<path d="M148.6 454.3C149.3 450.8 150.0 446.5 150.5 443.0M150.5 443.0C151.0 439.5 151.3 436.0 151.7 433.3M152.8 428.0C153.3 426.9 154.5 423.9 156.0 421.5M156.0 421.5C157.5 419.1 160.0 416.1 161.6 413.8" stroke-width="3.6"/>
<path d="M140.5 480.0C141.0 478.9 142.4 476.0 143.3 473.3M143.3 473.3C144.2 470.6 145.1 467.2 146.0 464.0M146.0 464.0C146.9 460.8 147.8 457.8 148.6 454.3M152.8 426.9C153.0 425.2 153.7 420.1 153.8 417.0M153.8 417.0C153.9 413.9 154.0 411.5 153.6 408.0M153.6 408.0C153.2 404.5 152.0 399.6 151.2 396.0" stroke-width="4.0"/>
<path d="M151.2 396.0C150.4 392.4 149.2 388.0 148.8 386.4" stroke-width="4.4"/>
<path d="M144.4 462C144 466 143 469.5 140.2 474.7C137.5 478 131.5 480 130.6 486C130 491.5 133.5 495.4 138.5 495.6C143.5 495.8 146.6 491.5 146.8 486C147 481 146.8 476 147.4 472C148 468 149 465 149.3 462Z" fill="#3f6b3b" stroke="none"/><circle cx="138.6" cy="486.6" r="3.4" fill="#2d5230" stroke="none" opacity=".55"/><polygon points="187.4,489.9 194.6,492.4 189.4,497.6" fill="#3f6b3b" stroke="none"/>
</g>
<g transform="translate(497.0 0)" fill="none" stroke="#b93b3d" stroke-linecap="round" stroke-linejoin="round">
<path d="M237.8 353.1C237.2 351.8 236.1 350.8 235.0 350.0M235.0 350.0C233.9 349.2 232.1 348.8 231.5 348.6M237.8 353.1C238.1 352.5 238.9 350.6 239.5 349.5M239.5 349.5C240.1 348.4 241.1 347.2 241.4 346.7M255.9 361.2C256.3 360.7 257.9 359.1 258.5 358.0M258.5 358.0C259.1 356.9 259.5 355.9 259.5 354.9M259.5 354.9C259.5 353.9 259.1 352.8 258.5 352.0M258.5 352.0C257.9 351.2 256.3 350.7 255.9 350.4M206.5 385.5C205.6 383.2 204.7 380.8 203.5 379.3M203.5 379.3C202.3 377.8 200.7 377.4 199.5 376.5M199.5 376.5C198.3 375.6 197.2 375.0 196.3 373.9M196.3 373.9C195.4 372.8 194.6 371.4 194.0 370.0M194.0 370.0C193.4 368.6 192.9 366.4 192.7 365.7M296.0 406.6C298.4 406.0 300.1 405.0 302.9 404.6M302.9 404.6C305.7 404.2 309.4 404.3 313.0 404.3M313.0 404.3C316.6 404.3 322.7 404.6 324.6 404.6M194.2 467.0C193.6 468.8 193.6 470.4 192.7 472.4M192.7 472.4C191.8 474.3 189.6 477.6 189.0 478.7M199.0 483.0C197.5 485.2 195.2 488.4 194.5 489.5M207.6 486.0C207.3 488.1 207.5 489.2 207.1 492.2M207.1 492.2C206.7 495.2 205.6 502.0 205.3 504.0M219.8 476.0C220.2 478.2 220.6 480.4 221.0 482.5M221.0 482.5C221.4 484.6 222.2 487.6 222.5 488.6" stroke-width="1.6"/>
<path d="M239.6 367.5C239.2 366.8 238.4 364.4 237.5 363.0M237.5 363.0C236.6 361.6 235.5 360.3 234.2 359.4M234.2 359.4C232.9 358.5 231.2 357.9 229.5 357.5M229.5 357.5C227.8 357.1 225.2 356.8 224.3 356.7M238.5 363.0C238.5 362.2 238.4 359.6 238.3 358.0M238.3 358.0C238.2 356.4 238.4 354.4 237.8 353.1M240.5 373.0C241.0 372.2 242.4 369.9 243.5 368.5M243.5 368.5C244.6 367.1 245.7 365.8 246.9 364.8M246.9 364.8C248.2 363.8 249.5 363.1 251.0 362.5M251.0 362.5C252.5 361.9 253.8 361.6 255.9 361.2M255.9 361.2C258.0 360.8 262.2 360.4 263.5 360.3M211.6 434.0C211.2 431.8 209.8 424.9 209.0 421.0M209.0 421.0C208.2 417.1 207.3 414.2 207.1 410.9M207.1 410.9C206.9 407.6 207.3 404.0 207.6 401.0M207.6 401.0C207.9 398.0 209.1 395.4 208.9 392.8M208.9 392.8C208.7 390.2 207.4 387.8 206.5 385.5M217.8 428.5C218.0 428.0 218.1 426.6 218.9 425.4M218.9 425.4C219.7 424.2 221.2 422.6 222.5 421.4M222.5 421.4C223.8 420.2 225.1 419.4 227.0 418.1M227.0 418.1C228.9 416.8 231.6 415.0 234.0 413.6M234.0 413.6C236.4 412.2 238.7 411.1 241.4 410.0M241.4 410.0C244.1 408.9 247.0 408.1 250.0 407.3M250.0 407.3C253.0 406.6 256.6 405.9 259.5 405.5M259.5 405.5C262.4 405.1 264.8 405.1 267.5 405.1M267.5 405.1C270.2 405.1 273.3 405.1 275.8 405.5M275.8 405.5C278.3 405.9 280.4 406.8 282.5 407.2M282.5 407.2C284.6 407.6 286.1 408.3 288.4 408.2M288.4 408.2C290.6 408.1 293.6 407.2 296.0 406.6M196.3 461.5C195.4 463.3 194.8 465.2 194.2 467.0M205.5 468.0C204.7 471.1 204.6 473.5 203.5 476.0M203.5 476.0C202.4 478.5 200.5 480.8 199.0 483.0M208.9 479.6C208.4 482.1 207.9 483.9 207.6 486.0M218.6 469.0C219.0 471.8 219.4 473.8 219.8 476.0" stroke-width="2.0"/>
<path d="M240.5 376.6C240.6 374.9 240.5 373.5 240.3 372.0M240.3 372.0C240.2 370.5 239.7 368.2 239.6 367.5M203.5 450.7C202.4 452.1 200.7 454.2 199.5 456.0M199.5 456.0C198.3 457.8 197.2 459.7 196.3 461.5M208.4 457.5C207.9 459.2 206.3 464.9 205.5 468.0M212.8 460.5C212.5 462.2 211.5 467.8 210.8 471.0M210.8 471.0C210.2 474.2 209.4 477.1 208.9 479.6M217.6 459.5C217.8 461.1 218.2 466.2 218.6 469.0" stroke-width="2.4"/>
<path d="M237.8 387.4C239.1 385.6 239.6 383.8 240.0 382.0M240.0 382.0C240.4 380.2 240.4 378.3 240.5 376.6M206.0 447.5C205.6 448.0 204.6 449.3 203.5 450.7" stroke-width="2.8"/>
<path d="M222.0 405.0C223.3 402.6 225.2 400.4 227.0 398.3M227.0 398.3C228.8 396.2 230.7 394.3 232.5 392.5M232.5 392.5C234.3 390.7 236.6 389.1 237.8 387.4" stroke-width="3.2"/>
<path d="M217.3 422.0C217.8 418.6 218.1 415.5 218.9 412.7M218.9 412.7C219.7 409.9 220.7 407.4 222.0 405.0" stroke-width="3.6"/>
<path d="M216.1 433.0C216.3 431.2 216.8 425.4 217.3 422.0" stroke-width="4.0"/>
<path d="M216 430C220 434 223 438.5 223.5 445C224 452 221 458.5 216.5 461.5C213.5 463.5 210.5 462.5 208 459.5C204.5 455.5 202.8 450.5 203.6 445.5C204.6 439.5 210.5 436 216 430Z" fill="#c03f41" stroke="none"/><ellipse cx="213.6" cy="446.4" rx="4.6" ry="5.6" fill="#a52d31" stroke="none"/><circle cx="213.6" cy="446.4" r="1.3" fill="#5f1216" stroke="none"/><g fill="#b93b3d" stroke="none"><circle cx="224.4" cy="356.8" r="1.5"/><circle cx="231.6" cy="348.7" r="1.3"/><circle cx="241.4" cy="346.7" r="1.2"/><circle cx="263.4" cy="360.3" r="1.4"/><circle cx="256" cy="350.4" r="1.3"/><circle cx="192.7" cy="365.8" r="1.1"/></g>
</g>
<g fill="#6b71c6"><circle cx="619.5" cy="386.5" r="3.4"/><circle cx="617.7" cy="410.8" r="3.4"/><circle cx="677.5" cy="479.3" r="3.4"/><circle cx="687.3" cy="482.6" r="3.4"/><circle cx="693.8" cy="477.6" r="3.4"/><circle cx="677.5" cy="491.9" r="3.4"/><circle cx="698.3" cy="494.4" r="3.4"/><circle cx="689.8" cy="500.7" r="3.4"/><circle cx="640.8" cy="524.5" r="3.4"/><circle cx="665.9" cy="524.5" r="3.4"/><circle cx="585.1" cy="532.6" r="3.4"/><circle cx="825.5" cy="355.9" r="3.4"/><circle cx="854.0" cy="491.1" r="3.4"/></g>
<g fill="#c8373c"><circle cx="823.8" cy="404.8" r="2.6"/></g>
<g fill="#c8373c"><circle cx="691.8" cy="489.6" r="2.0"/></g>
<g fill="none" stroke="#111" stroke-width="2" stroke-linecap="round"><path d="M814.0 397.1h17.6M814.0 412.3h17.6" stroke-dasharray="0 4.375"/><path d="M814.0 397.1v15.3M831.5 397.1v15.3" stroke-dasharray="0 5.067"/></g>
<text x="174.6" y="297.1" font-size="18.15" fill="#111">Lateral amygdala</text>
<text x="671.8" y="297.1" font-size="18.15" fill="#111">Lateral amygdala</text>
<text x="191.5" y="334.0" font-size="16.45" fill="#111">PV+ neuron</text>
<text x="685.4" y="334.0" font-size="16.45" fill="#111">PV+ neuron</text>
<text x="65.2" y="466.4" font-size="16.45" fill="#111">Engram</text>
<text x="563.0" y="466.2" font-size="16.45" fill="#111">Engram</text>
<text x="859.6" y="412.8" font-size="16.45" fill="#111">Engram</text>
<text x="354.4" y="430.0" font-size="16.45" fill="#111">Non-engram</text>
<text x="240.0" y="554.9" font-size="16.45" fill="#111">Non-engram</text>
<text x="737.0" y="554.9" font-size="16.45" fill="#111">Non-engram</text>
<text x="280.2" y="441.3" font-size="16.45" fill="#ef6f92">GABA</text>
<text x="189.2" y="521.8" font-size="16.45" fill="#6b71c6">AEA</text>
<text x="691.8" y="521.6" font-size="16.45" fill="#6b71c6">AEA</text>
</g>
<defs>
<filter id="glow" x="-10%" y="-15%" width="120%" height="130%"><feGaussianBlur stdDeviation="2.6"/></filter>
<linearGradient id="gGray" gradientUnits="userSpaceOnUse" x1="320.5" x2="414" y1="0" y2="0"><stop offset="0" stop-color="#444"/><stop offset=".05" stop-color="#5c5c5c"/><stop offset=".27" stop-color="#949494"/><stop offset=".53" stop-color="#c8c8c8"/><stop offset=".78" stop-color="#ececec"/><stop offset="1" stop-color="#f8f8f8"/></linearGradient>
<linearGradient id="gGreen" gradientUnits="userSpaceOnUse" x1="817.8" x2="904" y1="0" y2="0"><stop offset="0" stop-color="#41653a"/><stop offset=".05" stop-color="#52744a"/><stop offset=".27" stop-color="#8fa587"/><stop offset=".55" stop-color="#cbd5c6"/><stop offset=".8" stop-color="#ebefe8"/><stop offset="1" stop-color="#f7f8f6"/></linearGradient>
<linearGradient id="fadeL" x1="0" x2="1"><stop offset="0" stop-color="#fff"/><stop offset="1" stop-color="#fff" stop-opacity="0"/></linearGradient>
<clipPath id="cellL"><rect x="315" y="715" width="99" height="220"/></clipPath>
<clipPath id="cellR"><rect x="812" y="715" width="91.8" height="220"/></clipPath>
</defs>
<g transform="translate(0.0 0)">
<path d="M84 810.3L140 810.3C142.5 810.2 150.1 810.1 155.1 809.5C160.1 808.9 165.6 808.0 170.1 806.5C174.6 805.0 178.4 803.1 182.2 800.5C186.0 797.9 189.2 794.4 192.7 790.7C196.2 787.1 199.8 782.1 203.3 778.6C206.8 775.1 210.3 771.9 213.8 769.6C217.3 767.4 221.1 766.3 224.3 765.1C227.5 763.9 230.2 763.2 233.0 762.6C235.8 762.0 237.9 760.9 241.0 761.8C244.1 762.7 248.4 765.5 251.4 768.1C254.4 770.7 256.7 773.1 259.0 777.1C261.3 781.1 263.5 786.7 265.0 792.2C266.5 797.7 267.4 804.2 268.0 810.2C268.6 816.2 268.8 823.0 268.8 828.3C268.8 833.6 268.6 838.8 268.0 841.9C267.4 845.0 265.5 845.8 265.0 846.6C263.2 846.6 257.2 845.9 254.5 846.4C251.8 846.9 250.4 848.0 249.0 849.5C247.6 851.0 246.6 853.6 246.2 855.4C245.8 857.2 246.0 859.0 246.4 860.5C246.8 862.0 247.4 863.4 248.4 864.5C249.4 865.6 251.0 866.4 252.5 867.0C254.0 867.6 255.7 867.6 257.5 868.2C259.3 868.8 262.2 869.5 263.5 870.5C264.8 871.5 264.9 872.8 265.0 874.0C265.1 875.2 264.7 876.5 264.2 878.0C263.7 879.5 262.9 881.5 262.0 883.0C261.1 884.5 260.3 885.8 259.0 887.0C257.7 888.2 255.8 889.4 254.0 890.3C252.2 891.2 251.3 891.8 248.4 892.3C245.5 892.8 240.4 893.5 236.4 893.1C232.4 892.7 228.3 891.9 224.3 890.1C220.3 888.3 216.3 885.8 212.3 882.5C208.3 879.2 204.2 874.5 200.2 870.5C196.2 866.5 192.2 861.8 188.2 858.4C184.2 855.0 180.4 852.1 176.1 850.2C171.8 848.3 167.1 847.4 162.6 846.8C158.1 846.2 152.8 846.5 149.0 846.5C145.2 846.5 141.5 846.5 140.0 846.5L84 846.5" fill="#f6b6b6" stroke="#f4a4a6" stroke-width="5" filter="url(#glow)" opacity=".75"/>
<path d="M84 810.3L140 810.3C142.5 810.2 150.1 810.1 155.1 809.5C160.1 808.9 165.6 808.0 170.1 806.5C174.6 805.0 178.4 803.1 182.2 800.5C186.0 797.9 189.2 794.4 192.7 790.7C196.2 787.1 199.8 782.1 203.3 778.6C206.8 775.1 210.3 771.9 213.8 769.6C217.3 767.4 221.1 766.3 224.3 765.1C227.5 763.9 230.2 763.2 233.0 762.6C235.8 762.0 237.9 760.9 241.0 761.8C244.1 762.7 248.4 765.5 251.4 768.1C254.4 770.7 256.7 773.1 259.0 777.1C261.3 781.1 263.5 786.7 265.0 792.2C266.5 797.7 267.4 804.2 268.0 810.2C268.6 816.2 268.8 823.0 268.8 828.3C268.8 833.6 268.6 838.8 268.0 841.9C267.4 845.0 265.5 845.8 265.0 846.6C263.2 846.6 257.2 845.9 254.5 846.4C251.8 846.9 250.4 848.0 249.0 849.5C247.6 851.0 246.6 853.6 246.2 855.4C245.8 857.2 246.0 859.0 246.4 860.5C246.8 862.0 247.4 863.4 248.4 864.5C249.4 865.6 251.0 866.4 252.5 867.0C254.0 867.6 255.7 867.6 257.5 868.2C259.3 868.8 262.2 869.5 263.5 870.5C264.8 871.5 264.9 872.8 265.0 874.0C265.1 875.2 264.7 876.5 264.2 878.0C263.7 879.5 262.9 881.5 262.0 883.0C261.1 884.5 260.3 885.8 259.0 887.0C257.7 888.2 255.8 889.4 254.0 890.3C252.2 891.2 251.3 891.8 248.4 892.3C245.5 892.8 240.4 893.5 236.4 893.1C232.4 892.7 228.3 891.9 224.3 890.1C220.3 888.3 216.3 885.8 212.3 882.5C208.3 879.2 204.2 874.5 200.2 870.5C196.2 866.5 192.2 861.8 188.2 858.4C184.2 855.0 180.4 852.1 176.1 850.2C171.8 848.3 167.1 847.4 162.6 846.8C158.1 846.2 152.8 846.5 149.0 846.5C145.2 846.5 141.5 846.5 140.0 846.5L84 846.5" fill="#f7d9d8" stroke="#c8444b" stroke-width="2.9" stroke-linejoin="round"/>
<path d="M84 810.3L140 810.3C142.5 810.2 150.1 810.1 155.1 809.5C160.1 808.9 165.6 808.0 170.1 806.5C174.6 805.0 178.4 803.1 182.2 800.5C186.0 797.9 189.2 794.4 192.7 790.7C196.2 787.1 199.8 782.1 203.3 778.6C206.8 775.1 210.3 771.9 213.8 769.6C217.3 767.4 221.1 766.3 224.3 765.1C227.5 763.9 230.2 763.2 233.0 762.6C235.8 762.0 237.9 760.9 241.0 761.8C244.1 762.7 248.4 765.5 251.4 768.1C254.4 770.7 256.7 773.1 259.0 777.1C261.3 781.1 263.5 786.7 265.0 792.2C266.5 797.7 267.4 804.2 268.0 810.2C268.6 816.2 268.8 823.0 268.8 828.3C268.8 833.6 268.6 838.8 268.0 841.9C267.4 845.0 265.5 845.8 265.0 846.6C263.2 846.6 257.2 845.9 254.5 846.4C251.8 846.9 250.4 848.0 249.0 849.5C247.6 851.0 246.6 853.6 246.2 855.4C245.8 857.2 246.0 859.0 246.4 860.5C246.8 862.0 247.4 863.4 248.4 864.5C249.4 865.6 251.0 866.4 252.5 867.0C254.0 867.6 255.7 867.6 257.5 868.2C259.3 868.8 262.2 869.5 263.5 870.5C264.8 871.5 264.9 872.8 265.0 874.0C265.1 875.2 264.7 876.5 264.2 878.0C263.7 879.5 262.9 881.5 262.0 883.0C261.1 884.5 260.3 885.8 259.0 887.0C257.7 888.2 255.8 889.4 254.0 890.3C252.2 891.2 251.3 891.8 248.4 892.3C245.5 892.8 240.4 893.5 236.4 893.1C232.4 892.7 228.3 891.9 224.3 890.1C220.3 888.3 216.3 885.8 212.3 882.5C208.3 879.2 204.2 874.5 200.2 870.5C196.2 866.5 192.2 861.8 188.2 858.4C184.2 855.0 180.4 852.1 176.1 850.2C171.8 848.3 167.1 847.4 162.6 846.8C158.1 846.2 152.8 846.5 149.0 846.5C145.2 846.5 141.5 846.5 140.0 846.5L84 846.5" fill="none" stroke="#e48687" stroke-width=".8"/>
<rect x="76" y="800" width="20" height="58" fill="url(#fadeL)"/>
<rect x="70" y="800" width="13" height="58" fill="#fff"/>
<g transform="translate(124.5 828.6) rotate(10)">
<circle r="9.4" fill="#fff" stroke="#afa8df" stroke-width="2.9"/>
<circle r="11" fill="none" stroke="#8780c8" stroke-width=".7"/><circle r="7.8" fill="none" stroke="#8780c8" stroke-width=".7"/>
<circle cx="-1.6" cy="-3.5" r="3.1" fill="#f0668e"/><circle cx="3.8" cy=".6" r="3.1" fill="#f0668e"/><circle cx="-2.6" cy="3.3" r="3.1" fill="#f0668e"/>
</g>
<g transform="translate(169.2 830.6) rotate(130)">
<circle r="9.4" fill="#fff" stroke="#afa8df" stroke-width="2.9"/>
<circle r="11" fill="none" stroke="#8780c8" stroke-width=".7"/><circle r="7.8" fill="none" stroke="#8780c8" stroke-width=".7"/>
<circle cx="-1.6" cy="-3.5" r="3.1" fill="#f0668e"/><circle cx="3.8" cy=".6" r="3.1" fill="#f0668e"/><circle cx="-2.6" cy="3.3" r="3.1" fill="#f0668e"/>
</g>
<g transform="translate(206.1 813.0) rotate(60)">
<circle r="9.4" fill="#fff" stroke="#afa8df" stroke-width="2.9"/>
<circle r="11" fill="none" stroke="#8780c8" stroke-width=".7"/><circle r="7.8" fill="none" stroke="#8780c8" stroke-width=".7"/>
<circle cx="-1.6" cy="-3.5" r="3.1" fill="#f0668e"/><circle cx="3.8" cy=".6" r="3.1" fill="#f0668e"/><circle cx="-2.6" cy="3.3" r="3.1" fill="#f0668e"/>
</g>
<g transform="translate(240.2 828.6) rotate(200)">
<circle r="9.4" fill="#fff" stroke="#afa8df" stroke-width="2.9"/>
<circle r="11" fill="none" stroke="#8780c8" stroke-width=".7"/><circle r="7.8" fill="none" stroke="#8780c8" stroke-width=".7"/>
<circle cx="-1.6" cy="-3.5" r="3.1" fill="#f0668e"/><circle cx="3.8" cy=".6" r="3.1" fill="#f0668e"/><circle cx="-2.6" cy="3.3" r="3.1" fill="#f0668e"/>
</g>
</g>
<g transform="translate(497.4 0)">
<path d="M84 810.3L140 810.3C142.5 810.2 150.1 810.1 155.1 809.5C160.1 808.9 165.6 808.0 170.1 806.5C174.6 805.0 178.4 803.1 182.2 800.5C186.0 797.9 189.2 794.4 192.7 790.7C196.2 787.1 199.8 782.1 203.3 778.6C206.8 775.1 210.3 771.9 213.8 769.6C217.3 767.4 221.1 766.3 224.3 765.1C227.5 763.9 230.2 763.2 233.0 762.6C235.8 762.0 237.9 760.9 241.0 761.8C244.1 762.7 248.4 765.5 251.4 768.1C254.4 770.7 256.7 773.1 259.0 777.1C261.3 781.1 263.5 786.7 265.0 792.2C266.5 797.7 267.4 804.2 268.0 810.2C268.6 816.2 268.8 823.0 268.8 828.3C268.8 833.6 268.6 838.8 268.0 841.9C267.4 845.0 265.5 845.8 265.0 846.6C263.2 846.6 257.2 845.9 254.5 846.4C251.8 846.9 250.4 848.0 249.0 849.5C247.6 851.0 246.6 853.6 246.2 855.4C245.8 857.2 246.0 859.0 246.4 860.5C246.8 862.0 247.4 863.4 248.4 864.5C249.4 865.6 251.0 866.4 252.5 867.0C254.0 867.6 255.7 867.6 257.5 868.2C259.3 868.8 262.2 869.5 263.5 870.5C264.8 871.5 264.9 872.8 265.0 874.0C265.1 875.2 264.7 876.5 264.2 878.0C263.7 879.5 262.9 881.5 262.0 883.0C261.1 884.5 260.3 885.8 259.0 887.0C257.7 888.2 255.8 889.4 254.0 890.3C252.2 891.2 251.3 891.8 248.4 892.3C245.5 892.8 240.4 893.5 236.4 893.1C232.4 892.7 228.3 891.9 224.3 890.1C220.3 888.3 216.3 885.8 212.3 882.5C208.3 879.2 204.2 874.5 200.2 870.5C196.2 866.5 192.2 861.8 188.2 858.4C184.2 855.0 180.4 852.1 176.1 850.2C171.8 848.3 167.1 847.4 162.6 846.8C158.1 846.2 152.8 846.5 149.0 846.5C145.2 846.5 141.5 846.5 140.0 846.5L84 846.5" fill="#f6b6b6" stroke="#f4a4a6" stroke-width="5" filter="url(#glow)" opacity=".75"/>
<path d="M84 810.3L140 810.3C142.5 810.2 150.1 810.1 155.1 809.5C160.1 808.9 165.6 808.0 170.1 806.5C174.6 805.0 178.4 803.1 182.2 800.5C186.0 797.9 189.2 794.4 192.7 790.7C196.2 787.1 199.8 782.1 203.3 778.6C206.8 775.1 210.3 771.9 213.8 769.6C217.3 767.4 221.1 766.3 224.3 765.1C227.5 763.9 230.2 763.2 233.0 762.6C235.8 762.0 237.9 760.9 241.0 761.8C244.1 762.7 248.4 765.5 251.4 768.1C254.4 770.7 256.7 773.1 259.0 777.1C261.3 781.1 263.5 786.7 265.0 792.2C266.5 797.7 267.4 804.2 268.0 810.2C268.6 816.2 268.8 823.0 268.8 828.3C268.8 833.6 268.6 838.8 268.0 841.9C267.4 845.0 265.5 845.8 265.0 846.6C263.2 846.6 257.2 845.9 254.5 846.4C251.8 846.9 250.4 848.0 249.0 849.5C247.6 851.0 246.6 853.6 246.2 855.4C245.8 857.2 246.0 859.0 246.4 860.5C246.8 862.0 247.4 863.4 248.4 864.5C249.4 865.6 251.0 866.4 252.5 867.0C254.0 867.6 255.7 867.6 257.5 868.2C259.3 868.8 262.2 869.5 263.5 870.5C264.8 871.5 264.9 872.8 265.0 874.0C265.1 875.2 264.7 876.5 264.2 878.0C263.7 879.5 262.9 881.5 262.0 883.0C261.1 884.5 260.3 885.8 259.0 887.0C257.7 888.2 255.8 889.4 254.0 890.3C252.2 891.2 251.3 891.8 248.4 892.3C245.5 892.8 240.4 893.5 236.4 893.1C232.4 892.7 228.3 891.9 224.3 890.1C220.3 888.3 216.3 885.8 212.3 882.5C208.3 879.2 204.2 874.5 200.2 870.5C196.2 866.5 192.2 861.8 188.2 858.4C184.2 855.0 180.4 852.1 176.1 850.2C171.8 848.3 167.1 847.4 162.6 846.8C158.1 846.2 152.8 846.5 149.0 846.5C145.2 846.5 141.5 846.5 140.0 846.5L84 846.5" fill="#f7d9d8" stroke="#c8444b" stroke-width="2.9" stroke-linejoin="round"/>
<path d="M84 810.3L140 810.3C142.5 810.2 150.1 810.1 155.1 809.5C160.1 808.9 165.6 808.0 170.1 806.5C174.6 805.0 178.4 803.1 182.2 800.5C186.0 797.9 189.2 794.4 192.7 790.7C196.2 787.1 199.8 782.1 203.3 778.6C206.8 775.1 210.3 771.9 213.8 769.6C217.3 767.4 221.1 766.3 224.3 765.1C227.5 763.9 230.2 763.2 233.0 762.6C235.8 762.0 237.9 760.9 241.0 761.8C244.1 762.7 248.4 765.5 251.4 768.1C254.4 770.7 256.7 773.1 259.0 777.1C261.3 781.1 263.5 786.7 265.0 792.2C266.5 797.7 267.4 804.2 268.0 810.2C268.6 816.2 268.8 823.0 268.8 828.3C268.8 833.6 268.6 838.8 268.0 841.9C267.4 845.0 265.5 845.8 265.0 846.6C263.2 846.6 257.2 845.9 254.5 846.4C251.8 846.9 250.4 848.0 249.0 849.5C247.6 851.0 246.6 853.6 246.2 855.4C245.8 857.2 246.0 859.0 246.4 860.5C246.8 862.0 247.4 863.4 248.4 864.5C249.4 865.6 251.0 866.4 252.5 867.0C254.0 867.6 255.7 867.6 257.5 868.2C259.3 868.8 262.2 869.5 263.5 870.5C264.8 871.5 264.9 872.8 265.0 874.0C265.1 875.2 264.7 876.5 264.2 878.0C263.7 879.5 262.9 881.5 262.0 883.0C261.1 884.5 260.3 885.8 259.0 887.0C257.7 888.2 255.8 889.4 254.0 890.3C252.2 891.2 251.3 891.8 248.4 892.3C245.5 892.8 240.4 893.5 236.4 893.1C232.4 892.7 228.3 891.9 224.3 890.1C220.3 888.3 216.3 885.8 212.3 882.5C208.3 879.2 204.2 874.5 200.2 870.5C196.2 866.5 192.2 861.8 188.2 858.4C184.2 855.0 180.4 852.1 176.1 850.2C171.8 848.3 167.1 847.4 162.6 846.8C158.1 846.2 152.8 846.5 149.0 846.5C145.2 846.5 141.5 846.5 140.0 846.5L84 846.5" fill="none" stroke="#e48687" stroke-width=".8"/>
<rect x="76" y="800" width="20" height="58" fill="url(#fadeL)"/>
<rect x="70" y="800" width="13" height="58" fill="#fff"/>
<g transform="translate(124.5 828.6) rotate(10)">
<circle r="9.4" fill="#fff" stroke="#afa8df" stroke-width="2.9"/>
<circle r="11" fill="none" stroke="#8780c8" stroke-width=".7"/><circle r="7.8" fill="none" stroke="#8780c8" stroke-width=".7"/>
<circle cx="-1.6" cy="-3.5" r="3.1" fill="#f0668e"/><circle cx="3.8" cy=".6" r="3.1" fill="#f0668e"/><circle cx="-2.6" cy="3.3" r="3.1" fill="#f0668e"/>
</g>
<g transform="translate(169.2 830.6) rotate(130)">
<circle r="9.4" fill="#fff" stroke="#afa8df" stroke-width="2.9"/>
<circle r="11" fill="none" stroke="#8780c8" stroke-width=".7"/><circle r="7.8" fill="none" stroke="#8780c8" stroke-width=".7"/>
<circle cx="-1.6" cy="-3.5" r="3.1" fill="#f0668e"/><circle cx="3.8" cy=".6" r="3.1" fill="#f0668e"/><circle cx="-2.6" cy="3.3" r="3.1" fill="#f0668e"/>
</g>
<g transform="translate(206.1 813.0) rotate(60)">
<circle r="9.4" fill="#fff" stroke="#afa8df" stroke-width="2.9"/>
<circle r="11" fill="none" stroke="#8780c8" stroke-width=".7"/><circle r="7.8" fill="none" stroke="#8780c8" stroke-width=".7"/>
<circle cx="-1.6" cy="-3.5" r="3.1" fill="#f0668e"/><circle cx="3.8" cy=".6" r="3.1" fill="#f0668e"/><circle cx="-2.6" cy="3.3" r="3.1" fill="#f0668e"/>
</g>
<g transform="translate(240.2 828.6) rotate(200)">
<circle r="9.4" fill="#fff" stroke="#afa8df" stroke-width="2.9"/>
<circle r="11" fill="none" stroke="#8780c8" stroke-width=".7"/><circle r="7.8" fill="none" stroke="#8780c8" stroke-width=".7"/>
<circle cx="-1.6" cy="-3.5" r="3.1" fill="#f0668e"/><circle cx="3.8" cy=".6" r="3.1" fill="#f0668e"/><circle cx="-2.6" cy="3.3" r="3.1" fill="#f0668e"/>
</g>
</g>
<ellipse cx="402.5" cy="823" rx="82" ry="103" fill="url(#gGray)" clip-path="url(#cellL)"/>
<ellipse cx="899.8" cy="823.4" rx="82" ry="103.4" fill="url(#gGreen)" clip-path="url(#cellR)"/>
<g transform="translate(0.0 0)">
<path d="M309.3 800.2C311.1 799.4 314.1 799.3 316.5 799.6C318.9 799.9 321.5 800.6 323.7 802.0C325.9 803.4 327.4 806.5 329.8 808.1C332.2 809.7 335.2 811.1 338.2 811.7C341.2 812.3 345.4 811.3 347.8 811.7C350.2 812.1 351.8 812.9 352.7 814.1C353.6 815.3 353.7 817.5 353.3 818.9C352.9 820.3 351.0 821.1 350.2 822.5C349.4 823.9 348.6 825.5 348.4 827.3C348.2 829.1 349.3 831.4 349.0 833.4C348.7 835.4 347.8 838.0 346.6 839.4C345.4 840.8 343.8 841.8 341.8 841.8C339.8 841.8 337.2 840.2 334.6 839.4C332.0 838.6 328.9 837.2 326.1 837.0C323.3 836.8 320.3 837.7 317.7 838.2C315.1 838.7 312.7 840.0 310.5 840.0C308.3 840.0 306.0 839.5 304.5 838.2C303.0 836.9 302.0 834.4 301.4 832.2C300.8 830.0 300.5 827.3 300.8 824.9C301.1 822.5 303.0 820.1 303.3 817.7C303.6 815.3 302.3 812.7 302.7 810.5C303.1 808.3 304.6 806.2 305.7 804.5C306.8 802.8 307.5 801.0 309.3 800.2Z" fill="#3f6a9c" stroke="#2d4f80" stroke-width=".8"/>
<path d="M306 803.5C312 800.5 320 801 324.5 805C328.5 810 336 813.5 347 813C351.5 813.5 352.5 817.5 350.5 820.5C340 819.5 330 817 322 812.5C316 809.5 309 809 304 811C303.5 808 304.5 805.5 306 803.5Z" fill="#517dae"/>
<path d="M303.6 813C310 811 318 812 324 815.5C332 819.5 342 821.5 350 822C348.5 825 348.3 828 348.6 830.5C340 829 332 828.5 326 828C318 826.5 309 825.5 301 827C301 822 302.5 817.5 303.6 813Z" fill="#2a5186"/>
<path d="M301.4 829.5C308 827.5 318 828.5 326 830.5C334 831.5 342 832 348.8 833C348.5 836 347.5 838.5 346 840C341.5 841.5 336 839.5 330 837.5C322 835.5 314 839 308 839C304 838 302 834 301.4 829.5Z" fill="#517dae"/>
<path d="M308.1 861.7C309.7 861.3 312.7 862.0 315.3 862.3C317.9 862.6 320.9 863.5 323.7 863.5C326.5 863.5 329.4 863.1 332.2 862.3C335.0 861.5 338.2 859.4 340.6 858.7C343.0 858.0 345.0 857.7 346.6 858.1C348.2 858.5 349.7 859.6 350.2 861.1C350.7 862.6 349.2 865.1 349.6 867.1C350.0 869.1 351.7 871.1 352.7 873.1C353.7 875.1 355.3 877.2 355.7 879.2C356.1 881.2 356.0 883.7 355.1 885.2C354.2 886.7 352.2 887.6 350.2 888.2C348.2 888.8 345.4 888.3 343.0 888.8C340.6 889.3 338.2 890.0 335.8 891.2C333.4 892.4 330.8 894.4 328.6 896.0C326.4 897.6 324.5 899.9 322.5 900.8C320.5 901.7 318.1 902.0 316.5 901.4C314.9 900.8 314.1 898.7 312.9 897.2C311.7 895.7 310.3 894.2 309.3 892.4C308.3 890.6 307.8 888.8 306.9 886.4C306.0 884.0 304.3 880.8 303.9 878.0C303.5 875.2 304.2 871.7 304.5 869.5C304.8 867.3 305.1 866.0 305.7 864.7C306.3 863.4 306.5 862.1 308.1 861.7Z" fill="#3f6a9c" stroke="#2d4f80" stroke-width=".8"/>
<path d="M306.5 864C312 862.5 322 865 331 863.5C338 861.5 343 858.5 347 859C350 861 349.5 865 349.6 867C342 868 334 871 326 872.5C318 874 310 873.5 304.5 875C304 870.5 305 866.5 306.5 864Z" fill="#517dae"/>
<path d="M304.2 877C312 875 322 875 330 872.5C338 870 344 868 349.8 867.5C350.5 870 352 872.5 353 874.5C346 876.5 338 879.5 330 882.5C322 885.5 314 887.5 307.5 888C306 884.5 304.8 881 304.2 877Z" fill="#2a5186"/>
<path d="M308 890C316 889 324 887 332 884C340 881 348 878 354.5 876.5C356 880 356 883.5 354.5 886C350 889 343 888.5 337 890.5C330 893.5 324 899.5 319 901C315.5 901 312 896 308 890Z" fill="#517dae"/>
</g>
<g transform="translate(496.8 0)">
<path d="M309.3 800.2C311.1 799.4 314.1 799.3 316.5 799.6C318.9 799.9 321.5 800.6 323.7 802.0C325.9 803.4 327.4 806.5 329.8 808.1C332.2 809.7 335.2 811.1 338.2 811.7C341.2 812.3 345.4 811.3 347.8 811.7C350.2 812.1 351.8 812.9 352.7 814.1C353.6 815.3 353.7 817.5 353.3 818.9C352.9 820.3 351.0 821.1 350.2 822.5C349.4 823.9 348.6 825.5 348.4 827.3C348.2 829.1 349.3 831.4 349.0 833.4C348.7 835.4 347.8 838.0 346.6 839.4C345.4 840.8 343.8 841.8 341.8 841.8C339.8 841.8 337.2 840.2 334.6 839.4C332.0 838.6 328.9 837.2 326.1 837.0C323.3 836.8 320.3 837.7 317.7 838.2C315.1 838.7 312.7 840.0 310.5 840.0C308.3 840.0 306.0 839.5 304.5 838.2C303.0 836.9 302.0 834.4 301.4 832.2C300.8 830.0 300.5 827.3 300.8 824.9C301.1 822.5 303.0 820.1 303.3 817.7C303.6 815.3 302.3 812.7 302.7 810.5C303.1 808.3 304.6 806.2 305.7 804.5C306.8 802.8 307.5 801.0 309.3 800.2Z" fill="#3f6a9c" stroke="#2d4f80" stroke-width=".8"/>
<path d="M306 803.5C312 800.5 320 801 324.5 805C328.5 810 336 813.5 347 813C351.5 813.5 352.5 817.5 350.5 820.5C340 819.5 330 817 322 812.5C316 809.5 309 809 304 811C303.5 808 304.5 805.5 306 803.5Z" fill="#517dae"/>
<path d="M303.6 813C310 811 318 812 324 815.5C332 819.5 342 821.5 350 822C348.5 825 348.3 828 348.6 830.5C340 829 332 828.5 326 828C318 826.5 309 825.5 301 827C301 822 302.5 817.5 303.6 813Z" fill="#2a5186"/>
<path d="M301.4 829.5C308 827.5 318 828.5 326 830.5C334 831.5 342 832 348.8 833C348.5 836 347.5 838.5 346 840C341.5 841.5 336 839.5 330 837.5C322 835.5 314 839 308 839C304 838 302 834 301.4 829.5Z" fill="#517dae"/>
<path d="M308.1 861.7C309.7 861.3 312.7 862.0 315.3 862.3C317.9 862.6 320.9 863.5 323.7 863.5C326.5 863.5 329.4 863.1 332.2 862.3C335.0 861.5 338.2 859.4 340.6 858.7C343.0 858.0 345.0 857.7 346.6 858.1C348.2 858.5 349.7 859.6 350.2 861.1C350.7 862.6 349.2 865.1 349.6 867.1C350.0 869.1 351.7 871.1 352.7 873.1C353.7 875.1 355.3 877.2 355.7 879.2C356.1 881.2 356.0 883.7 355.1 885.2C354.2 886.7 352.2 887.6 350.2 888.2C348.2 888.8 345.4 888.3 343.0 888.8C340.6 889.3 338.2 890.0 335.8 891.2C333.4 892.4 330.8 894.4 328.6 896.0C326.4 897.6 324.5 899.9 322.5 900.8C320.5 901.7 318.1 902.0 316.5 901.4C314.9 900.8 314.1 898.7 312.9 897.2C311.7 895.7 310.3 894.2 309.3 892.4C308.3 890.6 307.8 888.8 306.9 886.4C306.0 884.0 304.3 880.8 303.9 878.0C303.5 875.2 304.2 871.7 304.5 869.5C304.8 867.3 305.1 866.0 305.7 864.7C306.3 863.4 306.5 862.1 308.1 861.7Z" fill="#3f6a9c" stroke="#2d4f80" stroke-width=".8"/>
<path d="M306.5 864C312 862.5 322 865 331 863.5C338 861.5 343 858.5 347 859C350 861 349.5 865 349.6 867C342 868 334 871 326 872.5C318 874 310 873.5 304.5 875C304 870.5 305 866.5 306.5 864Z" fill="#517dae"/>
<path d="M304.2 877C312 875 322 875 330 872.5C338 870 344 868 349.8 867.5C350.5 870 352 872.5 353 874.5C346 876.5 338 879.5 330 882.5C322 885.5 314 887.5 307.5 888C306 884.5 304.8 881 304.2 877Z" fill="#2a5186"/>
<path d="M308 890C316 889 324 887 332 884C340 881 348 878 354.5 876.5C356 880 356 883.5 354.5 886C350 889 343 888.5 337 890.5C330 893.5 324 899.5 319 901C315.5 901 312 896 308 890Z" fill="#517dae"/>
</g>
<g transform="translate(0.0 0) rotate(-4.0 237 767)" stroke-linecap="round" stroke-linejoin="round">
<path d="M227.6 749.3C226.5 746 226 742.6 228.8 740.6M227.6 749.3C223 748.5 216.6 746 216.3 750.5C216 754.5 220.5 754.5 224 755.8" fill="none" stroke="#b93a43" stroke-width="1.1"/>
<path d="M227.2 750.2C227.6 745.4 233.8 744.8 234.4 749.3M236.6 748.6C237 745.6 239.6 744.8 240.4 746.4" fill="none" stroke="#b93a43" stroke-width="1.5"/>
<path d="M242.6 781.6C245 784.6 251 783.6 251 780C251 778 249.6 777.6 248.8 777.8" fill="none" stroke="#b93a43" stroke-width="1.2"/>
<path d="M221.2 756.5L223.8 755.6L227 765.5L224.4 766.4z" fill="#dd646c" stroke="#b93a43" stroke-width=".6"/>
<polygon points="243.2,749.8 248.0,777.8 254.0,776.8 249.2,748.8" fill="#dd646c" stroke="#b93a43" stroke-width=".7"/>
<line x1="245.5" y1="750.6" x2="250.3" y2="776.2" stroke="#e8868c" stroke-width="1.2" opacity=".7"/>
<polygon points="238.0,751.1 243.0,781.9 249.0,780.9 244.0,750.1" fill="#dd646c" stroke="#b93a43" stroke-width=".7"/>
<line x1="240.3" y1="751.9" x2="245.3" y2="780.3" stroke="#e8868c" stroke-width="1.2" opacity=".7"/>
<polygon points="233.0,752.8 237.4,783.4 243.4,782.6 239.0,752.0" fill="#dd646c" stroke="#b93a43" stroke-width=".7"/>
<line x1="235.3" y1="753.7" x2="239.7" y2="781.9" stroke="#e8868c" stroke-width="1.2" opacity=".7"/>
<polygon points="226.3,752.4 228.5,785.0 235.5,784.6 233.3,752.0" fill="#dd646c" stroke="#b93a43" stroke-width=".7"/>
<line x1="228.9" y1="753.5" x2="231.1" y2="783.7" stroke="#e8868c" stroke-width="1.2" opacity=".7"/>
<path d="M232.8 784.8C233.4 789 237.6 790.6 237.2 794C236.6 797.6 229 796 222.6 796.8C218.6 797.4 216.6 799 216 801.6" fill="none" stroke="#b93a43" stroke-width="1.1"/>
</g>
<g transform="translate(495.2 0) rotate(-11.0 237 767)" stroke-linecap="round" stroke-linejoin="round">
<path d="M227.6 749.3C226.5 746 226 742.6 228.8 740.6M227.6 749.3C223 748.5 216.6 746 216.3 750.5C216 754.5 220.5 754.5 224 755.8" fill="none" stroke="#b93a43" stroke-width="1.1"/>
<path d="M227.2 750.2C227.6 745.4 233.8 744.8 234.4 749.3M236.6 748.6C237 745.6 239.6 744.8 240.4 746.4" fill="none" stroke="#b93a43" stroke-width="1.5"/>
<path d="M242.6 781.6C245 784.6 251 783.6 251 780C251 778 249.6 777.6 248.8 777.8" fill="none" stroke="#b93a43" stroke-width="1.2"/>
<path d="M221.2 756.5L223.8 755.6L227 765.5L224.4 766.4z" fill="#dd646c" stroke="#b93a43" stroke-width=".6"/>
<polygon points="243.2,749.8 248.0,777.8 254.0,776.8 249.2,748.8" fill="#dd646c" stroke="#b93a43" stroke-width=".7"/>
<line x1="245.5" y1="750.6" x2="250.3" y2="776.2" stroke="#e8868c" stroke-width="1.2" opacity=".7"/>
<polygon points="238.0,751.1 243.0,781.9 249.0,780.9 244.0,750.1" fill="#dd646c" stroke="#b93a43" stroke-width=".7"/>
<line x1="240.3" y1="751.9" x2="245.3" y2="780.3" stroke="#e8868c" stroke-width="1.2" opacity=".7"/>
<polygon points="233.0,752.8 237.4,783.4 243.4,782.6 239.0,752.0" fill="#dd646c" stroke="#b93a43" stroke-width=".7"/>
<line x1="235.3" y1="753.7" x2="239.7" y2="781.9" stroke="#e8868c" stroke-width="1.2" opacity=".7"/>
<polygon points="226.3,752.4 228.5,785.0 235.5,784.6 233.3,752.0" fill="#dd646c" stroke="#b93a43" stroke-width=".7"/>
<line x1="228.9" y1="753.5" x2="231.1" y2="783.7" stroke="#e8868c" stroke-width="1.2" opacity=".7"/>
</g>
<path d="M729.6 783.2C730 787 732.8 789 732.4 791.6C731.8 795.5 728 796.3 723.7 796.5C719 796.8 713 798 711.4 802.2" fill="none" stroke="#b93a43" stroke-width="1.1" stroke-linecap="round"/>
<g fill="none" stroke="#6b6b6b" stroke-width="1.4"><path d="M722 779.6C713 781.8 706.8 788.4 704.6 797" stroke-dasharray="1.5 1.7"/><path d="M700.6 798.2l7.8 1.8" stroke-width="1.7"/><path d="M737.2 786.6C736.6 795 736.2 804 736 813" stroke-dasharray="1.5 1.7"/><path d="M731.6 814.4h8.4" stroke-width="1.7"/></g>
<g fill="#6470c0"><circle cx="230.6" cy="740.6" r="3.4"/><circle cx="242.3" cy="744.4" r="3.4"/><circle cx="264.3" cy="746.2" r="3.4"/><circle cx="304.2" cy="733.6" r="3.4"/><circle cx="362.5" cy="755.1" r="3.4"/><circle cx="375.8" cy="750.5" r="3.4"/></g>
<g fill="#f0759a"><circle cx="277.6" cy="813.0" r="3.4"/><circle cx="287.2" cy="823.6" r="3.4"/><circle cx="280.9" cy="835.1" r="3.4"/><circle cx="290.2" cy="846.9" r="3.4"/><circle cx="277.1" cy="853.2" r="3.4"/><circle cx="257.0" cy="852.7" r="3.4"/><circle cx="267.8" cy="859.5" r="3.4"/><circle cx="259.5" cy="862.0" r="3.4"/><circle cx="287.7" cy="867.8" r="3.4"/><circle cx="273.9" cy="879.0" r="3.4"/><circle cx="267.1" cy="892.1" r="3.4"/><circle cx="314.9" cy="799.4" r="3.4"/><circle cx="305.3" cy="838.2" r="3.4"/><circle cx="307.8" cy="863.7" r="3.4"/><circle cx="318.9" cy="902.7" r="3.4"/></g>
<g fill="#6470c0"><circle cx="719.4" cy="726.9" r="3.4"/><circle cx="740.0" cy="727.7" r="3.4"/><circle cx="731.4" cy="735.2" r="3.4"/><circle cx="743.2" cy="737.7" r="3.4"/><circle cx="754.5" cy="741.0" r="3.4"/><circle cx="724.4" cy="747.3" r="3.4"/><circle cx="741.2" cy="751.5" r="3.4"/><circle cx="771.3" cy="747.8" r="3.4"/><circle cx="795.6" cy="744.6" r="3.4"/><circle cx="809.4" cy="748.3" r="3.4"/><circle cx="806.0" cy="755.3" r="3.4"/><circle cx="818.8" cy="747.0" r="3.4"/><circle cx="848.4" cy="741.8" r="3.4"/><circle cx="858.1" cy="754.0" r="3.4"/><circle cx="871.1" cy="751.0" r="3.4"/><circle cx="871.1" cy="761.3" r="3.4"/></g>
<text x="160.2" y="701.3" font-size="16.45" fill="#111">PV+ neuron</text>
<text x="290.4" y="701.3" font-size="16.45" fill="#111">Non-engram neuron</text>
<text x="157.8" y="762.8" font-size="16.45" fill="#111">CB1R</text>
<text x="252.0" y="733.6" font-size="16.45" fill="#6470c0">AEA</text>
<text x="241.0" y="916.4" font-size="16.45" fill="#ef6f92">GABA</text>
<text x="305.3" y="925.4" font-size="16.45" fill="#111">GABA-R</text>
<text x="656.5" y="701.3" font-size="16.45" fill="#111">PV+ neuron</text>
<text x="801.0" y="701.3" font-size="16.45" fill="#111">Engram neuron</text>
<text x="652.8" y="762.5" font-size="16.45" fill="#111">CB1R</text>
<text x="792.2" y="733.6" font-size="16.45" fill="#6470c0">AEA</text>
<text x="801.0" y="926.0" font-size="16.45" fill="#111">GABA-R</text>
</svg>
</body></html>
